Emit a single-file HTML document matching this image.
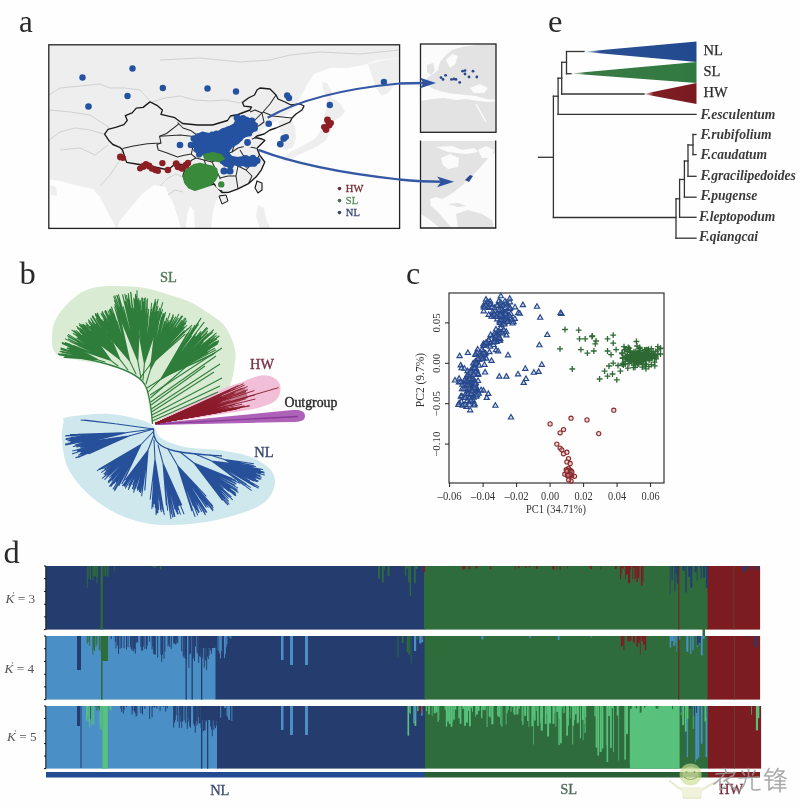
<!DOCTYPE html>
<html><head><meta charset="utf-8"><style>
html,body{margin:0;padding:0;background:#fff;}
svg{display:block;filter:blur(0.35px);}
text{font-family:"Liberation Serif",serif;}
</style></head><body>
<svg width="800" height="808" viewBox="0 0 800 808">
<rect width="800" height="808" fill="#fefefe"/>
<text x="19" y="32" font-size="31" fill="#2a2a2a">a</text>
<text x="19.5" y="284" font-size="32.5" fill="#2a2a2a">b</text>
<text x="406" y="284" font-size="32" fill="#2a2a2a">c</text>
<text x="3.5" y="563" font-size="32.5" fill="#2a2a2a">d</text>
<text x="548" y="32" font-size="32.5" fill="#2a2a2a">e</text>
<g id="structure">
<rect x="46" y="566" width="378.60" height="63.60" fill="#253c6e"/>
<rect x="424" y="566" width="284.10" height="63.60" fill="#2e6c3c"/>
<rect x="707.5" y="566" width="52.60" height="63.60" fill="#7c1c20"/>
<rect x="86.80" y="566" width="0.95" height="21.74" fill="#2e6c3c"/>
<rect x="88.40" y="566" width="0.95" height="12.82" fill="#2e6c3c"/>
<rect x="90.00" y="566" width="0.95" height="13.79" fill="#2e6c3c"/>
<rect x="92.40" y="566" width="0.95" height="14.04" fill="#2e6c3c"/>
<rect x="93.20" y="566" width="0.95" height="10.07" fill="#2e6c3c"/>
<rect x="94.00" y="566" width="0.95" height="10.56" fill="#2e6c3c"/>
<rect x="94.80" y="566" width="0.95" height="9.94" fill="#2e6c3c"/>
<rect x="95.60" y="566" width="0.95" height="10.61" fill="#2e6c3c"/>
<rect x="96.40" y="566" width="0.95" height="17.14" fill="#2e6c3c"/>
<rect x="97.20" y="566" width="0.95" height="11.24" fill="#2e6c3c"/>
<rect x="103.60" y="566" width="0.95" height="10.22" fill="#2e6c3c"/>
<rect x="105.20" y="566" width="0.95" height="10.47" fill="#2e6c3c"/>
<rect x="106.80" y="566" width="0.95" height="9.21" fill="#2e6c3c"/>
<rect x="107.60" y="566" width="0.95" height="10.91" fill="#2e6c3c"/>
<rect x="100.60" y="566" width="2.20" height="63.60" fill="#2e6c3c"/>
<rect x="114.13" y="566" width="0.69" height="5.18" fill="#2e6c3c"/>
<rect x="152.17" y="566" width="1.60" height="1.05" fill="#2e6c3c"/>
<rect x="153.77" y="566" width="1.94" height="1.94" fill="#2e6c3c"/>
<rect x="159.85" y="566" width="1.62" height="3.54" fill="#2e6c3c"/>
<rect x="378.00" y="566" width="0.98" height="12.49" fill="#2e6c3c"/>
<rect x="378.98" y="566" width="0.85" height="12.65" fill="#2e6c3c"/>
<rect x="381.89" y="566" width="1.82" height="16.56" fill="#2e6c3c"/>
<rect x="383.72" y="566" width="1.04" height="4.08" fill="#2e6c3c"/>
<rect x="387.63" y="566" width="1.88" height="9.99" fill="#2e6c3c"/>
<rect x="404.92" y="566" width="1.29" height="9.85" fill="#2e6c3c"/>
<rect x="406.21" y="566" width="1.90" height="2.34" fill="#2e6c3c"/>
<rect x="408.11" y="566" width="1.60" height="16.50" fill="#2e6c3c"/>
<rect x="409.71" y="566" width="1.35" height="29.92" fill="#2e6c3c"/>
<rect x="413.95" y="566" width="1.80" height="17.20" fill="#2e6c3c"/>
<rect x="415.74" y="566" width="2.05" height="2.79" fill="#2e6c3c"/>
<rect x="423.01" y="566" width="2.04" height="6.16" fill="#7c1c20"/>
<rect x="462.30" y="566" width="1.54" height="3.64" fill="#7c1c20"/>
<rect x="463.84" y="566" width="1.44" height="2.99" fill="#7c1c20"/>
<rect x="468.69" y="566" width="1.72" height="3.33" fill="#7c1c20"/>
<rect x="475.40" y="566" width="2.20" height="2.27" fill="#7c1c20"/>
<rect x="489.94" y="566" width="1.25" height="3.24" fill="#7c1c20"/>
<rect x="515.14" y="566" width="0.69" height="3.32" fill="#7c1c20"/>
<rect x="517.79" y="566" width="1.97" height="1.58" fill="#7c1c20"/>
<rect x="525.04" y="566" width="1.35" height="2.09" fill="#7c1c20"/>
<rect x="528.80" y="566" width="1.60" height="1.32" fill="#7c1c20"/>
<rect x="535.80" y="566" width="1.93" height="2.85" fill="#7c1c20"/>
<rect x="552.15" y="566" width="2.10" height="3.57" fill="#7c1c20"/>
<rect x="556.59" y="566" width="0.65" height="3.45" fill="#7c1c20"/>
<rect x="559.52" y="566" width="1.19" height="3.98" fill="#7c1c20"/>
<rect x="567.11" y="566" width="0.72" height="2.56" fill="#7c1c20"/>
<rect x="589.09" y="566" width="1.22" height="1.12" fill="#7c1c20"/>
<rect x="590.30" y="566" width="1.81" height="3.13" fill="#7c1c20"/>
<rect x="600.59" y="566" width="0.79" height="3.95" fill="#7c1c20"/>
<rect x="614.93" y="566" width="1.84" height="2.79" fill="#7c1c20"/>
<rect x="620.00" y="566" width="1.12" height="13.37" fill="#7c1c20"/>
<rect x="621.12" y="566" width="0.72" height="7.95" fill="#7c1c20"/>
<rect x="621.83" y="566" width="0.69" height="1.71" fill="#7c1c20"/>
<rect x="622.53" y="566" width="1.29" height="2.72" fill="#7c1c20"/>
<rect x="625.10" y="566" width="0.80" height="12.92" fill="#7c1c20"/>
<rect x="625.90" y="566" width="2.12" height="8.54" fill="#7c1c20"/>
<rect x="628.01" y="566" width="2.16" height="17.31" fill="#7c1c20"/>
<rect x="630.18" y="566" width="1.06" height="3.24" fill="#7c1c20"/>
<rect x="632.33" y="566" width="0.89" height="13.14" fill="#7c1c20"/>
<rect x="633.22" y="566" width="1.20" height="2.19" fill="#7c1c20"/>
<rect x="634.42" y="566" width="0.70" height="13.93" fill="#7c1c20"/>
<rect x="635.11" y="566" width="1.28" height="12.13" fill="#7c1c20"/>
<rect x="636.40" y="566" width="1.33" height="16.09" fill="#7c1c20"/>
<rect x="637.72" y="566" width="1.72" height="11.91" fill="#7c1c20"/>
<rect x="640.88" y="566" width="1.77" height="19.62" fill="#7c1c20"/>
<rect x="642.65" y="566" width="0.79" height="15.39" fill="#7c1c20"/>
<rect x="643.44" y="566" width="0.84" height="1.74" fill="#7c1c20"/>
<rect x="669.76" y="566" width="0.74" height="27.98" fill="#253c6e"/>
<rect x="671.44" y="566" width="1.33" height="14.36" fill="#253c6e"/>
<rect x="673.68" y="566" width="0.74" height="1.54" fill="#253c6e"/>
<rect x="674.42" y="566" width="1.03" height="25.36" fill="#253c6e"/>
<rect x="675.45" y="566" width="1.21" height="7.98" fill="#253c6e"/>
<rect x="676.66" y="566" width="2.19" height="17.74" fill="#253c6e"/>
<rect x="682.58" y="566" width="2.04" height="4.84" fill="#253c6e"/>
<rect x="685.33" y="566" width="1.38" height="26.54" fill="#253c6e"/>
<rect x="688.24" y="566" width="2.01" height="10.63" fill="#253c6e"/>
<rect x="690.25" y="566" width="2.00" height="21.64" fill="#253c6e"/>
<rect x="694.73" y="566" width="1.95" height="6.34" fill="#253c6e"/>
<rect x="696.68" y="566" width="0.84" height="14.76" fill="#253c6e"/>
<rect x="699.65" y="566" width="0.95" height="1.32" fill="#253c6e"/>
<rect x="700.60" y="566" width="1.15" height="12.43" fill="#253c6e"/>
<rect x="702.95" y="566" width="2.03" height="11.70" fill="#253c6e"/>
<rect x="705.84" y="566" width="2.16" height="21.69" fill="#253c6e"/>
<rect x="678.30" y="566" width="1.00" height="63.60" fill="#7c1c20"/>
<rect x="742.77" y="566" width="2.04" height="5.99" fill="#253c6e"/>
<rect x="744.81" y="566" width="1.59" height="4.41" fill="#253c6e"/>
<rect x="748.12" y="566" width="1.76" height="3.14" fill="#253c6e"/>
<rect x="754.58" y="566" width="1.79" height="3.62" fill="#253c6e"/>
<rect x="758.05" y="566" width="1.27" height="3.40" fill="#253c6e"/>
<rect x="733.50" y="566" width="0.80" height="63.60" fill="#5a4a3a"/>
<rect x="702.5" y="629" width="2.5" height="7.5" fill="#2e6c3c"/>
<rect x="46" y="636" width="170.10" height="63.60" fill="#4a8fc6"/>
<rect x="215.5" y="636" width="209.60" height="63.60" fill="#253c6e"/>
<rect x="424.5" y="636" width="283.60" height="63.60" fill="#2e6c3c"/>
<rect x="707.5" y="636" width="52.60" height="63.60" fill="#7c1c20"/>
<rect x="77.00" y="636" width="4.00" height="34.00" fill="#253c6e"/>
<rect x="86.80" y="636" width="0.95" height="7.69" fill="#2e6c3c"/>
<rect x="87.60" y="636" width="0.95" height="6.21" fill="#2e6c3c"/>
<rect x="89.20" y="636" width="0.95" height="9.79" fill="#2e6c3c"/>
<rect x="92.40" y="636" width="0.95" height="18.35" fill="#2e6c3c"/>
<rect x="93.20" y="636" width="0.95" height="13.39" fill="#2e6c3c"/>
<rect x="94.00" y="636" width="0.95" height="14.97" fill="#2e6c3c"/>
<rect x="95.60" y="636" width="0.95" height="10.64" fill="#2e6c3c"/>
<rect x="96.40" y="636" width="0.95" height="8.26" fill="#2e6c3c"/>
<rect x="98.80" y="636" width="0.95" height="13.86" fill="#2e6c3c"/>
<rect x="100.40" y="636" width="0.95" height="15.40" fill="#2e6c3c"/>
<rect x="102.00" y="636" width="6.00" height="25.00" fill="#2e6c3c"/>
<rect x="101.00" y="636" width="1.60" height="63.60" fill="#2e6c3c"/>
<rect x="110.80" y="636" width="0.95" height="3.09" fill="#253c6e"/>
<rect x="114.00" y="636" width="0.95" height="0.45" fill="#253c6e"/>
<rect x="114.80" y="636" width="0.95" height="5.73" fill="#253c6e"/>
<rect x="115.60" y="636" width="0.95" height="12.31" fill="#253c6e"/>
<rect x="117.20" y="636" width="0.95" height="9.40" fill="#253c6e"/>
<rect x="118.00" y="636" width="0.95" height="17.91" fill="#253c6e"/>
<rect x="119.60" y="636" width="0.95" height="12.82" fill="#253c6e"/>
<rect x="121.20" y="636" width="0.95" height="12.03" fill="#253c6e"/>
<rect x="123.60" y="636" width="0.95" height="12.11" fill="#253c6e"/>
<rect x="126.00" y="636" width="0.95" height="13.46" fill="#253c6e"/>
<rect x="127.60" y="636" width="0.95" height="11.14" fill="#253c6e"/>
<rect x="130.00" y="636" width="0.95" height="11.12" fill="#253c6e"/>
<rect x="130.80" y="636" width="0.95" height="12.93" fill="#253c6e"/>
<rect x="131.60" y="636" width="0.95" height="14.76" fill="#253c6e"/>
<rect x="132.40" y="636" width="0.95" height="12.79" fill="#253c6e"/>
<rect x="133.20" y="636" width="0.95" height="15.39" fill="#253c6e"/>
<rect x="134.00" y="636" width="0.95" height="12.83" fill="#253c6e"/>
<rect x="134.80" y="636" width="0.95" height="17.70" fill="#253c6e"/>
<rect x="135.60" y="636" width="0.95" height="7.15" fill="#253c6e"/>
<rect x="136.40" y="636" width="0.95" height="6.03" fill="#253c6e"/>
<rect x="137.20" y="636" width="0.95" height="6.40" fill="#253c6e"/>
<rect x="138.80" y="636" width="0.95" height="0.00" fill="#253c6e"/>
<rect x="140.40" y="636" width="0.95" height="10.97" fill="#253c6e"/>
<rect x="141.20" y="636" width="0.95" height="14.49" fill="#253c6e"/>
<rect x="142.00" y="636" width="0.95" height="14.60" fill="#253c6e"/>
<rect x="142.80" y="636" width="0.95" height="10.49" fill="#253c6e"/>
<rect x="144.40" y="636" width="0.95" height="12.90" fill="#253c6e"/>
<rect x="146.00" y="636" width="0.95" height="13.17" fill="#253c6e"/>
<rect x="146.80" y="636" width="0.95" height="9.69" fill="#253c6e"/>
<rect x="149.20" y="636" width="0.95" height="5.74" fill="#253c6e"/>
<rect x="151.60" y="636" width="0.95" height="13.50" fill="#253c6e"/>
<rect x="152.40" y="636" width="0.95" height="10.64" fill="#253c6e"/>
<rect x="153.20" y="636" width="0.95" height="17.99" fill="#253c6e"/>
<rect x="154.00" y="636" width="0.95" height="18.36" fill="#253c6e"/>
<rect x="154.80" y="636" width="0.95" height="18.50" fill="#253c6e"/>
<rect x="157.20" y="636" width="0.95" height="21.50" fill="#253c6e"/>
<rect x="160.40" y="636" width="0.95" height="18.52" fill="#253c6e"/>
<rect x="161.20" y="636" width="0.95" height="25.87" fill="#253c6e"/>
<rect x="162.00" y="636" width="0.95" height="19.00" fill="#253c6e"/>
<rect x="163.60" y="636" width="0.95" height="22.60" fill="#253c6e"/>
<rect x="164.40" y="636" width="0.95" height="15.21" fill="#253c6e"/>
<rect x="167.60" y="636" width="0.95" height="10.11" fill="#253c6e"/>
<rect x="168.40" y="636" width="0.95" height="8.09" fill="#253c6e"/>
<rect x="169.20" y="636" width="0.95" height="10.90" fill="#253c6e"/>
<rect x="170.80" y="636" width="0.95" height="12.90" fill="#253c6e"/>
<rect x="173.20" y="636" width="0.95" height="7.40" fill="#253c6e"/>
<rect x="174.00" y="636" width="0.95" height="7.34" fill="#253c6e"/>
<rect x="174.80" y="636" width="0.95" height="8.37" fill="#253c6e"/>
<rect x="175.60" y="636" width="0.95" height="8.12" fill="#253c6e"/>
<rect x="176.40" y="636" width="0.95" height="6.16" fill="#253c6e"/>
<rect x="177.20" y="636" width="0.95" height="7.14" fill="#253c6e"/>
<rect x="181.20" y="636" width="0.95" height="15.39" fill="#253c6e"/>
<rect x="182.80" y="636" width="0.95" height="20.20" fill="#253c6e"/>
<rect x="183.60" y="636" width="0.95" height="22.13" fill="#253c6e"/>
<rect x="184.40" y="636" width="0.95" height="19.34" fill="#253c6e"/>
<rect x="185.20" y="636" width="0.95" height="22.69" fill="#253c6e"/>
<rect x="186.00" y="636" width="0.95" height="23.40" fill="#253c6e"/>
<rect x="188.40" y="636" width="0.95" height="31.83" fill="#253c6e"/>
<rect x="189.20" y="636" width="0.95" height="18.42" fill="#253c6e"/>
<rect x="190.00" y="636" width="0.95" height="17.43" fill="#253c6e"/>
<rect x="192.40" y="636" width="0.95" height="23.22" fill="#253c6e"/>
<rect x="193.20" y="636" width="0.95" height="21.73" fill="#253c6e"/>
<rect x="194.00" y="636" width="0.95" height="25.21" fill="#253c6e"/>
<rect x="195.00" y="636" width="0.95" height="10.53" fill="#253c6e"/>
<rect x="196.60" y="636" width="0.95" height="16.69" fill="#253c6e"/>
<rect x="197.40" y="636" width="0.95" height="17.68" fill="#253c6e"/>
<rect x="198.20" y="636" width="0.95" height="26.86" fill="#253c6e"/>
<rect x="199.00" y="636" width="0.95" height="20.16" fill="#253c6e"/>
<rect x="199.80" y="636" width="0.95" height="21.22" fill="#253c6e"/>
<rect x="200.60" y="636" width="0.95" height="18.22" fill="#253c6e"/>
<rect x="201.40" y="636" width="0.95" height="19.72" fill="#253c6e"/>
<rect x="202.20" y="636" width="0.95" height="22.37" fill="#253c6e"/>
<rect x="203.80" y="636" width="0.95" height="31.54" fill="#253c6e"/>
<rect x="204.60" y="636" width="0.95" height="24.41" fill="#253c6e"/>
<rect x="205.40" y="636" width="0.95" height="24.45" fill="#253c6e"/>
<rect x="206.20" y="636" width="0.95" height="33.82" fill="#253c6e"/>
<rect x="207.00" y="636" width="0.95" height="20.64" fill="#253c6e"/>
<rect x="207.80" y="636" width="0.95" height="23.01" fill="#253c6e"/>
<rect x="208.60" y="636" width="0.95" height="19.62" fill="#253c6e"/>
<rect x="210.20" y="636" width="0.95" height="14.46" fill="#253c6e"/>
<rect x="211.00" y="636" width="0.95" height="17.69" fill="#253c6e"/>
<rect x="212.60" y="636" width="0.95" height="9.87" fill="#253c6e"/>
<rect x="213.40" y="636" width="0.95" height="7.67" fill="#253c6e"/>
<rect x="214.20" y="636" width="0.95" height="8.98" fill="#253c6e"/>
<rect x="215.00" y="636" width="0.95" height="11.27" fill="#253c6e"/>
<rect x="185.50" y="636" width="1.30" height="63.60" fill="#253c6e"/>
<rect x="191.50" y="636" width="1.30" height="63.60" fill="#253c6e"/>
<rect x="201.00" y="636" width="1.30" height="63.60" fill="#253c6e"/>
<rect x="200.00" y="636" width="15.50" height="12.00" fill="#253c6e"/>
<rect x="217.60" y="636" width="0.95" height="14.48" fill="#4a8fc6"/>
<rect x="219.20" y="636" width="0.95" height="17.23" fill="#4a8fc6"/>
<rect x="220.00" y="636" width="0.95" height="22.44" fill="#4a8fc6"/>
<rect x="220.80" y="636" width="0.95" height="14.85" fill="#4a8fc6"/>
<rect x="224.00" y="636" width="0.95" height="21.93" fill="#4a8fc6"/>
<rect x="224.80" y="636" width="0.95" height="17.88" fill="#4a8fc6"/>
<rect x="225.60" y="636" width="0.95" height="11.24" fill="#4a8fc6"/>
<rect x="226.40" y="636" width="0.95" height="8.17" fill="#4a8fc6"/>
<rect x="228.80" y="636" width="0.95" height="1.30" fill="#4a8fc6"/>
<rect x="229.60" y="636" width="0.95" height="0.11" fill="#4a8fc6"/>
<rect x="230.40" y="636" width="0.95" height="2.77" fill="#4a8fc6"/>
<rect x="281.00" y="636" width="2.50" height="24.00" fill="#4a8fc6"/>
<rect x="290.00" y="636" width="3.00" height="29.00" fill="#4a8fc6"/>
<rect x="305.00" y="636" width="3.00" height="29.00" fill="#4a8fc6"/>
<rect x="397.41" y="636" width="1.03" height="20.82" fill="#2e6c3c"/>
<rect x="401.80" y="636" width="1.84" height="7.03" fill="#2e6c3c"/>
<rect x="406.70" y="636" width="1.61" height="15.89" fill="#2e6c3c"/>
<rect x="408.31" y="636" width="1.66" height="18.60" fill="#2e6c3c"/>
<rect x="410.77" y="636" width="0.73" height="27.41" fill="#2e6c3c"/>
<rect x="416.82" y="636" width="1.61" height="3.56" fill="#2e6c3c"/>
<rect x="414.00" y="636" width="2.14" height="14.98" fill="#4a8fc6"/>
<rect x="419.31" y="636" width="2.20" height="7.42" fill="#4a8fc6"/>
<rect x="421.51" y="636" width="1.73" height="6.00" fill="#4a8fc6"/>
<rect x="422.71" y="636" width="0.62" height="4.02" fill="#7c1c20"/>
<rect x="481.40" y="636" width="2.06" height="3.26" fill="#4a8fc6"/>
<rect x="529.49" y="636" width="1.36" height="2.05" fill="#4a8fc6"/>
<rect x="557.65" y="636" width="1.93" height="3.92" fill="#4a8fc6"/>
<rect x="590.70" y="636" width="0.91" height="1.49" fill="#4a8fc6"/>
<rect x="620.89" y="636" width="1.14" height="10.30" fill="#7c1c20"/>
<rect x="622.03" y="636" width="1.39" height="9.71" fill="#7c1c20"/>
<rect x="623.42" y="636" width="1.02" height="14.15" fill="#7c1c20"/>
<rect x="627.42" y="636" width="2.11" height="5.51" fill="#7c1c20"/>
<rect x="629.53" y="636" width="1.78" height="4.84" fill="#7c1c20"/>
<rect x="632.99" y="636" width="1.94" height="6.68" fill="#7c1c20"/>
<rect x="636.49" y="636" width="1.46" height="11.01" fill="#7c1c20"/>
<rect x="637.95" y="636" width="1.92" height="6.76" fill="#7c1c20"/>
<rect x="639.87" y="636" width="0.78" height="18.54" fill="#7c1c20"/>
<rect x="641.49" y="636" width="1.61" height="4.93" fill="#7c1c20"/>
<rect x="643.10" y="636" width="1.70" height="8.73" fill="#7c1c20"/>
<rect x="644.79" y="636" width="1.37" height="14.39" fill="#7c1c20"/>
<rect x="669.68" y="636" width="1.43" height="11.63" fill="#4a8fc6"/>
<rect x="671.12" y="636" width="2.19" height="5.00" fill="#4a8fc6"/>
<rect x="673.31" y="636" width="1.02" height="9.84" fill="#4a8fc6"/>
<rect x="674.33" y="636" width="1.03" height="9.79" fill="#4a8fc6"/>
<rect x="675.36" y="636" width="1.10" height="6.44" fill="#4a8fc6"/>
<rect x="676.46" y="636" width="0.71" height="15.65" fill="#4a8fc6"/>
<rect x="678.39" y="636" width="1.88" height="3.68" fill="#4a8fc6"/>
<rect x="686.29" y="636" width="2.13" height="15.72" fill="#4a8fc6"/>
<rect x="690.18" y="636" width="1.22" height="17.91" fill="#4a8fc6"/>
<rect x="692.17" y="636" width="0.61" height="13.95" fill="#4a8fc6"/>
<rect x="692.79" y="636" width="0.79" height="14.50" fill="#4a8fc6"/>
<rect x="696.75" y="636" width="0.99" height="11.17" fill="#4a8fc6"/>
<rect x="698.53" y="636" width="1.02" height="8.66" fill="#4a8fc6"/>
<rect x="700.79" y="636" width="1.34" height="19.29" fill="#4a8fc6"/>
<rect x="702.13" y="636" width="0.67" height="19.56" fill="#4a8fc6"/>
<rect x="702.80" y="636" width="1.80" height="2.79" fill="#4a8fc6"/>
<rect x="696.94" y="636" width="1.52" height="8.82" fill="#253c6e"/>
<rect x="698.46" y="636" width="2.19" height="7.06" fill="#253c6e"/>
<rect x="678.30" y="636" width="1.00" height="63.60" fill="#7c1c20"/>
<rect x="745.32" y="636" width="1.41" height="1.03" fill="#253c6e"/>
<rect x="748.63" y="636" width="0.97" height="1.47" fill="#253c6e"/>
<rect x="754.45" y="636" width="1.40" height="11.47" fill="#253c6e"/>
<rect x="755.85" y="636" width="1.19" height="9.99" fill="#253c6e"/>
<rect x="734.00" y="636" width="0.80" height="63.60" fill="#5a4a3a"/>
<rect x="46" y="706" width="171.60" height="62.60" fill="#4a8fc6"/>
<rect x="217" y="706" width="208.60" height="62.60" fill="#253c6e"/>
<rect x="425" y="706" width="283.60" height="62.60" fill="#2e6c3c"/>
<rect x="630" y="706" width="49.60" height="62.60" fill="#58c27c"/>
<rect x="708" y="706" width="53.10" height="62.60" fill="#7c1c20"/>
<rect x="77.00" y="706" width="3.00" height="20.00" fill="#253c6e"/>
<rect x="80.50" y="706" width="1.00" height="62.00" fill="#253c6e"/>
<rect x="86.00" y="706" width="0.95" height="14.53" fill="#58c27c"/>
<rect x="86.80" y="706" width="0.95" height="10.81" fill="#58c27c"/>
<rect x="87.60" y="706" width="0.95" height="15.81" fill="#58c27c"/>
<rect x="89.20" y="706" width="0.95" height="21.42" fill="#58c27c"/>
<rect x="91.60" y="706" width="0.95" height="18.37" fill="#58c27c"/>
<rect x="93.20" y="706" width="0.95" height="18.57" fill="#58c27c"/>
<rect x="99.60" y="706" width="0.95" height="23.98" fill="#58c27c"/>
<rect x="100.40" y="706" width="0.95" height="19.87" fill="#58c27c"/>
<rect x="101.20" y="706" width="0.95" height="23.53" fill="#58c27c"/>
<rect x="90.00" y="706" width="0.95" height="13.41" fill="#2e6c3c"/>
<rect x="94.00" y="706" width="0.95" height="0.00" fill="#2e6c3c"/>
<rect x="94.80" y="706" width="0.95" height="0.97" fill="#2e6c3c"/>
<rect x="96.40" y="706" width="0.95" height="4.69" fill="#2e6c3c"/>
<rect x="97.20" y="706" width="0.95" height="0.00" fill="#2e6c3c"/>
<rect x="98.00" y="706" width="0.95" height="2.01" fill="#2e6c3c"/>
<rect x="98.80" y="706" width="0.95" height="4.32" fill="#2e6c3c"/>
<rect x="102.50" y="706" width="5.30" height="62.60" fill="#58c27c"/>
<rect x="109.51" y="706" width="1.91" height="4.26" fill="#58c27c"/>
<rect x="120.40" y="706" width="0.95" height="2.69" fill="#253c6e"/>
<rect x="121.20" y="706" width="0.95" height="5.83" fill="#253c6e"/>
<rect x="122.80" y="706" width="0.95" height="7.42" fill="#253c6e"/>
<rect x="123.60" y="706" width="0.95" height="4.10" fill="#253c6e"/>
<rect x="126.00" y="706" width="0.95" height="1.03" fill="#253c6e"/>
<rect x="127.60" y="706" width="0.95" height="0.00" fill="#253c6e"/>
<rect x="128.40" y="706" width="0.95" height="0.00" fill="#253c6e"/>
<rect x="130.00" y="706" width="0.95" height="0.00" fill="#253c6e"/>
<rect x="131.60" y="706" width="0.95" height="8.59" fill="#253c6e"/>
<rect x="132.40" y="706" width="0.95" height="4.50" fill="#253c6e"/>
<rect x="134.00" y="706" width="0.95" height="5.62" fill="#253c6e"/>
<rect x="134.80" y="706" width="0.95" height="7.30" fill="#253c6e"/>
<rect x="135.60" y="706" width="0.95" height="10.62" fill="#253c6e"/>
<rect x="136.40" y="706" width="0.95" height="9.75" fill="#253c6e"/>
<rect x="140.40" y="706" width="0.95" height="7.13" fill="#253c6e"/>
<rect x="142.00" y="706" width="0.95" height="8.38" fill="#253c6e"/>
<rect x="144.40" y="706" width="0.95" height="2.78" fill="#253c6e"/>
<rect x="149.20" y="706" width="0.95" height="13.06" fill="#253c6e"/>
<rect x="151.60" y="706" width="0.95" height="11.30" fill="#253c6e"/>
<rect x="152.40" y="706" width="0.95" height="1.39" fill="#253c6e"/>
<rect x="153.20" y="706" width="0.95" height="0.00" fill="#253c6e"/>
<rect x="154.00" y="706" width="0.95" height="1.62" fill="#253c6e"/>
<rect x="155.60" y="706" width="0.95" height="0.88" fill="#253c6e"/>
<rect x="156.40" y="706" width="0.95" height="2.49" fill="#253c6e"/>
<rect x="159.60" y="706" width="0.95" height="4.68" fill="#253c6e"/>
<rect x="162.80" y="706" width="0.95" height="0.91" fill="#253c6e"/>
<rect x="163.60" y="706" width="0.95" height="0.00" fill="#253c6e"/>
<rect x="165.20" y="706" width="0.95" height="5.55" fill="#253c6e"/>
<rect x="166.80" y="706" width="0.95" height="2.44" fill="#253c6e"/>
<rect x="167.60" y="706" width="0.95" height="0.00" fill="#253c6e"/>
<rect x="168.40" y="706" width="0.95" height="0.00" fill="#253c6e"/>
<rect x="173.20" y="706" width="0.95" height="21.68" fill="#253c6e"/>
<rect x="174.00" y="706" width="0.95" height="16.64" fill="#253c6e"/>
<rect x="174.80" y="706" width="0.95" height="14.24" fill="#253c6e"/>
<rect x="175.60" y="706" width="0.95" height="9.21" fill="#253c6e"/>
<rect x="177.20" y="706" width="0.95" height="15.59" fill="#253c6e"/>
<rect x="178.80" y="706" width="0.95" height="21.90" fill="#253c6e"/>
<rect x="179.60" y="706" width="0.95" height="10.25" fill="#253c6e"/>
<rect x="180.40" y="706" width="0.95" height="15.71" fill="#253c6e"/>
<rect x="181.20" y="706" width="0.95" height="21.73" fill="#253c6e"/>
<rect x="182.00" y="706" width="0.95" height="15.42" fill="#253c6e"/>
<rect x="183.60" y="706" width="0.95" height="14.56" fill="#253c6e"/>
<rect x="185.20" y="706" width="0.95" height="17.14" fill="#253c6e"/>
<rect x="186.80" y="706" width="0.95" height="22.85" fill="#253c6e"/>
<rect x="187.60" y="706" width="0.95" height="10.78" fill="#253c6e"/>
<rect x="188.40" y="706" width="0.95" height="15.79" fill="#253c6e"/>
<rect x="189.20" y="706" width="0.95" height="20.50" fill="#253c6e"/>
<rect x="190.00" y="706" width="0.95" height="21.69" fill="#253c6e"/>
<rect x="193.20" y="706" width="0.95" height="17.96" fill="#253c6e"/>
<rect x="194.00" y="706" width="0.95" height="19.77" fill="#253c6e"/>
<rect x="194.80" y="706" width="0.95" height="26.77" fill="#253c6e"/>
<rect x="195.00" y="706" width="0.95" height="16.69" fill="#253c6e"/>
<rect x="195.80" y="706" width="0.95" height="14.81" fill="#253c6e"/>
<rect x="196.60" y="706" width="0.95" height="19.43" fill="#253c6e"/>
<rect x="197.40" y="706" width="0.95" height="17.26" fill="#253c6e"/>
<rect x="198.20" y="706" width="0.95" height="11.14" fill="#253c6e"/>
<rect x="199.00" y="706" width="0.95" height="17.46" fill="#253c6e"/>
<rect x="199.80" y="706" width="0.95" height="16.99" fill="#253c6e"/>
<rect x="200.60" y="706" width="0.95" height="21.79" fill="#253c6e"/>
<rect x="201.40" y="706" width="0.95" height="27.09" fill="#253c6e"/>
<rect x="203.00" y="706" width="0.95" height="25.04" fill="#253c6e"/>
<rect x="203.80" y="706" width="0.95" height="24.00" fill="#253c6e"/>
<rect x="204.60" y="706" width="0.95" height="24.33" fill="#253c6e"/>
<rect x="205.40" y="706" width="0.95" height="15.86" fill="#253c6e"/>
<rect x="206.20" y="706" width="0.95" height="14.48" fill="#253c6e"/>
<rect x="207.00" y="706" width="0.95" height="15.16" fill="#253c6e"/>
<rect x="210.20" y="706" width="0.95" height="20.63" fill="#253c6e"/>
<rect x="211.00" y="706" width="0.95" height="23.62" fill="#253c6e"/>
<rect x="211.80" y="706" width="0.95" height="30.15" fill="#253c6e"/>
<rect x="212.60" y="706" width="0.95" height="15.18" fill="#253c6e"/>
<rect x="213.40" y="706" width="0.95" height="23.90" fill="#253c6e"/>
<rect x="214.20" y="706" width="0.95" height="19.93" fill="#253c6e"/>
<rect x="215.00" y="706" width="0.95" height="22.15" fill="#253c6e"/>
<rect x="215.80" y="706" width="0.95" height="19.58" fill="#253c6e"/>
<rect x="216.60" y="706" width="0.95" height="15.54" fill="#253c6e"/>
<rect x="201.00" y="706" width="1.30" height="62.60" fill="#253c6e"/>
<rect x="207.00" y="706" width="1.30" height="62.60" fill="#253c6e"/>
<rect x="202.00" y="706" width="15.00" height="14.00" fill="#253c6e"/>
<rect x="220.20" y="706" width="0.95" height="11.63" fill="#4a8fc6"/>
<rect x="221.80" y="706" width="0.95" height="0.00" fill="#4a8fc6"/>
<rect x="222.60" y="706" width="0.95" height="0.00" fill="#4a8fc6"/>
<rect x="224.20" y="706" width="0.95" height="2.04" fill="#4a8fc6"/>
<rect x="225.00" y="706" width="0.95" height="1.77" fill="#4a8fc6"/>
<rect x="226.60" y="706" width="0.95" height="9.68" fill="#4a8fc6"/>
<rect x="227.40" y="706" width="0.95" height="11.16" fill="#4a8fc6"/>
<rect x="228.20" y="706" width="0.95" height="13.65" fill="#4a8fc6"/>
<rect x="229.00" y="706" width="0.95" height="14.04" fill="#4a8fc6"/>
<rect x="231.40" y="706" width="0.95" height="14.98" fill="#4a8fc6"/>
<rect x="281.00" y="706" width="2.50" height="24.00" fill="#4a8fc6"/>
<rect x="290.00" y="706" width="3.00" height="29.00" fill="#4a8fc6"/>
<rect x="305.00" y="706" width="3.00" height="29.00" fill="#4a8fc6"/>
<rect x="407.49" y="706" width="1.64" height="29.62" fill="#58c27c"/>
<rect x="409.13" y="706" width="0.74" height="6.89" fill="#58c27c"/>
<rect x="409.87" y="706" width="0.87" height="7.95" fill="#58c27c"/>
<rect x="413.41" y="706" width="1.16" height="17.35" fill="#58c27c"/>
<rect x="414.56" y="706" width="1.76" height="19.83" fill="#58c27c"/>
<rect x="417.26" y="706" width="1.17" height="5.07" fill="#58c27c"/>
<rect x="421.04" y="706" width="1.04" height="1.08" fill="#58c27c"/>
<rect x="414.00" y="706" width="1.69" height="15.21" fill="#4a8fc6"/>
<rect x="421.03" y="706" width="1.56" height="9.71" fill="#4a8fc6"/>
<rect x="419.62" y="706" width="1.76" height="7.28" fill="#7c1c20"/>
<rect x="422.58" y="706" width="0.87" height="3.40" fill="#7c1c20"/>
<rect x="426.00" y="706" width="0.94" height="5.10" fill="#58c27c"/>
<rect x="428.17" y="706" width="1.63" height="8.48" fill="#58c27c"/>
<rect x="431.76" y="706" width="0.72" height="9.90" fill="#58c27c"/>
<rect x="433.75" y="706" width="1.99" height="7.30" fill="#58c27c"/>
<rect x="435.74" y="706" width="1.75" height="6.41" fill="#58c27c"/>
<rect x="437.48" y="706" width="1.11" height="15.89" fill="#58c27c"/>
<rect x="438.60" y="706" width="0.67" height="14.01" fill="#58c27c"/>
<rect x="444.59" y="706" width="1.22" height="3.85" fill="#58c27c"/>
<rect x="445.81" y="706" width="1.29" height="20.61" fill="#58c27c"/>
<rect x="447.10" y="706" width="1.81" height="15.53" fill="#58c27c"/>
<rect x="448.90" y="706" width="1.72" height="17.99" fill="#58c27c"/>
<rect x="450.62" y="706" width="1.77" height="20.82" fill="#58c27c"/>
<rect x="452.39" y="706" width="0.74" height="16.19" fill="#58c27c"/>
<rect x="453.14" y="706" width="1.67" height="13.72" fill="#58c27c"/>
<rect x="454.80" y="706" width="1.54" height="3.66" fill="#58c27c"/>
<rect x="458.26" y="706" width="1.49" height="12.38" fill="#58c27c"/>
<rect x="459.74" y="706" width="1.63" height="17.86" fill="#58c27c"/>
<rect x="462.34" y="706" width="1.75" height="2.88" fill="#58c27c"/>
<rect x="464.09" y="706" width="1.84" height="19.90" fill="#58c27c"/>
<rect x="465.93" y="706" width="2.09" height="16.54" fill="#58c27c"/>
<rect x="468.02" y="706" width="0.95" height="4.98" fill="#58c27c"/>
<rect x="468.97" y="706" width="1.88" height="20.30" fill="#58c27c"/>
<rect x="470.85" y="706" width="1.18" height="1.83" fill="#58c27c"/>
<rect x="472.03" y="706" width="0.94" height="5.67" fill="#58c27c"/>
<rect x="475.13" y="706" width="0.79" height="10.64" fill="#58c27c"/>
<rect x="475.92" y="706" width="2.00" height="8.48" fill="#58c27c"/>
<rect x="477.92" y="706" width="1.67" height="4.88" fill="#58c27c"/>
<rect x="481.04" y="706" width="1.34" height="12.27" fill="#58c27c"/>
<rect x="482.38" y="706" width="1.88" height="4.14" fill="#58c27c"/>
<rect x="484.26" y="706" width="1.40" height="4.06" fill="#58c27c"/>
<rect x="486.60" y="706" width="0.92" height="20.86" fill="#58c27c"/>
<rect x="488.72" y="706" width="1.94" height="10.69" fill="#58c27c"/>
<rect x="490.66" y="706" width="0.63" height="12.01" fill="#58c27c"/>
<rect x="491.28" y="706" width="2.18" height="18.31" fill="#58c27c"/>
<rect x="497.03" y="706" width="1.17" height="9.67" fill="#58c27c"/>
<rect x="498.19" y="706" width="1.79" height="11.06" fill="#58c27c"/>
<rect x="499.99" y="706" width="0.70" height="18.66" fill="#58c27c"/>
<rect x="501.35" y="706" width="1.03" height="20.71" fill="#58c27c"/>
<rect x="505.72" y="706" width="0.81" height="18.36" fill="#58c27c"/>
<rect x="506.53" y="706" width="1.09" height="7.31" fill="#58c27c"/>
<rect x="507.62" y="706" width="1.05" height="4.10" fill="#58c27c"/>
<rect x="510.62" y="706" width="0.92" height="5.83" fill="#58c27c"/>
<rect x="511.54" y="706" width="1.62" height="1.03" fill="#58c27c"/>
<rect x="513.16" y="706" width="0.63" height="7.14" fill="#58c27c"/>
<rect x="513.79" y="706" width="1.75" height="8.80" fill="#58c27c"/>
<rect x="516.40" y="706" width="2.09" height="8.50" fill="#58c27c"/>
<rect x="518.49" y="706" width="1.31" height="2.60" fill="#58c27c"/>
<rect x="521.60" y="706" width="0.63" height="15.32" fill="#58c27c"/>
<rect x="522.23" y="706" width="1.29" height="18.81" fill="#58c27c"/>
<rect x="524.17" y="706" width="2.04" height="9.89" fill="#58c27c"/>
<rect x="527.04" y="706" width="1.49" height="15.03" fill="#58c27c"/>
<rect x="528.53" y="706" width="0.75" height="20.97" fill="#58c27c"/>
<rect x="531.35" y="706" width="1.96" height="20.28" fill="#58c27c"/>
<rect x="533.31" y="706" width="0.87" height="10.92" fill="#58c27c"/>
<rect x="536.36" y="706" width="0.74" height="5.07" fill="#58c27c"/>
<rect x="537.10" y="706" width="1.63" height="19.88" fill="#58c27c"/>
<rect x="540.10" y="706" width="0.79" height="16.89" fill="#58c27c"/>
<rect x="540.88" y="706" width="2.19" height="12.13" fill="#58c27c"/>
<rect x="544.81" y="706" width="1.82" height="17.92" fill="#58c27c"/>
<rect x="546.63" y="706" width="1.66" height="7.65" fill="#58c27c"/>
<rect x="548.29" y="706" width="0.70" height="4.64" fill="#58c27c"/>
<rect x="549.00" y="706" width="2.03" height="17.40" fill="#58c27c"/>
<rect x="553.66" y="706" width="1.14" height="7.29" fill="#58c27c"/>
<rect x="555.50" y="706" width="0.78" height="20.97" fill="#58c27c"/>
<rect x="556.28" y="706" width="2.07" height="5.88" fill="#58c27c"/>
<rect x="558.35" y="706" width="2.04" height="12.37" fill="#58c27c"/>
<rect x="561.05" y="706" width="1.77" height="1.12" fill="#58c27c"/>
<rect x="562.81" y="706" width="0.76" height="7.16" fill="#58c27c"/>
<rect x="566.39" y="706" width="1.56" height="11.40" fill="#58c27c"/>
<rect x="567.95" y="706" width="0.64" height="11.68" fill="#58c27c"/>
<rect x="570.44" y="706" width="0.61" height="12.29" fill="#58c27c"/>
<rect x="571.05" y="706" width="1.03" height="1.04" fill="#58c27c"/>
<rect x="572.08" y="706" width="2.00" height="19.77" fill="#58c27c"/>
<rect x="577.31" y="706" width="1.51" height="16.08" fill="#58c27c"/>
<rect x="581.94" y="706" width="1.98" height="13.93" fill="#58c27c"/>
<rect x="583.92" y="706" width="0.67" height="17.61" fill="#58c27c"/>
<rect x="584.59" y="706" width="1.17" height="5.82" fill="#58c27c"/>
<rect x="533.33" y="706" width="0.65" height="38.51" fill="#58c27c"/>
<rect x="533.98" y="706" width="1.66" height="14.59" fill="#58c27c"/>
<rect x="540.70" y="706" width="2.14" height="24.59" fill="#58c27c"/>
<rect x="547.14" y="706" width="1.95" height="30.50" fill="#58c27c"/>
<rect x="549.09" y="706" width="0.96" height="7.34" fill="#58c27c"/>
<rect x="552.49" y="706" width="2.03" height="17.90" fill="#58c27c"/>
<rect x="558.31" y="706" width="1.34" height="39.16" fill="#58c27c"/>
<rect x="559.65" y="706" width="2.11" height="37.25" fill="#58c27c"/>
<rect x="564.34" y="706" width="0.71" height="6.80" fill="#58c27c"/>
<rect x="566.26" y="706" width="1.76" height="29.64" fill="#58c27c"/>
<rect x="568.02" y="706" width="0.90" height="19.69" fill="#58c27c"/>
<rect x="572.28" y="706" width="0.91" height="38.38" fill="#58c27c"/>
<rect x="573.19" y="706" width="1.67" height="14.16" fill="#58c27c"/>
<rect x="574.87" y="706" width="1.84" height="8.28" fill="#58c27c"/>
<rect x="576.70" y="706" width="1.89" height="17.35" fill="#58c27c"/>
<rect x="579.88" y="706" width="1.10" height="32.24" fill="#58c27c"/>
<rect x="582.79" y="706" width="0.67" height="34.25" fill="#58c27c"/>
<rect x="584.56" y="706" width="1.09" height="27.13" fill="#58c27c"/>
<rect x="585.00" y="706" width="1.21" height="11.29" fill="#58c27c"/>
<rect x="594.37" y="706" width="1.30" height="10.29" fill="#58c27c"/>
<rect x="595.67" y="706" width="1.76" height="41.59" fill="#58c27c"/>
<rect x="597.43" y="706" width="1.59" height="49.63" fill="#58c27c"/>
<rect x="599.68" y="706" width="1.95" height="46.03" fill="#58c27c"/>
<rect x="601.62" y="706" width="1.77" height="42.54" fill="#58c27c"/>
<rect x="605.89" y="706" width="0.69" height="39.43" fill="#58c27c"/>
<rect x="606.58" y="706" width="1.57" height="56.04" fill="#58c27c"/>
<rect x="608.15" y="706" width="1.95" height="10.05" fill="#58c27c"/>
<rect x="610.11" y="706" width="1.67" height="42.13" fill="#58c27c"/>
<rect x="611.78" y="706" width="1.39" height="2.34" fill="#58c27c"/>
<rect x="613.16" y="706" width="0.82" height="46.15" fill="#58c27c"/>
<rect x="616.73" y="706" width="1.65" height="9.61" fill="#58c27c"/>
<rect x="618.37" y="706" width="0.71" height="54.47" fill="#58c27c"/>
<rect x="624.31" y="706" width="1.57" height="53.60" fill="#58c27c"/>
<rect x="625.88" y="706" width="2.14" height="28.12" fill="#58c27c"/>
<rect x="629.79" y="706" width="1.26" height="60.99" fill="#58c27c"/>
<rect x="630.00" y="706" width="1.62" height="2.93" fill="#2e6c3c"/>
<rect x="635.65" y="706" width="1.41" height="2.39" fill="#2e6c3c"/>
<rect x="639.65" y="706" width="1.90" height="6.64" fill="#2e6c3c"/>
<rect x="644.11" y="706" width="1.14" height="1.68" fill="#2e6c3c"/>
<rect x="655.67" y="706" width="1.73" height="2.60" fill="#2e6c3c"/>
<rect x="657.39" y="706" width="1.06" height="2.63" fill="#2e6c3c"/>
<rect x="672.05" y="706" width="0.97" height="3.21" fill="#2e6c3c"/>
<rect x="686.79" y="706" width="1.29" height="51.20" fill="#4a8fc6"/>
<rect x="695.22" y="706" width="0.68" height="56.57" fill="#4a8fc6"/>
<rect x="695.90" y="706" width="1.94" height="53.44" fill="#4a8fc6"/>
<rect x="697.84" y="706" width="1.44" height="51.49" fill="#4a8fc6"/>
<rect x="700.81" y="706" width="1.69" height="37.74" fill="#4a8fc6"/>
<rect x="705.49" y="706" width="1.72" height="51.05" fill="#4a8fc6"/>
<rect x="680.25" y="706" width="1.98" height="6.40" fill="#253c6e"/>
<rect x="682.23" y="706" width="0.65" height="1.21" fill="#253c6e"/>
<rect x="689.54" y="706" width="1.59" height="2.68" fill="#253c6e"/>
<rect x="692.65" y="706" width="2.15" height="10.26" fill="#253c6e"/>
<rect x="696.17" y="706" width="0.90" height="6.95" fill="#253c6e"/>
<rect x="704.83" y="706" width="1.46" height="11.93" fill="#253c6e"/>
<rect x="680.77" y="706" width="0.72" height="9.23" fill="#58c27c"/>
<rect x="682.27" y="706" width="1.79" height="19.12" fill="#58c27c"/>
<rect x="684.88" y="706" width="1.78" height="25.59" fill="#58c27c"/>
<rect x="686.65" y="706" width="1.75" height="12.84" fill="#58c27c"/>
<rect x="692.84" y="706" width="0.75" height="22.78" fill="#58c27c"/>
<rect x="704.51" y="706" width="1.60" height="15.50" fill="#58c27c"/>
<rect x="734.00" y="706" width="0.80" height="62.60" fill="#5a4a3a"/>
<rect x="751.06" y="706" width="0.65" height="8.68" fill="#58c27c"/>
<rect x="755.90" y="706" width="2.10" height="24.38" fill="#58c27c"/>
<rect x="757.99" y="706" width="1.37" height="12.17" fill="#58c27c"/>
<rect x="46" y="772" width="379" height="5.5" fill="#234b91"/>
<rect x="425" y="772" width="283" height="5.5" fill="#2a5e34"/>
<rect x="708" y="772" width="52" height="5.5" fill="#7e1d22"/>
<line x1="45.8" y1="566" x2="45.8" y2="629.6" stroke="#111" stroke-width="1"/>
<line x1="44" y1="566.0" x2="46" y2="566.0" stroke="#111" stroke-width="1"/>
<line x1="44" y1="578.7" x2="46" y2="578.7" stroke="#111" stroke-width="1"/>
<line x1="44" y1="591.4" x2="46" y2="591.4" stroke="#111" stroke-width="1"/>
<line x1="44" y1="604.2" x2="46" y2="604.2" stroke="#111" stroke-width="1"/>
<line x1="44" y1="616.9" x2="46" y2="616.9" stroke="#111" stroke-width="1"/>
<line x1="44" y1="629.6" x2="46" y2="629.6" stroke="#111" stroke-width="1"/>
<line x1="45.8" y1="636" x2="45.8" y2="699.6" stroke="#111" stroke-width="1"/>
<line x1="44" y1="636.0" x2="46" y2="636.0" stroke="#111" stroke-width="1"/>
<line x1="44" y1="648.7" x2="46" y2="648.7" stroke="#111" stroke-width="1"/>
<line x1="44" y1="661.4" x2="46" y2="661.4" stroke="#111" stroke-width="1"/>
<line x1="44" y1="674.2" x2="46" y2="674.2" stroke="#111" stroke-width="1"/>
<line x1="44" y1="686.9" x2="46" y2="686.9" stroke="#111" stroke-width="1"/>
<line x1="44" y1="699.6" x2="46" y2="699.6" stroke="#111" stroke-width="1"/>
<line x1="45.8" y1="706" x2="45.8" y2="768.6" stroke="#111" stroke-width="1"/>
<line x1="44" y1="706.0" x2="46" y2="706.0" stroke="#111" stroke-width="1"/>
<line x1="44" y1="718.5" x2="46" y2="718.5" stroke="#111" stroke-width="1"/>
<line x1="44" y1="731.0" x2="46" y2="731.0" stroke="#111" stroke-width="1"/>
<line x1="44" y1="743.6" x2="46" y2="743.6" stroke="#111" stroke-width="1"/>
<line x1="44" y1="756.1" x2="46" y2="756.1" stroke="#111" stroke-width="1"/>
<line x1="44" y1="768.6" x2="46" y2="768.6" stroke="#111" stroke-width="1"/>
</g>
<text x="5.5" y="602.8" font-family="Liberation Serif" font-size="13.3" fill="#555"><tspan font-style="italic">K</tspan><tspan dx="-1.5" dy="-4.5" font-size="8">&#39;</tspan><tspan dy="4.5"> = 3</tspan></text>
<text x="4.6" y="672.6" font-family="Liberation Serif" font-size="13.3" fill="#555"><tspan font-style="italic">K</tspan><tspan dx="-1.5" dy="-4.5" font-size="8">&#39;</tspan><tspan dy="4.5"> = 4</tspan></text>
<text x="7" y="740.9" font-family="Liberation Serif" font-size="13.3" fill="#555"><tspan font-style="italic">K</tspan><tspan dx="-1.5" dy="-4.5" font-size="8">&#39;</tspan><tspan dy="4.5"> = 5</tspan></text>
<text x="219.8" y="794.7" font-family="Liberation Serif" font-size="14.5" fill="#3a4a72" stroke="#3a4a72" stroke-width="0.3" text-anchor="middle">NL</text>
<text x="568.6" y="793.9" font-family="Liberation Serif" font-size="14.5" fill="#4a6a52" stroke="#4a6a52" stroke-width="0.3" text-anchor="middle">SL</text>
<text x="731" y="793.7" font-family="Liberation Serif" font-size="14.5" fill="#7a2a38" stroke="#7a2a38" stroke-width="0.3" text-anchor="middle">HW</text>
<defs><linearGradient id="gNL" x1="0" x2="1" y1="0" y2="0"><stop offset="0" stop-color="#fff"/><stop offset="0.15" stop-color="#2a4f93"/><stop offset="1" stop-color="#22498f"/></linearGradient><linearGradient id="gSL" x1="0" x2="1" y1="0" y2="0"><stop offset="0" stop-color="#fff"/><stop offset="0.12" stop-color="#3b7a45"/><stop offset="1" stop-color="#2f7a40"/></linearGradient><linearGradient id="gHW" x1="0" x2="1" y1="0" y2="0"><stop offset="0" stop-color="#fff"/><stop offset="0.2" stop-color="#7e1f24"/><stop offset="1" stop-color="#7a1a1f"/></linearGradient></defs>
<polygon points="583,51.8 696.5,41.5 696.5,62" fill="url(#gNL)"/>
<polygon points="570,73.5 696.5,62 696.5,83" fill="url(#gSL)"/>
<polygon points="643,94 696.5,83 696.5,104" fill="url(#gHW)"/>
<line x1="566.5" y1="51.5" x2="566.5" y2="73.7" stroke="#333" stroke-width="1.3" stroke-linecap="square"/>
<line x1="566.5" y1="51.5" x2="584" y2="51.5" stroke="#333" stroke-width="1.3" stroke-linecap="square"/>
<line x1="566.5" y1="73.7" x2="571" y2="73.7" stroke="#333" stroke-width="1.3" stroke-linecap="square"/>
<line x1="561.7" y1="62.3" x2="561.7" y2="94" stroke="#333" stroke-width="1.3" stroke-linecap="square"/>
<line x1="561.7" y1="62.3" x2="566.5" y2="62.3" stroke="#333" stroke-width="1.3" stroke-linecap="square"/>
<line x1="561.7" y1="94" x2="644" y2="94" stroke="#333" stroke-width="1.3" stroke-linecap="square"/>
<line x1="558.1" y1="78.2" x2="558.1" y2="114.3" stroke="#333" stroke-width="1.3" stroke-linecap="square"/>
<line x1="558.1" y1="78.2" x2="561.7" y2="78.2" stroke="#333" stroke-width="1.3" stroke-linecap="square"/>
<line x1="558.1" y1="114.3" x2="696" y2="114.3" stroke="#333" stroke-width="1.3" stroke-linecap="square"/>
<line x1="553.4" y1="96.2" x2="553.4" y2="217.5" stroke="#333" stroke-width="1.3" stroke-linecap="square"/>
<line x1="553.4" y1="96.2" x2="558.1" y2="96.2" stroke="#333" stroke-width="1.3" stroke-linecap="square"/>
<line x1="538.5" y1="157.3" x2="553.4" y2="157.3" stroke="#333" stroke-width="1.3" stroke-linecap="square"/>
<line x1="553.4" y1="217.5" x2="676" y2="217.5" stroke="#333" stroke-width="1.3" stroke-linecap="square"/>
<line x1="676" y1="198.8" x2="676" y2="238.2" stroke="#333" stroke-width="1.3" stroke-linecap="square"/>
<line x1="676" y1="238.2" x2="696" y2="238.2" stroke="#333" stroke-width="1.3" stroke-linecap="square"/>
<line x1="679.6" y1="179.5" x2="679.6" y2="217.3" stroke="#333" stroke-width="1.3" stroke-linecap="square"/>
<line x1="676" y1="198.8" x2="679.6" y2="198.8" stroke="#333" stroke-width="1.3" stroke-linecap="square"/>
<line x1="679.6" y1="217.3" x2="696" y2="217.3" stroke="#333" stroke-width="1.3" stroke-linecap="square"/>
<line x1="684.4" y1="161" x2="684.4" y2="197.2" stroke="#333" stroke-width="1.3" stroke-linecap="square"/>
<line x1="679.6" y1="179.5" x2="684.4" y2="179.5" stroke="#333" stroke-width="1.3" stroke-linecap="square"/>
<line x1="684.4" y1="197.2" x2="696" y2="197.2" stroke="#333" stroke-width="1.3" stroke-linecap="square"/>
<line x1="688" y1="145" x2="688" y2="176.3" stroke="#333" stroke-width="1.3" stroke-linecap="square"/>
<line x1="684.4" y1="161" x2="688" y2="161" stroke="#333" stroke-width="1.3" stroke-linecap="square"/>
<line x1="688" y1="176.3" x2="696" y2="176.3" stroke="#333" stroke-width="1.3" stroke-linecap="square"/>
<line x1="693" y1="134.5" x2="693" y2="154.6" stroke="#333" stroke-width="1.3" stroke-linecap="square"/>
<line x1="688" y1="145" x2="693" y2="145" stroke="#333" stroke-width="1.3" stroke-linecap="square"/>
<line x1="693" y1="134.5" x2="696" y2="134.5" stroke="#333" stroke-width="1.3" stroke-linecap="square"/>
<line x1="693" y1="154.6" x2="696" y2="154.6" stroke="#333" stroke-width="1.3" stroke-linecap="square"/>
<text x="703.5" y="54.8" font-size="14.5" fill="#2a2a2a" stroke="#2a2a2a" stroke-width="0.25">NL</text>
<text x="703.5" y="76.4" font-size="14.5" fill="#2a2a2a" stroke="#2a2a2a" stroke-width="0.25">SL</text>
<text x="703.5" y="96.8" font-size="14.5" fill="#2a2a2a" stroke="#2a2a2a" stroke-width="0.25">HW</text>
<text x="700.5" y="118.6" font-size="13.6" font-style="italic" font-weight="bold" fill="#3a3a3a">F.esculentum</text>
<text x="700.5" y="139.2" font-size="13.6" font-style="italic" font-weight="bold" fill="#3a3a3a">F.rubifolium</text>
<text x="700.5" y="159.2" font-size="13.6" font-style="italic" font-weight="bold" fill="#3a3a3a">F.caudatum</text>
<text x="700.5" y="179.8" font-size="13.6" font-style="italic" font-weight="bold" fill="#3a3a3a">F.gracilipedoides</text>
<text x="700.5" y="200.2" font-size="13.6" font-style="italic" font-weight="bold" fill="#3a3a3a">F.pugense</text>
<text x="699" y="221" font-size="13.6" font-style="italic" font-weight="bold" fill="#3a3a3a">F.leptopodum</text>
<text x="699" y="241.3" font-size="13.6" font-style="italic" font-weight="bold" fill="#3a3a3a">F.qiangcai</text>
<rect x="449" y="293" width="215" height="190" fill="none" stroke="#222" stroke-width="1.1"/>
<line x1="449.6" y1="483" x2="449.6" y2="487" stroke="#222" stroke-width="1"/>
<text x="449.6" y="500" font-size="11.5" fill="#333" text-anchor="middle" textLength="24" lengthAdjust="spacingAndGlyphs">–0.06</text>
<line x1="483.1" y1="483" x2="483.1" y2="487" stroke="#222" stroke-width="1"/>
<text x="483.1" y="500" font-size="11.5" fill="#333" text-anchor="middle" textLength="24" lengthAdjust="spacingAndGlyphs">–0.04</text>
<line x1="516.6" y1="483" x2="516.6" y2="487" stroke="#222" stroke-width="1"/>
<text x="516.6" y="500" font-size="11.5" fill="#333" text-anchor="middle" textLength="24" lengthAdjust="spacingAndGlyphs">–0.02</text>
<line x1="550.1" y1="483" x2="550.1" y2="487" stroke="#222" stroke-width="1"/>
<text x="550.1" y="500" font-size="11.5" fill="#333" text-anchor="middle" textLength="18" lengthAdjust="spacingAndGlyphs">0.00</text>
<line x1="583.6" y1="483" x2="583.6" y2="487" stroke="#222" stroke-width="1"/>
<text x="583.6" y="500" font-size="11.5" fill="#333" text-anchor="middle" textLength="18" lengthAdjust="spacingAndGlyphs">0.02</text>
<line x1="617.1" y1="483" x2="617.1" y2="487" stroke="#222" stroke-width="1"/>
<text x="617.1" y="500" font-size="11.5" fill="#333" text-anchor="middle" textLength="18" lengthAdjust="spacingAndGlyphs">0.04</text>
<line x1="650.6" y1="483" x2="650.6" y2="487" stroke="#222" stroke-width="1"/>
<text x="650.6" y="500" font-size="11.5" fill="#333" text-anchor="middle" textLength="18" lengthAdjust="spacingAndGlyphs">0.06</text>
<line x1="445" y1="322.9" x2="449" y2="322.9" stroke="#222" stroke-width="1"/>
<text transform="translate(440,322.9) rotate(-90)" x="0" y="0" font-size="11" fill="#333" text-anchor="middle">0.05</text>
<line x1="445" y1="363.3" x2="449" y2="363.3" stroke="#222" stroke-width="1"/>
<text transform="translate(440,363.3) rotate(-90)" x="0" y="0" font-size="11" fill="#333" text-anchor="middle">0.00</text>
<line x1="445" y1="403.7" x2="449" y2="403.7" stroke="#222" stroke-width="1"/>
<text transform="translate(440,403.7) rotate(-90)" x="0" y="0" font-size="11" fill="#333" text-anchor="middle">−0.05</text>
<line x1="445" y1="444.1" x2="449" y2="444.1" stroke="#222" stroke-width="1"/>
<text transform="translate(440,444.1) rotate(-90)" x="0" y="0" font-size="11" fill="#333" text-anchor="middle">−0.10</text>
<text x="556" y="513" font-size="11.8" fill="#333" text-anchor="middle" textLength="60" lengthAdjust="spacingAndGlyphs">PC1 (34.71%)</text>
<text transform="translate(423.5,380) rotate(-90)" x="0" y="0" font-size="11.5" fill="#333" text-anchor="middle">PC2 (9.7%)</text>
<path d="M468.6,389.4L471.2,393.9L466.0,393.9Z" fill="#9fb0d4" fill-opacity="0.35" stroke="#26478c" stroke-width="1.15"/>
<path d="M468.8,379.5L471.4,384.0L466.2,384.0Z" fill="#9fb0d4" fill-opacity="0.35" stroke="#26478c" stroke-width="1.15"/>
<path d="M464.9,380.7L467.5,385.2L462.3,385.2Z" fill="#9fb0d4" fill-opacity="0.35" stroke="#26478c" stroke-width="1.15"/>
<path d="M476.1,388.4L478.7,392.9L473.5,392.9Z" fill="#9fb0d4" fill-opacity="0.35" stroke="#26478c" stroke-width="1.15"/>
<path d="M475.7,386.3L478.3,390.8L473.1,390.8Z" fill="#9fb0d4" fill-opacity="0.35" stroke="#26478c" stroke-width="1.15"/>
<path d="M472.2,385.5L474.8,390.0L469.6,390.0Z" fill="#9fb0d4" fill-opacity="0.35" stroke="#26478c" stroke-width="1.15"/>
<path d="M460.8,393.6L463.4,398.1L458.2,398.1Z" fill="#9fb0d4" fill-opacity="0.35" stroke="#26478c" stroke-width="1.15"/>
<path d="M472.8,389.3L475.4,393.8L470.2,393.8Z" fill="#9fb0d4" fill-opacity="0.35" stroke="#26478c" stroke-width="1.15"/>
<path d="M460.7,362.4L463.3,366.9L458.1,366.9Z" fill="#9fb0d4" fill-opacity="0.35" stroke="#26478c" stroke-width="1.15"/>
<path d="M465.1,377.7L467.7,382.2L462.5,382.2Z" fill="#9fb0d4" fill-opacity="0.35" stroke="#26478c" stroke-width="1.15"/>
<path d="M471.7,382.7L474.3,387.2L469.1,387.2Z" fill="#9fb0d4" fill-opacity="0.35" stroke="#26478c" stroke-width="1.15"/>
<path d="M472.9,375.6L475.5,380.1L470.3,380.1Z" fill="#9fb0d4" fill-opacity="0.35" stroke="#26478c" stroke-width="1.15"/>
<path d="M471.7,388.0L474.3,392.5L469.1,392.5Z" fill="#9fb0d4" fill-opacity="0.35" stroke="#26478c" stroke-width="1.15"/>
<path d="M466.4,403.9L469.0,408.4L463.8,408.4Z" fill="#9fb0d4" fill-opacity="0.35" stroke="#26478c" stroke-width="1.15"/>
<path d="M473.1,397.7L475.7,402.2L470.5,402.2Z" fill="#9fb0d4" fill-opacity="0.35" stroke="#26478c" stroke-width="1.15"/>
<path d="M466.6,374.4L469.2,378.9L464.0,378.9Z" fill="#9fb0d4" fill-opacity="0.35" stroke="#26478c" stroke-width="1.15"/>
<path d="M468.1,382.0L470.7,386.5L465.5,386.5Z" fill="#9fb0d4" fill-opacity="0.35" stroke="#26478c" stroke-width="1.15"/>
<path d="M473.5,386.3L476.1,390.8L470.9,390.8Z" fill="#9fb0d4" fill-opacity="0.35" stroke="#26478c" stroke-width="1.15"/>
<path d="M467.5,371.8L470.1,376.3L464.9,376.3Z" fill="#9fb0d4" fill-opacity="0.35" stroke="#26478c" stroke-width="1.15"/>
<path d="M467.1,398.0L469.7,402.5L464.5,402.5Z" fill="#9fb0d4" fill-opacity="0.35" stroke="#26478c" stroke-width="1.15"/>
<path d="M465.6,386.2L468.2,390.7L463.0,390.7Z" fill="#9fb0d4" fill-opacity="0.35" stroke="#26478c" stroke-width="1.15"/>
<path d="M472.3,365.4L474.9,369.9L469.7,369.9Z" fill="#9fb0d4" fill-opacity="0.35" stroke="#26478c" stroke-width="1.15"/>
<path d="M470.3,399.0L472.9,403.5L467.7,403.5Z" fill="#9fb0d4" fill-opacity="0.35" stroke="#26478c" stroke-width="1.15"/>
<path d="M458.9,379.4L461.5,383.9L456.3,383.9Z" fill="#9fb0d4" fill-opacity="0.35" stroke="#26478c" stroke-width="1.15"/>
<path d="M469.4,373.5L472.0,378.0L466.8,378.0Z" fill="#9fb0d4" fill-opacity="0.35" stroke="#26478c" stroke-width="1.15"/>
<path d="M472.7,382.6L475.3,387.1L470.1,387.1Z" fill="#9fb0d4" fill-opacity="0.35" stroke="#26478c" stroke-width="1.15"/>
<path d="M461.9,393.2L464.5,397.7L459.3,397.7Z" fill="#9fb0d4" fill-opacity="0.35" stroke="#26478c" stroke-width="1.15"/>
<path d="M473.7,394.7L476.3,399.2L471.1,399.2Z" fill="#9fb0d4" fill-opacity="0.35" stroke="#26478c" stroke-width="1.15"/>
<path d="M477.9,387.6L480.5,392.1L475.3,392.1Z" fill="#9fb0d4" fill-opacity="0.35" stroke="#26478c" stroke-width="1.15"/>
<path d="M470.7,367.7L473.3,372.2L468.1,372.2Z" fill="#9fb0d4" fill-opacity="0.35" stroke="#26478c" stroke-width="1.15"/>
<path d="M473.4,376.0L476.0,380.5L470.8,380.5Z" fill="#9fb0d4" fill-opacity="0.35" stroke="#26478c" stroke-width="1.15"/>
<path d="M467.5,368.1L470.1,372.6L464.9,372.6Z" fill="#9fb0d4" fill-opacity="0.35" stroke="#26478c" stroke-width="1.15"/>
<path d="M464.7,376.9L467.3,381.4L462.1,381.4Z" fill="#9fb0d4" fill-opacity="0.35" stroke="#26478c" stroke-width="1.15"/>
<path d="M477.1,358.9L479.7,363.4L474.5,363.4Z" fill="#9fb0d4" fill-opacity="0.35" stroke="#26478c" stroke-width="1.15"/>
<path d="M462.0,386.2L464.6,390.7L459.4,390.7Z" fill="#9fb0d4" fill-opacity="0.35" stroke="#26478c" stroke-width="1.15"/>
<path d="M477.9,390.2L480.5,394.7L475.3,394.7Z" fill="#9fb0d4" fill-opacity="0.35" stroke="#26478c" stroke-width="1.15"/>
<path d="M459.6,353.1L462.2,357.6L457.0,357.6Z" fill="#9fb0d4" fill-opacity="0.35" stroke="#26478c" stroke-width="1.15"/>
<path d="M472.0,374.5L474.6,379.0L469.4,379.0Z" fill="#9fb0d4" fill-opacity="0.35" stroke="#26478c" stroke-width="1.15"/>
<path d="M463.8,395.0L466.4,399.5L461.2,399.5Z" fill="#9fb0d4" fill-opacity="0.35" stroke="#26478c" stroke-width="1.15"/>
<path d="M476.1,385.2L478.7,389.7L473.5,389.7Z" fill="#9fb0d4" fill-opacity="0.35" stroke="#26478c" stroke-width="1.15"/>
<path d="M471.4,388.5L474.0,393.0L468.8,393.0Z" fill="#9fb0d4" fill-opacity="0.35" stroke="#26478c" stroke-width="1.15"/>
<path d="M478.8,390.7L481.4,395.2L476.2,395.2Z" fill="#9fb0d4" fill-opacity="0.35" stroke="#26478c" stroke-width="1.15"/>
<path d="M472.9,389.9L475.5,394.4L470.3,394.4Z" fill="#9fb0d4" fill-opacity="0.35" stroke="#26478c" stroke-width="1.15"/>
<path d="M461.4,398.7L464.0,403.2L458.8,403.2Z" fill="#9fb0d4" fill-opacity="0.35" stroke="#26478c" stroke-width="1.15"/>
<path d="M475.3,389.7L477.9,394.2L472.7,394.2Z" fill="#9fb0d4" fill-opacity="0.35" stroke="#26478c" stroke-width="1.15"/>
<path d="M459.1,375.7L461.7,380.2L456.5,380.2Z" fill="#9fb0d4" fill-opacity="0.35" stroke="#26478c" stroke-width="1.15"/>
<path d="M474.6,361.6L477.2,366.1L472.0,366.1Z" fill="#9fb0d4" fill-opacity="0.35" stroke="#26478c" stroke-width="1.15"/>
<path d="M469.0,395.5L471.6,400.0L466.4,400.0Z" fill="#9fb0d4" fill-opacity="0.35" stroke="#26478c" stroke-width="1.15"/>
<path d="M462.8,402.6L465.4,407.1L460.2,407.1Z" fill="#9fb0d4" fill-opacity="0.35" stroke="#26478c" stroke-width="1.15"/>
<path d="M473.0,381.5L475.6,386.0L470.4,386.0Z" fill="#9fb0d4" fill-opacity="0.35" stroke="#26478c" stroke-width="1.15"/>
<path d="M471.8,391.1L474.4,395.6L469.2,395.6Z" fill="#9fb0d4" fill-opacity="0.35" stroke="#26478c" stroke-width="1.15"/>
<path d="M470.7,397.0L473.3,401.5L468.1,401.5Z" fill="#9fb0d4" fill-opacity="0.35" stroke="#26478c" stroke-width="1.15"/>
<path d="M466.4,378.3L469.0,382.8L463.8,382.8Z" fill="#9fb0d4" fill-opacity="0.35" stroke="#26478c" stroke-width="1.15"/>
<path d="M475.7,383.6L478.3,388.1L473.1,388.1Z" fill="#9fb0d4" fill-opacity="0.35" stroke="#26478c" stroke-width="1.15"/>
<path d="M465.2,394.7L467.8,399.2L462.6,399.2Z" fill="#9fb0d4" fill-opacity="0.35" stroke="#26478c" stroke-width="1.15"/>
<path d="M478.1,378.0L480.7,382.5L475.5,382.5Z" fill="#9fb0d4" fill-opacity="0.35" stroke="#26478c" stroke-width="1.15"/>
<path d="M462.4,381.7L465.0,386.2L459.8,386.2Z" fill="#9fb0d4" fill-opacity="0.35" stroke="#26478c" stroke-width="1.15"/>
<path d="M469.2,379.7L471.8,384.2L466.6,384.2Z" fill="#9fb0d4" fill-opacity="0.35" stroke="#26478c" stroke-width="1.15"/>
<path d="M477.7,371.0L480.3,375.5L475.1,375.5Z" fill="#9fb0d4" fill-opacity="0.35" stroke="#26478c" stroke-width="1.15"/>
<path d="M476.9,368.1L479.5,372.6L474.3,372.6Z" fill="#9fb0d4" fill-opacity="0.35" stroke="#26478c" stroke-width="1.15"/>
<path d="M465.7,390.9L468.3,395.4L463.1,395.4Z" fill="#9fb0d4" fill-opacity="0.35" stroke="#26478c" stroke-width="1.15"/>
<path d="M476.2,393.6L478.8,398.1L473.6,398.1Z" fill="#9fb0d4" fill-opacity="0.35" stroke="#26478c" stroke-width="1.15"/>
<path d="M471.9,385.0L474.5,389.5L469.3,389.5Z" fill="#9fb0d4" fill-opacity="0.35" stroke="#26478c" stroke-width="1.15"/>
<path d="M470.8,390.2L473.4,394.7L468.2,394.7Z" fill="#9fb0d4" fill-opacity="0.35" stroke="#26478c" stroke-width="1.15"/>
<path d="M469.0,386.6L471.6,391.1L466.4,391.1Z" fill="#9fb0d4" fill-opacity="0.35" stroke="#26478c" stroke-width="1.15"/>
<path d="M473.1,383.3L475.7,387.8L470.5,387.8Z" fill="#9fb0d4" fill-opacity="0.35" stroke="#26478c" stroke-width="1.15"/>
<path d="M474.2,390.1L476.8,394.6L471.6,394.6Z" fill="#9fb0d4" fill-opacity="0.35" stroke="#26478c" stroke-width="1.15"/>
<path d="M481.1,387.2L483.7,391.7L478.5,391.7Z" fill="#9fb0d4" fill-opacity="0.35" stroke="#26478c" stroke-width="1.15"/>
<path d="M467.6,378.8L470.2,383.3L465.0,383.3Z" fill="#9fb0d4" fill-opacity="0.35" stroke="#26478c" stroke-width="1.15"/>
<path d="M469.9,394.4L472.5,398.9L467.3,398.9Z" fill="#9fb0d4" fill-opacity="0.35" stroke="#26478c" stroke-width="1.15"/>
<path d="M468.1,387.9L470.7,392.4L465.5,392.4Z" fill="#9fb0d4" fill-opacity="0.35" stroke="#26478c" stroke-width="1.15"/>
<path d="M480.1,352.5L482.7,357.0L477.5,357.0Z" fill="#9fb0d4" fill-opacity="0.35" stroke="#26478c" stroke-width="1.15"/>
<path d="M463.8,386.2L466.4,390.7L461.2,390.7Z" fill="#9fb0d4" fill-opacity="0.35" stroke="#26478c" stroke-width="1.15"/>
<path d="M472.2,386.2L474.8,390.7L469.6,390.7Z" fill="#9fb0d4" fill-opacity="0.35" stroke="#26478c" stroke-width="1.15"/>
<path d="M467.6,391.2L470.2,395.7L465.0,395.7Z" fill="#9fb0d4" fill-opacity="0.35" stroke="#26478c" stroke-width="1.15"/>
<path d="M471.6,377.0L474.2,381.5L469.0,381.5Z" fill="#9fb0d4" fill-opacity="0.35" stroke="#26478c" stroke-width="1.15"/>
<path d="M483.4,387.6L486.0,392.1L480.8,392.1Z" fill="#9fb0d4" fill-opacity="0.35" stroke="#26478c" stroke-width="1.15"/>
<path d="M467.0,382.1L469.6,386.6L464.4,386.6Z" fill="#9fb0d4" fill-opacity="0.35" stroke="#26478c" stroke-width="1.15"/>
<path d="M468.8,382.5L471.4,387.0L466.2,387.0Z" fill="#9fb0d4" fill-opacity="0.35" stroke="#26478c" stroke-width="1.15"/>
<path d="M455.0,377.5L457.6,382.0L452.4,382.0Z" fill="#9fb0d4" fill-opacity="0.35" stroke="#26478c" stroke-width="1.15"/>
<path d="M475.5,369.3L478.1,373.8L472.9,373.8Z" fill="#9fb0d4" fill-opacity="0.35" stroke="#26478c" stroke-width="1.15"/>
<path d="M469.6,394.7L472.2,399.2L467.0,399.2Z" fill="#9fb0d4" fill-opacity="0.35" stroke="#26478c" stroke-width="1.15"/>
<path d="M474.7,401.2L477.3,405.7L472.1,405.7Z" fill="#9fb0d4" fill-opacity="0.35" stroke="#26478c" stroke-width="1.15"/>
<path d="M460.6,379.1L463.2,383.6L458.0,383.6Z" fill="#9fb0d4" fill-opacity="0.35" stroke="#26478c" stroke-width="1.15"/>
<path d="M468.1,390.8L470.7,395.3L465.5,395.3Z" fill="#9fb0d4" fill-opacity="0.35" stroke="#26478c" stroke-width="1.15"/>
<path d="M476.0,351.1L478.6,355.6L473.4,355.6Z" fill="#9fb0d4" fill-opacity="0.35" stroke="#26478c" stroke-width="1.15"/>
<path d="M476.0,365.9L478.6,370.4L473.4,370.4Z" fill="#9fb0d4" fill-opacity="0.35" stroke="#26478c" stroke-width="1.15"/>
<path d="M473.8,365.4L476.4,369.9L471.2,369.9Z" fill="#9fb0d4" fill-opacity="0.35" stroke="#26478c" stroke-width="1.15"/>
<path d="M471.0,397.6L473.6,402.1L468.4,402.1Z" fill="#9fb0d4" fill-opacity="0.35" stroke="#26478c" stroke-width="1.15"/>
<path d="M469.2,385.6L471.8,390.1L466.6,390.1Z" fill="#9fb0d4" fill-opacity="0.35" stroke="#26478c" stroke-width="1.15"/>
<path d="M474.4,385.0L477.0,389.5L471.8,389.5Z" fill="#9fb0d4" fill-opacity="0.35" stroke="#26478c" stroke-width="1.15"/>
<path d="M469.5,401.7L472.1,406.2L466.9,406.2Z" fill="#9fb0d4" fill-opacity="0.35" stroke="#26478c" stroke-width="1.15"/>
<path d="M475.8,379.8L478.4,384.3L473.2,384.3Z" fill="#9fb0d4" fill-opacity="0.35" stroke="#26478c" stroke-width="1.15"/>
<path d="M485.1,369.5L487.7,374.0L482.5,374.0Z" fill="#9fb0d4" fill-opacity="0.35" stroke="#26478c" stroke-width="1.15"/>
<path d="M475.0,380.1L477.6,384.6L472.4,384.6Z" fill="#9fb0d4" fill-opacity="0.35" stroke="#26478c" stroke-width="1.15"/>
<path d="M470.7,391.8L473.3,396.3L468.1,396.3Z" fill="#9fb0d4" fill-opacity="0.35" stroke="#26478c" stroke-width="1.15"/>
<path d="M471.2,391.0L473.8,395.5L468.6,395.5Z" fill="#9fb0d4" fill-opacity="0.35" stroke="#26478c" stroke-width="1.15"/>
<path d="M461.6,365.2L464.2,369.7L459.0,369.7Z" fill="#9fb0d4" fill-opacity="0.35" stroke="#26478c" stroke-width="1.15"/>
<path d="M473.4,371.7L476.0,376.2L470.8,376.2Z" fill="#9fb0d4" fill-opacity="0.35" stroke="#26478c" stroke-width="1.15"/>
<path d="M464.4,365.7L467.0,370.2L461.8,370.2Z" fill="#9fb0d4" fill-opacity="0.35" stroke="#26478c" stroke-width="1.15"/>
<path d="M477.0,392.3L479.6,396.8L474.4,396.8Z" fill="#9fb0d4" fill-opacity="0.35" stroke="#26478c" stroke-width="1.15"/>
<path d="M478.1,372.0L480.7,376.5L475.5,376.5Z" fill="#9fb0d4" fill-opacity="0.35" stroke="#26478c" stroke-width="1.15"/>
<path d="M470.0,369.6L472.6,374.1L467.4,374.1Z" fill="#9fb0d4" fill-opacity="0.35" stroke="#26478c" stroke-width="1.15"/>
<path d="M474.2,402.4L476.8,406.9L471.6,406.9Z" fill="#9fb0d4" fill-opacity="0.35" stroke="#26478c" stroke-width="1.15"/>
<path d="M465.1,402.0L467.7,406.5L462.5,406.5Z" fill="#9fb0d4" fill-opacity="0.35" stroke="#26478c" stroke-width="1.15"/>
<path d="M475.4,381.2L478.0,385.7L472.8,385.7Z" fill="#9fb0d4" fill-opacity="0.35" stroke="#26478c" stroke-width="1.15"/>
<path d="M459.2,400.2L461.8,404.7L456.6,404.7Z" fill="#9fb0d4" fill-opacity="0.35" stroke="#26478c" stroke-width="1.15"/>
<path d="M469.5,376.1L472.1,380.6L466.9,380.6Z" fill="#9fb0d4" fill-opacity="0.35" stroke="#26478c" stroke-width="1.15"/>
<path d="M472.2,388.2L474.8,392.7L469.6,392.7Z" fill="#9fb0d4" fill-opacity="0.35" stroke="#26478c" stroke-width="1.15"/>
<path d="M478.2,371.1L480.8,375.6L475.6,375.6Z" fill="#9fb0d4" fill-opacity="0.35" stroke="#26478c" stroke-width="1.15"/>
<path d="M501.3,322.0L503.9,326.5L498.7,326.5Z" fill="#9fb0d4" fill-opacity="0.35" stroke="#26478c" stroke-width="1.15"/>
<path d="M482.9,352.4L485.5,356.9L480.3,356.9Z" fill="#9fb0d4" fill-opacity="0.35" stroke="#26478c" stroke-width="1.15"/>
<path d="M506.4,332.4L509.0,336.9L503.8,336.9Z" fill="#9fb0d4" fill-opacity="0.35" stroke="#26478c" stroke-width="1.15"/>
<path d="M477.7,346.5L480.3,351.0L475.1,351.0Z" fill="#9fb0d4" fill-opacity="0.35" stroke="#26478c" stroke-width="1.15"/>
<path d="M495.0,335.8L497.6,340.3L492.4,340.3Z" fill="#9fb0d4" fill-opacity="0.35" stroke="#26478c" stroke-width="1.15"/>
<path d="M495.3,337.4L497.9,341.9L492.7,341.9Z" fill="#9fb0d4" fill-opacity="0.35" stroke="#26478c" stroke-width="1.15"/>
<path d="M492.4,333.4L495.0,337.9L489.8,337.9Z" fill="#9fb0d4" fill-opacity="0.35" stroke="#26478c" stroke-width="1.15"/>
<path d="M496.0,347.1L498.6,351.6L493.4,351.6Z" fill="#9fb0d4" fill-opacity="0.35" stroke="#26478c" stroke-width="1.15"/>
<path d="M487.7,340.0L490.3,344.5L485.1,344.5Z" fill="#9fb0d4" fill-opacity="0.35" stroke="#26478c" stroke-width="1.15"/>
<path d="M473.2,360.5L475.8,365.0L470.6,365.0Z" fill="#9fb0d4" fill-opacity="0.35" stroke="#26478c" stroke-width="1.15"/>
<path d="M484.8,342.4L487.4,346.9L482.2,346.9Z" fill="#9fb0d4" fill-opacity="0.35" stroke="#26478c" stroke-width="1.15"/>
<path d="M497.5,328.8L500.1,333.3L494.9,333.3Z" fill="#9fb0d4" fill-opacity="0.35" stroke="#26478c" stroke-width="1.15"/>
<path d="M500.6,325.1L503.2,329.6L498.0,329.6Z" fill="#9fb0d4" fill-opacity="0.35" stroke="#26478c" stroke-width="1.15"/>
<path d="M488.9,337.4L491.5,341.9L486.3,341.9Z" fill="#9fb0d4" fill-opacity="0.35" stroke="#26478c" stroke-width="1.15"/>
<path d="M488.4,337.1L491.0,341.6L485.8,341.6Z" fill="#9fb0d4" fill-opacity="0.35" stroke="#26478c" stroke-width="1.15"/>
<path d="M486.3,355.6L488.9,360.1L483.7,360.1Z" fill="#9fb0d4" fill-opacity="0.35" stroke="#26478c" stroke-width="1.15"/>
<path d="M493.5,342.0L496.1,346.5L490.9,346.5Z" fill="#9fb0d4" fill-opacity="0.35" stroke="#26478c" stroke-width="1.15"/>
<path d="M483.4,341.0L486.0,345.5L480.8,345.5Z" fill="#9fb0d4" fill-opacity="0.35" stroke="#26478c" stroke-width="1.15"/>
<path d="M475.4,358.4L478.0,362.9L472.8,362.9Z" fill="#9fb0d4" fill-opacity="0.35" stroke="#26478c" stroke-width="1.15"/>
<path d="M483.5,343.0L486.1,347.5L480.9,347.5Z" fill="#9fb0d4" fill-opacity="0.35" stroke="#26478c" stroke-width="1.15"/>
<path d="M486.1,340.8L488.7,345.3L483.5,345.3Z" fill="#9fb0d4" fill-opacity="0.35" stroke="#26478c" stroke-width="1.15"/>
<path d="M477.0,349.7L479.6,354.2L474.4,354.2Z" fill="#9fb0d4" fill-opacity="0.35" stroke="#26478c" stroke-width="1.15"/>
<path d="M479.0,362.6L481.6,367.1L476.4,367.1Z" fill="#9fb0d4" fill-opacity="0.35" stroke="#26478c" stroke-width="1.15"/>
<path d="M480.3,355.7L482.9,360.2L477.7,360.2Z" fill="#9fb0d4" fill-opacity="0.35" stroke="#26478c" stroke-width="1.15"/>
<path d="M496.1,331.7L498.7,336.2L493.5,336.2Z" fill="#9fb0d4" fill-opacity="0.35" stroke="#26478c" stroke-width="1.15"/>
<path d="M499.4,337.6L502.0,342.1L496.8,342.1Z" fill="#9fb0d4" fill-opacity="0.35" stroke="#26478c" stroke-width="1.15"/>
<path d="M484.4,351.0L487.0,355.5L481.8,355.5Z" fill="#9fb0d4" fill-opacity="0.35" stroke="#26478c" stroke-width="1.15"/>
<path d="M483.2,348.3L485.8,352.8L480.6,352.8Z" fill="#9fb0d4" fill-opacity="0.35" stroke="#26478c" stroke-width="1.15"/>
<path d="M483.0,355.0L485.6,359.5L480.4,359.5Z" fill="#9fb0d4" fill-opacity="0.35" stroke="#26478c" stroke-width="1.15"/>
<path d="M475.8,360.5L478.4,365.0L473.2,365.0Z" fill="#9fb0d4" fill-opacity="0.35" stroke="#26478c" stroke-width="1.15"/>
<path d="M479.3,356.9L481.9,361.4L476.7,361.4Z" fill="#9fb0d4" fill-opacity="0.35" stroke="#26478c" stroke-width="1.15"/>
<path d="M487.3,340.8L489.9,345.3L484.7,345.3Z" fill="#9fb0d4" fill-opacity="0.35" stroke="#26478c" stroke-width="1.15"/>
<path d="M493.4,339.4L496.0,343.9L490.8,343.9Z" fill="#9fb0d4" fill-opacity="0.35" stroke="#26478c" stroke-width="1.15"/>
<path d="M496.0,326.5L498.6,331.0L493.4,331.0Z" fill="#9fb0d4" fill-opacity="0.35" stroke="#26478c" stroke-width="1.15"/>
<path d="M497.2,332.8L499.8,337.3L494.6,337.3Z" fill="#9fb0d4" fill-opacity="0.35" stroke="#26478c" stroke-width="1.15"/>
<path d="M498.1,348.3L500.7,352.8L495.5,352.8Z" fill="#9fb0d4" fill-opacity="0.35" stroke="#26478c" stroke-width="1.15"/>
<path d="M484.3,352.2L486.9,356.7L481.7,356.7Z" fill="#9fb0d4" fill-opacity="0.35" stroke="#26478c" stroke-width="1.15"/>
<path d="M500.1,337.5L502.7,342.0L497.5,342.0Z" fill="#9fb0d4" fill-opacity="0.35" stroke="#26478c" stroke-width="1.15"/>
<path d="M496.6,339.0L499.2,343.5L494.0,343.5Z" fill="#9fb0d4" fill-opacity="0.35" stroke="#26478c" stroke-width="1.15"/>
<path d="M481.1,353.7L483.7,358.2L478.5,358.2Z" fill="#9fb0d4" fill-opacity="0.35" stroke="#26478c" stroke-width="1.15"/>
<path d="M500.7,329.6L503.3,334.1L498.1,334.1Z" fill="#9fb0d4" fill-opacity="0.35" stroke="#26478c" stroke-width="1.15"/>
<path d="M485.6,350.4L488.2,354.9L483.0,354.9Z" fill="#9fb0d4" fill-opacity="0.35" stroke="#26478c" stroke-width="1.15"/>
<path d="M483.6,350.0L486.2,354.5L481.0,354.5Z" fill="#9fb0d4" fill-opacity="0.35" stroke="#26478c" stroke-width="1.15"/>
<path d="M475.2,351.9L477.8,356.4L472.6,356.4Z" fill="#9fb0d4" fill-opacity="0.35" stroke="#26478c" stroke-width="1.15"/>
<path d="M499.0,328.8L501.6,333.3L496.4,333.3Z" fill="#9fb0d4" fill-opacity="0.35" stroke="#26478c" stroke-width="1.15"/>
<path d="M478.0,356.0L480.6,360.5L475.4,360.5Z" fill="#9fb0d4" fill-opacity="0.35" stroke="#26478c" stroke-width="1.15"/>
<path d="M490.3,343.6L492.9,348.1L487.7,348.1Z" fill="#9fb0d4" fill-opacity="0.35" stroke="#26478c" stroke-width="1.15"/>
<path d="M494.6,330.9L497.2,335.4L492.0,335.4Z" fill="#9fb0d4" fill-opacity="0.35" stroke="#26478c" stroke-width="1.15"/>
<path d="M498.2,331.9L500.8,336.4L495.6,336.4Z" fill="#9fb0d4" fill-opacity="0.35" stroke="#26478c" stroke-width="1.15"/>
<path d="M494.4,336.9L497.0,341.4L491.8,341.4Z" fill="#9fb0d4" fill-opacity="0.35" stroke="#26478c" stroke-width="1.15"/>
<path d="M482.3,356.2L484.9,360.7L479.7,360.7Z" fill="#9fb0d4" fill-opacity="0.35" stroke="#26478c" stroke-width="1.15"/>
<path d="M495.7,333.6L498.3,338.1L493.1,338.1Z" fill="#9fb0d4" fill-opacity="0.35" stroke="#26478c" stroke-width="1.15"/>
<path d="M500.2,335.9L502.8,340.4L497.6,340.4Z" fill="#9fb0d4" fill-opacity="0.35" stroke="#26478c" stroke-width="1.15"/>
<path d="M489.4,349.1L492.0,353.6L486.8,353.6Z" fill="#9fb0d4" fill-opacity="0.35" stroke="#26478c" stroke-width="1.15"/>
<path d="M484.5,361.8L487.1,366.3L481.9,366.3Z" fill="#9fb0d4" fill-opacity="0.35" stroke="#26478c" stroke-width="1.15"/>
<path d="M483.9,341.4L486.5,345.9L481.3,345.9Z" fill="#9fb0d4" fill-opacity="0.35" stroke="#26478c" stroke-width="1.15"/>
<path d="M486.0,339.6L488.6,344.1L483.4,344.1Z" fill="#9fb0d4" fill-opacity="0.35" stroke="#26478c" stroke-width="1.15"/>
<path d="M474.7,365.1L477.3,369.6L472.1,369.6Z" fill="#9fb0d4" fill-opacity="0.35" stroke="#26478c" stroke-width="1.15"/>
<path d="M482.1,346.8L484.7,351.3L479.5,351.3Z" fill="#9fb0d4" fill-opacity="0.35" stroke="#26478c" stroke-width="1.15"/>
<path d="M494.1,339.1L496.7,343.6L491.5,343.6Z" fill="#9fb0d4" fill-opacity="0.35" stroke="#26478c" stroke-width="1.15"/>
<path d="M512.4,317.2L515.0,321.7L509.8,321.7Z" fill="#9fb0d4" fill-opacity="0.35" stroke="#26478c" stroke-width="1.15"/>
<path d="M501.9,316.5L504.5,321.0L499.3,321.0Z" fill="#9fb0d4" fill-opacity="0.35" stroke="#26478c" stroke-width="1.15"/>
<path d="M513.6,319.1L516.2,323.6L511.0,323.6Z" fill="#9fb0d4" fill-opacity="0.35" stroke="#26478c" stroke-width="1.15"/>
<path d="M509.2,304.7L511.8,309.2L506.6,309.2Z" fill="#9fb0d4" fill-opacity="0.35" stroke="#26478c" stroke-width="1.15"/>
<path d="M501.0,317.4L503.6,321.9L498.4,321.9Z" fill="#9fb0d4" fill-opacity="0.35" stroke="#26478c" stroke-width="1.15"/>
<path d="M499.9,319.8L502.5,324.3L497.3,324.3Z" fill="#9fb0d4" fill-opacity="0.35" stroke="#26478c" stroke-width="1.15"/>
<path d="M506.2,318.7L508.8,323.2L503.6,323.2Z" fill="#9fb0d4" fill-opacity="0.35" stroke="#26478c" stroke-width="1.15"/>
<path d="M500.5,330.1L503.1,334.6L497.9,334.6Z" fill="#9fb0d4" fill-opacity="0.35" stroke="#26478c" stroke-width="1.15"/>
<path d="M510.7,310.8L513.3,315.3L508.1,315.3Z" fill="#9fb0d4" fill-opacity="0.35" stroke="#26478c" stroke-width="1.15"/>
<path d="M502.6,330.5L505.2,335.0L500.0,335.0Z" fill="#9fb0d4" fill-opacity="0.35" stroke="#26478c" stroke-width="1.15"/>
<path d="M499.6,318.4L502.2,322.9L497.0,322.9Z" fill="#9fb0d4" fill-opacity="0.35" stroke="#26478c" stroke-width="1.15"/>
<path d="M508.9,312.3L511.5,316.8L506.3,316.8Z" fill="#9fb0d4" fill-opacity="0.35" stroke="#26478c" stroke-width="1.15"/>
<path d="M493.8,313.6L496.4,318.1L491.2,318.1Z" fill="#9fb0d4" fill-opacity="0.35" stroke="#26478c" stroke-width="1.15"/>
<path d="M504.5,320.2L507.1,324.7L501.9,324.7Z" fill="#9fb0d4" fill-opacity="0.35" stroke="#26478c" stroke-width="1.15"/>
<path d="M507.5,312.5L510.1,317.0L504.9,317.0Z" fill="#9fb0d4" fill-opacity="0.35" stroke="#26478c" stroke-width="1.15"/>
<path d="M508.0,316.1L510.6,320.6L505.4,320.6Z" fill="#9fb0d4" fill-opacity="0.35" stroke="#26478c" stroke-width="1.15"/>
<path d="M503.4,312.7L506.0,317.2L500.8,317.2Z" fill="#9fb0d4" fill-opacity="0.35" stroke="#26478c" stroke-width="1.15"/>
<path d="M500.3,317.1L502.9,321.6L497.7,321.6Z" fill="#9fb0d4" fill-opacity="0.35" stroke="#26478c" stroke-width="1.15"/>
<path d="M494.6,307.9L497.2,312.4L492.0,312.4Z" fill="#9fb0d4" fill-opacity="0.35" stroke="#26478c" stroke-width="1.15"/>
<path d="M502.0,302.1L504.6,306.6L499.4,306.6Z" fill="#9fb0d4" fill-opacity="0.35" stroke="#26478c" stroke-width="1.15"/>
<path d="M498.9,298.2L501.5,302.7L496.3,302.7Z" fill="#9fb0d4" fill-opacity="0.35" stroke="#26478c" stroke-width="1.15"/>
<path d="M497.2,316.3L499.8,320.8L494.6,320.8Z" fill="#9fb0d4" fill-opacity="0.35" stroke="#26478c" stroke-width="1.15"/>
<path d="M506.0,311.9L508.6,316.4L503.4,316.4Z" fill="#9fb0d4" fill-opacity="0.35" stroke="#26478c" stroke-width="1.15"/>
<path d="M500.4,302.4L503.0,306.9L497.8,306.9Z" fill="#9fb0d4" fill-opacity="0.35" stroke="#26478c" stroke-width="1.15"/>
<path d="M514.8,315.9L517.4,320.4L512.2,320.4Z" fill="#9fb0d4" fill-opacity="0.35" stroke="#26478c" stroke-width="1.15"/>
<path d="M509.7,306.1L512.3,310.6L507.1,310.6Z" fill="#9fb0d4" fill-opacity="0.35" stroke="#26478c" stroke-width="1.15"/>
<path d="M500.7,299.6L503.3,304.1L498.1,304.1Z" fill="#9fb0d4" fill-opacity="0.35" stroke="#26478c" stroke-width="1.15"/>
<path d="M507.5,318.8L510.1,323.3L504.9,323.3Z" fill="#9fb0d4" fill-opacity="0.35" stroke="#26478c" stroke-width="1.15"/>
<path d="M488.7,311.9L491.3,316.4L486.1,316.4Z" fill="#9fb0d4" fill-opacity="0.35" stroke="#26478c" stroke-width="1.15"/>
<path d="M506.4,300.0L509.0,304.5L503.8,304.5Z" fill="#9fb0d4" fill-opacity="0.35" stroke="#26478c" stroke-width="1.15"/>
<path d="M489.2,304.8L491.8,309.3L486.6,309.3Z" fill="#9fb0d4" fill-opacity="0.35" stroke="#26478c" stroke-width="1.15"/>
<path d="M497.6,302.5L500.2,307.0L495.0,307.0Z" fill="#9fb0d4" fill-opacity="0.35" stroke="#26478c" stroke-width="1.15"/>
<path d="M502.2,314.0L504.8,318.5L499.6,318.5Z" fill="#9fb0d4" fill-opacity="0.35" stroke="#26478c" stroke-width="1.15"/>
<path d="M506.4,317.2L509.0,321.7L503.8,321.7Z" fill="#9fb0d4" fill-opacity="0.35" stroke="#26478c" stroke-width="1.15"/>
<path d="M512.5,320.5L515.1,325.0L509.9,325.0Z" fill="#9fb0d4" fill-opacity="0.35" stroke="#26478c" stroke-width="1.15"/>
<path d="M492.8,308.8L495.4,313.3L490.2,313.3Z" fill="#9fb0d4" fill-opacity="0.35" stroke="#26478c" stroke-width="1.15"/>
<path d="M494.6,304.8L497.2,309.3L492.0,309.3Z" fill="#9fb0d4" fill-opacity="0.35" stroke="#26478c" stroke-width="1.15"/>
<path d="M501.4,312.3L504.0,316.8L498.8,316.8Z" fill="#9fb0d4" fill-opacity="0.35" stroke="#26478c" stroke-width="1.15"/>
<path d="M505.4,301.2L508.0,305.7L502.8,305.7Z" fill="#9fb0d4" fill-opacity="0.35" stroke="#26478c" stroke-width="1.15"/>
<path d="M493.3,312.1L495.9,316.6L490.7,316.6Z" fill="#9fb0d4" fill-opacity="0.35" stroke="#26478c" stroke-width="1.15"/>
<path d="M500.6,310.1L503.2,314.6L498.0,314.6Z" fill="#9fb0d4" fill-opacity="0.35" stroke="#26478c" stroke-width="1.15"/>
<path d="M501.6,307.0L504.2,311.5L499.0,311.5Z" fill="#9fb0d4" fill-opacity="0.35" stroke="#26478c" stroke-width="1.15"/>
<path d="M506.9,314.8L509.5,319.3L504.3,319.3Z" fill="#9fb0d4" fill-opacity="0.35" stroke="#26478c" stroke-width="1.15"/>
<path d="M501.4,307.6L504.0,312.1L498.8,312.1Z" fill="#9fb0d4" fill-opacity="0.35" stroke="#26478c" stroke-width="1.15"/>
<path d="M500.8,293.2L503.4,297.7L498.2,297.7Z" fill="#9fb0d4" fill-opacity="0.35" stroke="#26478c" stroke-width="1.15"/>
<path d="M495.1,312.6L497.7,317.1L492.5,317.1Z" fill="#9fb0d4" fill-opacity="0.35" stroke="#26478c" stroke-width="1.15"/>
<path d="M491.5,313.7L494.1,318.2L488.9,318.2Z" fill="#9fb0d4" fill-opacity="0.35" stroke="#26478c" stroke-width="1.15"/>
<path d="M503.0,302.7L505.6,307.2L500.4,307.2Z" fill="#9fb0d4" fill-opacity="0.35" stroke="#26478c" stroke-width="1.15"/>
<path d="M500.2,310.1L502.8,314.6L497.6,314.6Z" fill="#9fb0d4" fill-opacity="0.35" stroke="#26478c" stroke-width="1.15"/>
<path d="M505.2,316.6L507.8,321.1L502.6,321.1Z" fill="#9fb0d4" fill-opacity="0.35" stroke="#26478c" stroke-width="1.15"/>
<path d="M501.7,306.3L504.3,310.8L499.1,310.8Z" fill="#9fb0d4" fill-opacity="0.35" stroke="#26478c" stroke-width="1.15"/>
<path d="M501.0,311.8L503.6,316.3L498.4,316.3Z" fill="#9fb0d4" fill-opacity="0.35" stroke="#26478c" stroke-width="1.15"/>
<path d="M507.1,314.4L509.7,318.9L504.5,318.9Z" fill="#9fb0d4" fill-opacity="0.35" stroke="#26478c" stroke-width="1.15"/>
<path d="M496.9,302.8L499.5,307.3L494.3,307.3Z" fill="#9fb0d4" fill-opacity="0.35" stroke="#26478c" stroke-width="1.15"/>
<path d="M499.4,307.1L502.0,311.6L496.8,311.6Z" fill="#9fb0d4" fill-opacity="0.35" stroke="#26478c" stroke-width="1.15"/>
<path d="M494.2,311.5L496.8,316.0L491.6,316.0Z" fill="#9fb0d4" fill-opacity="0.35" stroke="#26478c" stroke-width="1.15"/>
<path d="M498.6,313.0L501.2,317.5L496.0,317.5Z" fill="#9fb0d4" fill-opacity="0.35" stroke="#26478c" stroke-width="1.15"/>
<path d="M505.7,309.4L508.3,313.9L503.1,313.9Z" fill="#9fb0d4" fill-opacity="0.35" stroke="#26478c" stroke-width="1.15"/>
<path d="M518.3,310.0L520.9,314.5L515.7,314.5Z" fill="#9fb0d4" fill-opacity="0.35" stroke="#26478c" stroke-width="1.15"/>
<path d="M509.7,313.2L512.3,317.7L507.1,317.7Z" fill="#9fb0d4" fill-opacity="0.35" stroke="#26478c" stroke-width="1.15"/>
<path d="M509.8,295.7L512.4,300.2L507.2,300.2Z" fill="#9fb0d4" fill-opacity="0.35" stroke="#26478c" stroke-width="1.15"/>
<path d="M496.7,314.0L499.3,318.5L494.1,318.5Z" fill="#9fb0d4" fill-opacity="0.35" stroke="#26478c" stroke-width="1.15"/>
<path d="M506.2,328.7L508.8,333.2L503.6,333.2Z" fill="#9fb0d4" fill-opacity="0.35" stroke="#26478c" stroke-width="1.15"/>
<path d="M504.3,321.3L506.9,325.8L501.7,325.8Z" fill="#9fb0d4" fill-opacity="0.35" stroke="#26478c" stroke-width="1.15"/>
<path d="M507.4,318.9L510.0,323.4L504.8,323.4Z" fill="#9fb0d4" fill-opacity="0.35" stroke="#26478c" stroke-width="1.15"/>
<path d="M505.6,311.2L508.2,315.7L503.0,315.7Z" fill="#9fb0d4" fill-opacity="0.35" stroke="#26478c" stroke-width="1.15"/>
<path d="M505.6,304.8L508.2,309.3L503.0,309.3Z" fill="#9fb0d4" fill-opacity="0.35" stroke="#26478c" stroke-width="1.15"/>
<path d="M510.3,305.2L512.9,309.7L507.7,309.7Z" fill="#9fb0d4" fill-opacity="0.35" stroke="#26478c" stroke-width="1.15"/>
<path d="M503.7,327.1L506.3,331.6L501.1,331.6Z" fill="#9fb0d4" fill-opacity="0.35" stroke="#26478c" stroke-width="1.15"/>
<path d="M500.4,312.4L503.0,316.9L497.8,316.9Z" fill="#9fb0d4" fill-opacity="0.35" stroke="#26478c" stroke-width="1.15"/>
<path d="M489.5,301.4L492.1,305.9L486.9,305.9Z" fill="#9fb0d4" fill-opacity="0.35" stroke="#26478c" stroke-width="1.15"/>
<path d="M483.6,302.3L486.2,306.8L481.0,306.8Z" fill="#9fb0d4" fill-opacity="0.35" stroke="#26478c" stroke-width="1.15"/>
<path d="M487.7,304.1L490.3,308.6L485.1,308.6Z" fill="#9fb0d4" fill-opacity="0.35" stroke="#26478c" stroke-width="1.15"/>
<path d="M483.7,308.3L486.3,312.8L481.1,312.8Z" fill="#9fb0d4" fill-opacity="0.35" stroke="#26478c" stroke-width="1.15"/>
<path d="M491.0,301.4L493.6,305.9L488.4,305.9Z" fill="#9fb0d4" fill-opacity="0.35" stroke="#26478c" stroke-width="1.15"/>
<path d="M486.8,299.6L489.4,304.1L484.2,304.1Z" fill="#9fb0d4" fill-opacity="0.35" stroke="#26478c" stroke-width="1.15"/>
<path d="M490.2,298.5L492.8,303.0L487.6,303.0Z" fill="#9fb0d4" fill-opacity="0.35" stroke="#26478c" stroke-width="1.15"/>
<path d="M488.0,299.4L490.6,303.9L485.4,303.9Z" fill="#9fb0d4" fill-opacity="0.35" stroke="#26478c" stroke-width="1.15"/>
<path d="M483.9,304.2L486.5,308.7L481.3,308.7Z" fill="#9fb0d4" fill-opacity="0.35" stroke="#26478c" stroke-width="1.15"/>
<path d="M490.0,301.3L492.6,305.8L487.4,305.8Z" fill="#9fb0d4" fill-opacity="0.35" stroke="#26478c" stroke-width="1.15"/>
<path d="M484.0,304.5L486.6,309.0L481.4,309.0Z" fill="#9fb0d4" fill-opacity="0.35" stroke="#26478c" stroke-width="1.15"/>
<path d="M485.9,302.5L488.5,307.0L483.3,307.0Z" fill="#9fb0d4" fill-opacity="0.35" stroke="#26478c" stroke-width="1.15"/>
<path d="M458.4,401.9L461.0,406.4L455.8,406.4Z" fill="#9fb0d4" fill-opacity="0.35" stroke="#26478c" stroke-width="1.15"/>
<path d="M467.9,350.0L470.5,354.5L465.3,354.5Z" fill="#9fb0d4" fill-opacity="0.35" stroke="#26478c" stroke-width="1.15"/>
<path d="M508.0,352.3L510.6,356.8L505.4,356.8Z" fill="#9fb0d4" fill-opacity="0.35" stroke="#26478c" stroke-width="1.15"/>
<path d="M499.3,373.6L501.9,378.1L496.7,378.1Z" fill="#9fb0d4" fill-opacity="0.35" stroke="#26478c" stroke-width="1.15"/>
<path d="M506.4,373.6L509.0,378.1L503.8,378.1Z" fill="#9fb0d4" fill-opacity="0.35" stroke="#26478c" stroke-width="1.15"/>
<path d="M518.0,371.3L520.6,375.8L515.4,375.8Z" fill="#9fb0d4" fill-opacity="0.35" stroke="#26478c" stroke-width="1.15"/>
<path d="M525.3,365.8L527.9,370.3L522.7,370.3Z" fill="#9fb0d4" fill-opacity="0.35" stroke="#26478c" stroke-width="1.15"/>
<path d="M526.0,376.0L528.6,380.5L523.4,380.5Z" fill="#9fb0d4" fill-opacity="0.35" stroke="#26478c" stroke-width="1.15"/>
<path d="M523.7,379.9L526.3,384.4L521.1,384.4Z" fill="#9fb0d4" fill-opacity="0.35" stroke="#26478c" stroke-width="1.15"/>
<path d="M533.9,369.7L536.5,374.2L531.3,374.2Z" fill="#9fb0d4" fill-opacity="0.35" stroke="#26478c" stroke-width="1.15"/>
<path d="M538.6,368.9L541.2,373.4L536.0,373.4Z" fill="#9fb0d4" fill-opacity="0.35" stroke="#26478c" stroke-width="1.15"/>
<path d="M541.8,361.8L544.4,366.3L539.2,366.3Z" fill="#9fb0d4" fill-opacity="0.35" stroke="#26478c" stroke-width="1.15"/>
<path d="M495.4,402.7L498.0,407.2L492.8,407.2Z" fill="#9fb0d4" fill-opacity="0.35" stroke="#26478c" stroke-width="1.15"/>
<path d="M488.3,390.9L490.9,395.4L485.7,395.4Z" fill="#9fb0d4" fill-opacity="0.35" stroke="#26478c" stroke-width="1.15"/>
<path d="M486.7,394.9L489.3,399.4L484.1,399.4Z" fill="#9fb0d4" fill-opacity="0.35" stroke="#26478c" stroke-width="1.15"/>
<path d="M470.2,407.3L472.8,411.8L467.6,411.8Z" fill="#9fb0d4" fill-opacity="0.35" stroke="#26478c" stroke-width="1.15"/>
<path d="M511.0,414.5L513.6,419.0L508.4,419.0Z" fill="#9fb0d4" fill-opacity="0.35" stroke="#26478c" stroke-width="1.15"/>
<path d="M519.8,310.7L522.4,315.2L517.2,315.2Z" fill="#9fb0d4" fill-opacity="0.35" stroke="#26478c" stroke-width="1.15"/>
<path d="M515.0,304.3L517.6,308.8L512.4,308.8Z" fill="#9fb0d4" fill-opacity="0.35" stroke="#26478c" stroke-width="1.15"/>
<path d="M522.9,302.1L525.5,306.6L520.3,306.6Z" fill="#9fb0d4" fill-opacity="0.35" stroke="#26478c" stroke-width="1.15"/>
<path d="M537.0,303.7L539.6,308.2L534.4,308.2Z" fill="#9fb0d4" fill-opacity="0.35" stroke="#26478c" stroke-width="1.15"/>
<path d="M540.2,314.7L542.8,319.2L537.6,319.2Z" fill="#9fb0d4" fill-opacity="0.35" stroke="#26478c" stroke-width="1.15"/>
<path d="M547.3,332.0L549.9,336.5L544.7,336.5Z" fill="#9fb0d4" fill-opacity="0.35" stroke="#26478c" stroke-width="1.15"/>
<path d="M539.4,342.2L542.0,346.7L536.8,346.7Z" fill="#9fb0d4" fill-opacity="0.35" stroke="#26478c" stroke-width="1.15"/>
<path d="M490.7,332.0L493.3,336.5L488.1,336.5Z" fill="#9fb0d4" fill-opacity="0.35" stroke="#26478c" stroke-width="1.15"/>
<path d="M499.3,335.1L501.9,339.6L496.7,339.6Z" fill="#9fb0d4" fill-opacity="0.35" stroke="#26478c" stroke-width="1.15"/>
<path d="M491.5,357.9L494.1,362.4L488.9,362.4Z" fill="#9fb0d4" fill-opacity="0.35" stroke="#26478c" stroke-width="1.15"/>
<path d="M486.0,296.6L488.6,301.1L483.4,301.1Z" fill="#9fb0d4" fill-opacity="0.35" stroke="#26478c" stroke-width="1.15"/>
<path d="M510.0,299.3L512.6,303.8L507.4,303.8Z" fill="#9fb0d4" fill-opacity="0.35" stroke="#26478c" stroke-width="1.15"/>
<path d="M505.0,298.3L507.6,302.8L502.4,302.8Z" fill="#9fb0d4" fill-opacity="0.35" stroke="#26478c" stroke-width="1.15"/>
<path d="M561.5,311.0L564.1,315.5L558.9,315.5Z" fill="#9fb0d4" fill-opacity="0.35" stroke="#26478c" stroke-width="1.15"/>
<path d="M560.5,310.1L563.1,314.6L557.9,314.6Z" fill="#9fb0d4" fill-opacity="0.35" stroke="#26478c" stroke-width="1.15"/>
<path d="M651.6,362.1H657.4M654.5,359.2V365.0" stroke="#2f6a35" stroke-width="1.3"/>
<path d="M632.2,367.3H638.0M635.1,364.4V370.2" stroke="#2f6a35" stroke-width="1.3"/>
<path d="M637.1,360.5H642.9M640.0,357.6V363.4" stroke="#2f6a35" stroke-width="1.3"/>
<path d="M631.0,356.8H636.8M633.9,353.9V359.7" stroke="#2f6a35" stroke-width="1.3"/>
<path d="M620.5,365.0H626.3M623.4,362.1V367.9" stroke="#2f6a35" stroke-width="1.3"/>
<path d="M650.1,351.5H655.9M653.0,348.6V354.4" stroke="#2f6a35" stroke-width="1.3"/>
<path d="M622.8,349.7H628.6M625.7,346.8V352.6" stroke="#2f6a35" stroke-width="1.3"/>
<path d="M648.3,354.9H654.1M651.2,352.0V357.8" stroke="#2f6a35" stroke-width="1.3"/>
<path d="M636.5,355.6H642.3M639.4,352.7V358.5" stroke="#2f6a35" stroke-width="1.3"/>
<path d="M635.9,352.1H641.7M638.8,349.2V355.0" stroke="#2f6a35" stroke-width="1.3"/>
<path d="M637.3,350.5H643.1M640.2,347.6V353.4" stroke="#2f6a35" stroke-width="1.3"/>
<path d="M636.4,358.4H642.2M639.3,355.5V361.3" stroke="#2f6a35" stroke-width="1.3"/>
<path d="M641.5,356.0H647.3M644.4,353.1V358.9" stroke="#2f6a35" stroke-width="1.3"/>
<path d="M628.5,357.7H634.3M631.4,354.8V360.6" stroke="#2f6a35" stroke-width="1.3"/>
<path d="M632.5,364.0H638.3M635.4,361.1V366.9" stroke="#2f6a35" stroke-width="1.3"/>
<path d="M644.4,356.5H650.2M647.3,353.6V359.4" stroke="#2f6a35" stroke-width="1.3"/>
<path d="M632.6,353.8H638.4M635.5,350.9V356.7" stroke="#2f6a35" stroke-width="1.3"/>
<path d="M628.2,355.4H634.0M631.1,352.5V358.3" stroke="#2f6a35" stroke-width="1.3"/>
<path d="M639.9,359.3H645.7M642.8,356.4V362.2" stroke="#2f6a35" stroke-width="1.3"/>
<path d="M642.5,366.4H648.3M645.4,363.5V369.3" stroke="#2f6a35" stroke-width="1.3"/>
<path d="M630.4,357.1H636.2M633.3,354.2V360.0" stroke="#2f6a35" stroke-width="1.3"/>
<path d="M657.6,348.6H663.4M660.5,345.7V351.5" stroke="#2f6a35" stroke-width="1.3"/>
<path d="M632.1,357.8H637.9M635.0,354.9V360.7" stroke="#2f6a35" stroke-width="1.3"/>
<path d="M638.6,358.8H644.4M641.5,355.9V361.7" stroke="#2f6a35" stroke-width="1.3"/>
<path d="M634.8,358.6H640.6M637.7,355.7V361.5" stroke="#2f6a35" stroke-width="1.3"/>
<path d="M637.6,360.5H643.4M640.5,357.6V363.4" stroke="#2f6a35" stroke-width="1.3"/>
<path d="M619.1,353.0H624.9M622.0,350.1V355.9" stroke="#2f6a35" stroke-width="1.3"/>
<path d="M637.1,352.4H642.9M640.0,349.5V355.3" stroke="#2f6a35" stroke-width="1.3"/>
<path d="M627.2,359.8H633.0M630.1,356.9V362.7" stroke="#2f6a35" stroke-width="1.3"/>
<path d="M630.9,359.9H636.7M633.8,357.0V362.8" stroke="#2f6a35" stroke-width="1.3"/>
<path d="M644.2,358.4H650.0M647.1,355.5V361.3" stroke="#2f6a35" stroke-width="1.3"/>
<path d="M641.9,356.5H647.7M644.8,353.6V359.4" stroke="#2f6a35" stroke-width="1.3"/>
<path d="M623.7,356.9H629.5M626.6,354.0V359.8" stroke="#2f6a35" stroke-width="1.3"/>
<path d="M641.4,354.6H647.2M644.3,351.7V357.5" stroke="#2f6a35" stroke-width="1.3"/>
<path d="M636.2,360.4H642.0M639.1,357.5V363.3" stroke="#2f6a35" stroke-width="1.3"/>
<path d="M628.8,359.9H634.6M631.7,357.0V362.8" stroke="#2f6a35" stroke-width="1.3"/>
<path d="M654.8,354.5H660.6M657.7,351.6V357.4" stroke="#2f6a35" stroke-width="1.3"/>
<path d="M638.5,356.3H644.3M641.4,353.4V359.2" stroke="#2f6a35" stroke-width="1.3"/>
<path d="M651.7,358.4H657.5M654.6,355.5V361.3" stroke="#2f6a35" stroke-width="1.3"/>
<path d="M645.6,353.9H651.4M648.5,351.0V356.8" stroke="#2f6a35" stroke-width="1.3"/>
<path d="M636.9,357.0H642.7M639.8,354.1V359.9" stroke="#2f6a35" stroke-width="1.3"/>
<path d="M620.2,363.5H626.0M623.1,360.6V366.4" stroke="#2f6a35" stroke-width="1.3"/>
<path d="M645.6,349.1H651.4M648.5,346.2V352.0" stroke="#2f6a35" stroke-width="1.3"/>
<path d="M644.2,356.4H650.0M647.1,353.5V359.3" stroke="#2f6a35" stroke-width="1.3"/>
<path d="M641.4,358.6H647.2M644.3,355.7V361.5" stroke="#2f6a35" stroke-width="1.3"/>
<path d="M622.9,356.0H628.7M625.8,353.1V358.9" stroke="#2f6a35" stroke-width="1.3"/>
<path d="M651.3,354.4H657.1M654.2,351.5V357.3" stroke="#2f6a35" stroke-width="1.3"/>
<path d="M627.4,350.9H633.2M630.3,348.0V353.8" stroke="#2f6a35" stroke-width="1.3"/>
<path d="M625.5,358.5H631.3M628.4,355.6V361.4" stroke="#2f6a35" stroke-width="1.3"/>
<path d="M653.2,358.9H659.0M656.1,356.0V361.8" stroke="#2f6a35" stroke-width="1.3"/>
<path d="M639.4,367.1H645.2M642.3,364.2V370.0" stroke="#2f6a35" stroke-width="1.3"/>
<path d="M632.2,354.0H638.0M635.1,351.1V356.9" stroke="#2f6a35" stroke-width="1.3"/>
<path d="M642.1,359.5H647.9M645.0,356.6V362.4" stroke="#2f6a35" stroke-width="1.3"/>
<path d="M627.5,351.7H633.3M630.4,348.8V354.6" stroke="#2f6a35" stroke-width="1.3"/>
<path d="M639.9,358.1H645.7M642.8,355.2V361.0" stroke="#2f6a35" stroke-width="1.3"/>
<path d="M624.7,356.1H630.5M627.6,353.2V359.0" stroke="#2f6a35" stroke-width="1.3"/>
<path d="M631.9,359.1H637.7M634.8,356.2V362.0" stroke="#2f6a35" stroke-width="1.3"/>
<path d="M636.0,356.6H641.8M638.9,353.7V359.5" stroke="#2f6a35" stroke-width="1.3"/>
<path d="M633.7,361.7H639.5M636.6,358.8V364.6" stroke="#2f6a35" stroke-width="1.3"/>
<path d="M650.3,355.3H656.1M653.2,352.4V358.2" stroke="#2f6a35" stroke-width="1.3"/>
<path d="M645.1,353.6H650.9M648.0,350.7V356.5" stroke="#2f6a35" stroke-width="1.3"/>
<path d="M637.8,360.4H643.6M640.7,357.5V363.3" stroke="#2f6a35" stroke-width="1.3"/>
<path d="M651.5,355.3H657.3M654.4,352.4V358.2" stroke="#2f6a35" stroke-width="1.3"/>
<path d="M636.4,357.9H642.2M639.3,355.0V360.8" stroke="#2f6a35" stroke-width="1.3"/>
<path d="M622.9,357.1H628.7M625.8,354.2V360.0" stroke="#2f6a35" stroke-width="1.3"/>
<path d="M630.7,358.7H636.5M633.6,355.8V361.6" stroke="#2f6a35" stroke-width="1.3"/>
<path d="M626.4,348.1H632.2M629.3,345.2V351.0" stroke="#2f6a35" stroke-width="1.3"/>
<path d="M637.5,358.2H643.3M640.4,355.3V361.1" stroke="#2f6a35" stroke-width="1.3"/>
<path d="M631.9,361.0H637.7M634.8,358.1V363.9" stroke="#2f6a35" stroke-width="1.3"/>
<path d="M634.5,354.3H640.3M637.4,351.4V357.2" stroke="#2f6a35" stroke-width="1.3"/>
<path d="M641.6,349.9H647.4M644.5,347.0V352.8" stroke="#2f6a35" stroke-width="1.3"/>
<path d="M630.7,356.9H636.5M633.6,354.0V359.8" stroke="#2f6a35" stroke-width="1.3"/>
<path d="M645.2,356.3H651.0M648.1,353.4V359.2" stroke="#2f6a35" stroke-width="1.3"/>
<path d="M640.0,354.1H645.8M642.9,351.2V357.0" stroke="#2f6a35" stroke-width="1.3"/>
<path d="M640.0,364.5H645.8M642.9,361.6V367.4" stroke="#2f6a35" stroke-width="1.3"/>
<path d="M630.6,367.6H636.4M633.5,364.7V370.5" stroke="#2f6a35" stroke-width="1.3"/>
<path d="M631.0,357.1H636.8M633.9,354.2V360.0" stroke="#2f6a35" stroke-width="1.3"/>
<path d="M638.7,361.6H644.5M641.6,358.7V364.5" stroke="#2f6a35" stroke-width="1.3"/>
<path d="M625.3,347.5H631.1M628.2,344.6V350.4" stroke="#2f6a35" stroke-width="1.3"/>
<path d="M642.9,360.6H648.7M645.8,357.7V363.5" stroke="#2f6a35" stroke-width="1.3"/>
<path d="M643.0,368.8H648.8M645.9,365.9V371.7" stroke="#2f6a35" stroke-width="1.3"/>
<path d="M639.0,358.1H644.8M641.9,355.2V361.0" stroke="#2f6a35" stroke-width="1.3"/>
<path d="M645.9,358.7H651.7M648.8,355.8V361.6" stroke="#2f6a35" stroke-width="1.3"/>
<path d="M652.9,351.4H658.7M655.8,348.5V354.3" stroke="#2f6a35" stroke-width="1.3"/>
<path d="M633.5,341.5H639.3M636.4,338.6V344.4" stroke="#2f6a35" stroke-width="1.3"/>
<path d="M644.8,355.3H650.6M647.7,352.4V358.2" stroke="#2f6a35" stroke-width="1.3"/>
<path d="M645.9,366.7H651.7M648.8,363.8V369.6" stroke="#2f6a35" stroke-width="1.3"/>
<path d="M637.0,355.9H642.8M639.9,353.0V358.8" stroke="#2f6a35" stroke-width="1.3"/>
<path d="M632.4,353.2H638.2M635.3,350.3V356.1" stroke="#2f6a35" stroke-width="1.3"/>
<path d="M631.1,359.9H636.9M634.0,357.0V362.8" stroke="#2f6a35" stroke-width="1.3"/>
<path d="M637.4,357.3H643.2M640.3,354.4V360.2" stroke="#2f6a35" stroke-width="1.3"/>
<path d="M635.5,361.1H641.3M638.4,358.2V364.0" stroke="#2f6a35" stroke-width="1.3"/>
<path d="M641.8,356.4H647.6M644.7,353.5V359.3" stroke="#2f6a35" stroke-width="1.3"/>
<path d="M643.4,356.3H649.2M646.3,353.4V359.2" stroke="#2f6a35" stroke-width="1.3"/>
<path d="M626.1,363.5H631.9M629.0,360.6V366.4" stroke="#2f6a35" stroke-width="1.3"/>
<path d="M641.5,352.7H647.3M644.4,349.8V355.6" stroke="#2f6a35" stroke-width="1.3"/>
<path d="M647.3,358.6H653.1M650.2,355.7V361.5" stroke="#2f6a35" stroke-width="1.3"/>
<path d="M622.2,364.2H628.0M625.1,361.3V367.1" stroke="#2f6a35" stroke-width="1.3"/>
<path d="M640.3,361.0H646.1M643.2,358.1V363.9" stroke="#2f6a35" stroke-width="1.3"/>
<path d="M639.0,356.3H644.8M641.9,353.4V359.2" stroke="#2f6a35" stroke-width="1.3"/>
<path d="M622.4,361.4H628.2M625.3,358.5V364.3" stroke="#2f6a35" stroke-width="1.3"/>
<path d="M637.4,355.7H643.2M640.3,352.8V358.6" stroke="#2f6a35" stroke-width="1.3"/>
<path d="M640.4,357.4H646.2M643.3,354.5V360.3" stroke="#2f6a35" stroke-width="1.3"/>
<path d="M643.5,355.3H649.3M646.4,352.4V358.2" stroke="#2f6a35" stroke-width="1.3"/>
<path d="M636.8,347.4H642.6M639.7,344.5V350.3" stroke="#2f6a35" stroke-width="1.3"/>
<path d="M633.1,360.0H638.9M636.0,357.1V362.9" stroke="#2f6a35" stroke-width="1.3"/>
<path d="M649.8,355.4H655.6M652.7,352.5V358.3" stroke="#2f6a35" stroke-width="1.3"/>
<path d="M635.9,364.1H641.7M638.8,361.2V367.0" stroke="#2f6a35" stroke-width="1.3"/>
<path d="M634.0,360.3H639.8M636.9,357.4V363.2" stroke="#2f6a35" stroke-width="1.3"/>
<path d="M653.0,357.2H658.8M655.9,354.3V360.1" stroke="#2f6a35" stroke-width="1.3"/>
<path d="M648.8,353.8H654.6M651.7,350.9V356.7" stroke="#2f6a35" stroke-width="1.3"/>
<path d="M639.1,356.7H644.9M642.0,353.8V359.6" stroke="#2f6a35" stroke-width="1.3"/>
<path d="M638.2,362.1H644.0M641.1,359.2V365.0" stroke="#2f6a35" stroke-width="1.3"/>
<path d="M657.6,354.0H663.4M660.5,351.1V356.9" stroke="#2f6a35" stroke-width="1.3"/>
<path d="M631.6,359.2H637.4M634.5,356.3V362.1" stroke="#2f6a35" stroke-width="1.3"/>
<path d="M627.1,359.2H632.9M630.0,356.3V362.1" stroke="#2f6a35" stroke-width="1.3"/>
<path d="M642.5,355.8H648.3M645.4,352.9V358.7" stroke="#2f6a35" stroke-width="1.3"/>
<path d="M642.1,350.0H647.9M645.0,347.1V352.9" stroke="#2f6a35" stroke-width="1.3"/>
<path d="M644.3,350.0H650.1M647.2,347.1V352.9" stroke="#2f6a35" stroke-width="1.3"/>
<path d="M630.5,354.5H636.3M633.4,351.6V357.4" stroke="#2f6a35" stroke-width="1.3"/>
<path d="M633.3,360.9H639.1M636.2,358.0V363.8" stroke="#2f6a35" stroke-width="1.3"/>
<path d="M637.9,355.2H643.7M640.8,352.3V358.1" stroke="#2f6a35" stroke-width="1.3"/>
<path d="M642.3,364.1H648.1M645.2,361.2V367.0" stroke="#2f6a35" stroke-width="1.3"/>
<path d="M637.2,358.6H643.0M640.1,355.7V361.5" stroke="#2f6a35" stroke-width="1.3"/>
<path d="M648.9,358.2H654.7M651.8,355.3V361.1" stroke="#2f6a35" stroke-width="1.3"/>
<path d="M624.9,368.2H630.7M627.8,365.3V371.1" stroke="#2f6a35" stroke-width="1.3"/>
<path d="M657.6,348.1H663.4M660.5,345.2V351.0" stroke="#2f6a35" stroke-width="1.3"/>
<path d="M636.7,358.9H642.5M639.6,356.0V361.8" stroke="#2f6a35" stroke-width="1.3"/>
<path d="M646.3,360.0H652.1M649.2,357.1V362.9" stroke="#2f6a35" stroke-width="1.3"/>
<path d="M634.5,352.3H640.3M637.4,349.4V355.2" stroke="#2f6a35" stroke-width="1.3"/>
<path d="M638.1,361.7H643.9M641.0,358.8V364.6" stroke="#2f6a35" stroke-width="1.3"/>
<path d="M626.7,352.4H632.5M629.6,349.5V355.3" stroke="#2f6a35" stroke-width="1.3"/>
<path d="M636.9,348.3H642.7M639.8,345.4V351.2" stroke="#2f6a35" stroke-width="1.3"/>
<path d="M634.6,355.0H640.4M637.5,352.1V357.9" stroke="#2f6a35" stroke-width="1.3"/>
<path d="M641.4,353.8H647.2M644.3,350.9V356.7" stroke="#2f6a35" stroke-width="1.3"/>
<path d="M628.7,355.2H634.5M631.6,352.3V358.1" stroke="#2f6a35" stroke-width="1.3"/>
<path d="M636.6,354.0H642.4M639.5,351.1V356.9" stroke="#2f6a35" stroke-width="1.3"/>
<path d="M637.2,360.4H643.0M640.1,357.5V363.3" stroke="#2f6a35" stroke-width="1.3"/>
<path d="M648.4,364.7H654.2M651.3,361.8V367.6" stroke="#2f6a35" stroke-width="1.3"/>
<path d="M629.7,355.1H635.5M632.6,352.2V358.0" stroke="#2f6a35" stroke-width="1.3"/>
<path d="M615.1,365.5H620.9M618.0,362.6V368.4" stroke="#2f6a35" stroke-width="1.3"/>
<path d="M630.2,356.8H636.0M633.1,353.9V359.7" stroke="#2f6a35" stroke-width="1.3"/>
<path d="M642.1,350.9H647.9M645.0,348.0V353.8" stroke="#2f6a35" stroke-width="1.3"/>
<path d="M641.5,356.9H647.3M644.4,354.0V359.8" stroke="#2f6a35" stroke-width="1.3"/>
<path d="M619.8,358.3H625.6M622.7,355.4V361.2" stroke="#2f6a35" stroke-width="1.3"/>
<path d="M648.4,348.6H654.2M651.3,345.7V351.5" stroke="#2f6a35" stroke-width="1.3"/>
<path d="M644.8,357.9H650.6M647.7,355.0V360.8" stroke="#2f6a35" stroke-width="1.3"/>
<path d="M641.6,359.0H647.4M644.5,356.1V361.9" stroke="#2f6a35" stroke-width="1.3"/>
<path d="M649.5,356.0H655.3M652.4,353.1V358.9" stroke="#2f6a35" stroke-width="1.3"/>
<path d="M645.4,355.2H651.2M648.3,352.3V358.1" stroke="#2f6a35" stroke-width="1.3"/>
<path d="M652.0,356.1H657.8M654.9,353.2V359.0" stroke="#2f6a35" stroke-width="1.3"/>
<path d="M629.0,362.0H634.8M631.9,359.1V364.9" stroke="#2f6a35" stroke-width="1.3"/>
<path d="M655.0,349.9H660.8M657.9,347.0V352.8" stroke="#2f6a35" stroke-width="1.3"/>
<path d="M641.8,359.2H647.6M644.7,356.3V362.1" stroke="#2f6a35" stroke-width="1.3"/>
<path d="M627.4,354.6H633.2M630.3,351.7V357.5" stroke="#2f6a35" stroke-width="1.3"/>
<path d="M624.5,351.7H630.3M627.4,348.8V354.6" stroke="#2f6a35" stroke-width="1.3"/>
<path d="M628.8,358.8H634.6M631.7,355.9V361.7" stroke="#2f6a35" stroke-width="1.3"/>
<path d="M643.9,351.7H649.7M646.8,348.8V354.6" stroke="#2f6a35" stroke-width="1.3"/>
<path d="M619.5,353.9H625.3M622.4,351.0V356.8" stroke="#2f6a35" stroke-width="1.3"/>
<path d="M644.9,351.3H650.7M647.8,348.4V354.2" stroke="#2f6a35" stroke-width="1.3"/>
<path d="M631.0,351.7H636.8M633.9,348.8V354.6" stroke="#2f6a35" stroke-width="1.3"/>
<path d="M649.3,357.9H655.1M652.2,355.0V360.8" stroke="#2f6a35" stroke-width="1.3"/>
<path d="M621.5,349.8H627.3M624.4,346.9V352.7" stroke="#2f6a35" stroke-width="1.3"/>
<path d="M634.1,357.9H639.9M637.0,355.0V360.8" stroke="#2f6a35" stroke-width="1.3"/>
<path d="M643.4,349.6H649.2M646.3,346.7V352.5" stroke="#2f6a35" stroke-width="1.3"/>
<path d="M625.3,360.5H631.1M628.2,357.6V363.4" stroke="#2f6a35" stroke-width="1.3"/>
<path d="M634.7,353.1H640.5M637.6,350.2V356.0" stroke="#2f6a35" stroke-width="1.3"/>
<path d="M630.8,365.2H636.6M633.7,362.3V368.1" stroke="#2f6a35" stroke-width="1.3"/>
<path d="M631.0,358.2H636.8M633.9,355.3V361.1" stroke="#2f6a35" stroke-width="1.3"/>
<path d="M632.7,355.5H638.5M635.6,352.6V358.4" stroke="#2f6a35" stroke-width="1.3"/>
<path d="M651.9,365.9H657.7M654.8,363.0V368.8" stroke="#2f6a35" stroke-width="1.3"/>
<path d="M632.9,351.5H638.7M635.8,348.6V354.4" stroke="#2f6a35" stroke-width="1.3"/>
<path d="M646.8,351.7H652.6M649.7,348.8V354.6" stroke="#2f6a35" stroke-width="1.3"/>
<path d="M619.3,364.2H625.1M622.2,361.3V367.1" stroke="#2f6a35" stroke-width="1.3"/>
<path d="M635.2,362.8H641.0M638.1,359.9V365.7" stroke="#2f6a35" stroke-width="1.3"/>
<path d="M634.5,363.9H640.3M637.4,361.0V366.8" stroke="#2f6a35" stroke-width="1.3"/>
<path d="M636.6,350.9H642.4M639.5,348.0V353.8" stroke="#2f6a35" stroke-width="1.3"/>
<path d="M619.7,357.9H625.5M622.6,355.0V360.8" stroke="#2f6a35" stroke-width="1.3"/>
<path d="M643.4,364.4H649.2M646.3,361.5V367.3" stroke="#2f6a35" stroke-width="1.3"/>
<path d="M622.5,359.2H628.3M625.4,356.3V362.1" stroke="#2f6a35" stroke-width="1.3"/>
<path d="M562.1,329.5H567.9M565.0,326.6V332.4" stroke="#2f6a35" stroke-width="1.3"/>
<path d="M575.8,330.2H581.6M578.7,327.3V333.1" stroke="#2f6a35" stroke-width="1.3"/>
<path d="M589.5,336.0H595.3M592.4,333.1V338.9" stroke="#2f6a35" stroke-width="1.3"/>
<path d="M610.3,335.2H616.1M613.2,332.3V338.1" stroke="#2f6a35" stroke-width="1.3"/>
<path d="M576.6,338.8H582.4M579.5,335.9V341.7" stroke="#2f6a35" stroke-width="1.3"/>
<path d="M582.3,338.8H588.1M585.2,335.9V341.7" stroke="#2f6a35" stroke-width="1.3"/>
<path d="M593.1,341.0H598.9M596.0,338.1V343.9" stroke="#2f6a35" stroke-width="1.3"/>
<path d="M592.4,343.8H598.2M595.3,340.9V346.7" stroke="#2f6a35" stroke-width="1.3"/>
<path d="M604.6,338.8H610.4M607.5,335.9V341.7" stroke="#2f6a35" stroke-width="1.3"/>
<path d="M610.3,343.1H616.1M613.2,340.2V346.0" stroke="#2f6a35" stroke-width="1.3"/>
<path d="M557.1,348.9H562.9M560.0,346.0V351.8" stroke="#2f6a35" stroke-width="1.3"/>
<path d="M578.0,349.6H583.8M580.9,346.7V352.5" stroke="#2f6a35" stroke-width="1.3"/>
<path d="M584.5,353.2H590.3M587.4,350.3V356.1" stroke="#2f6a35" stroke-width="1.3"/>
<path d="M590.9,351.0H596.7M593.8,348.1V353.9" stroke="#2f6a35" stroke-width="1.3"/>
<path d="M604.6,351.0H610.4M607.5,348.1V353.9" stroke="#2f6a35" stroke-width="1.3"/>
<path d="M608.1,354.6H613.9M611.0,351.7V357.5" stroke="#2f6a35" stroke-width="1.3"/>
<path d="M569.4,369.0H575.2M572.3,366.1V371.9" stroke="#2f6a35" stroke-width="1.3"/>
<path d="M606.1,366.0H611.9M609.0,363.1V368.9" stroke="#2f6a35" stroke-width="1.3"/>
<path d="M601.7,371.2H607.5M604.6,368.3V374.1" stroke="#2f6a35" stroke-width="1.3"/>
<path d="M609.6,374.0H615.4M612.5,371.1V376.9" stroke="#2f6a35" stroke-width="1.3"/>
<path d="M617.5,371.2H623.3M620.4,368.3V374.1" stroke="#2f6a35" stroke-width="1.3"/>
<path d="M604.6,376.2H610.4M607.5,373.3V379.1" stroke="#2f6a35" stroke-width="1.3"/>
<path d="M596.7,379.0H602.5M599.6,376.1V381.9" stroke="#2f6a35" stroke-width="1.3"/>
<path d="M613.9,379.8H619.7M616.8,376.9V382.7" stroke="#2f6a35" stroke-width="1.3"/>
<path d="M634.1,346.0H639.9M637.0,343.1V348.9" stroke="#2f6a35" stroke-width="1.3"/>
<path d="M654.9,346.7H660.7M657.8,343.8V349.6" stroke="#2f6a35" stroke-width="1.3"/>
<path d="M621.1,346.7H626.9M624.0,343.8V349.6" stroke="#2f6a35" stroke-width="1.3"/>
<path d="M613.2,349.6H619.0M616.1,346.7V352.5" stroke="#2f6a35" stroke-width="1.3"/>
<path d="M610.3,363.2H616.1M613.2,360.3V366.1" stroke="#2f6a35" stroke-width="1.3"/>
<path d="M589.1,336.5H594.9M592.0,333.6V339.4" stroke="#2f6a35" stroke-width="1.3"/>
<circle cx="550.1" cy="423.9" r="2.1" fill="#d8a8a8" fill-opacity="0.4" stroke="#8a2a2c" stroke-width="1.1"/>
<circle cx="571.0" cy="418.2" r="2.1" fill="#d8a8a8" fill-opacity="0.4" stroke="#8a2a2c" stroke-width="1.1"/>
<circle cx="587.0" cy="419.9" r="2.1" fill="#d8a8a8" fill-opacity="0.4" stroke="#8a2a2c" stroke-width="1.1"/>
<circle cx="613.8" cy="410.2" r="2.1" fill="#d8a8a8" fill-opacity="0.4" stroke="#8a2a2c" stroke-width="1.1"/>
<circle cx="598.7" cy="433.6" r="2.1" fill="#d8a8a8" fill-opacity="0.4" stroke="#8a2a2c" stroke-width="1.1"/>
<circle cx="563.5" cy="429.6" r="2.1" fill="#d8a8a8" fill-opacity="0.4" stroke="#8a2a2c" stroke-width="1.1"/>
<circle cx="560.1" cy="432.8" r="2.1" fill="#d8a8a8" fill-opacity="0.4" stroke="#8a2a2c" stroke-width="1.1"/>
<circle cx="556.8" cy="444.1" r="2.1" fill="#d8a8a8" fill-opacity="0.4" stroke="#8a2a2c" stroke-width="1.1"/>
<circle cx="560.1" cy="448.1" r="2.1" fill="#d8a8a8" fill-opacity="0.4" stroke="#8a2a2c" stroke-width="1.1"/>
<circle cx="561.8" cy="449.8" r="2.1" fill="#d8a8a8" fill-opacity="0.4" stroke="#8a2a2c" stroke-width="1.1"/>
<circle cx="563.5" cy="453.8" r="2.1" fill="#d8a8a8" fill-opacity="0.4" stroke="#8a2a2c" stroke-width="1.1"/>
<circle cx="566.9" cy="452.2" r="2.1" fill="#d8a8a8" fill-opacity="0.4" stroke="#8a2a2c" stroke-width="1.1"/>
<circle cx="568.5" cy="458.6" r="2.1" fill="#d8a8a8" fill-opacity="0.4" stroke="#8a2a2c" stroke-width="1.1"/>
<circle cx="566.9" cy="461.9" r="2.1" fill="#d8a8a8" fill-opacity="0.4" stroke="#8a2a2c" stroke-width="1.1"/>
<circle cx="570.2" cy="463.5" r="2.1" fill="#d8a8a8" fill-opacity="0.4" stroke="#8a2a2c" stroke-width="1.1"/>
<circle cx="568.5" cy="468.3" r="2.1" fill="#d8a8a8" fill-opacity="0.4" stroke="#8a2a2c" stroke-width="1.1"/>
<circle cx="567.7" cy="470.4" r="2.1" fill="#d8a8a8" fill-opacity="0.4" stroke="#8a2a2c" stroke-width="1.1"/>
<circle cx="570.4" cy="471.1" r="2.1" fill="#d8a8a8" fill-opacity="0.4" stroke="#8a2a2c" stroke-width="1.1"/>
<circle cx="564.8" cy="474.2" r="2.1" fill="#d8a8a8" fill-opacity="0.4" stroke="#8a2a2c" stroke-width="1.1"/>
<circle cx="571.2" cy="470.8" r="2.1" fill="#d8a8a8" fill-opacity="0.4" stroke="#8a2a2c" stroke-width="1.1"/>
<circle cx="571.1" cy="481.1" r="2.1" fill="#d8a8a8" fill-opacity="0.4" stroke="#8a2a2c" stroke-width="1.1"/>
<circle cx="569.7" cy="471.6" r="2.1" fill="#d8a8a8" fill-opacity="0.4" stroke="#8a2a2c" stroke-width="1.1"/>
<circle cx="574.5" cy="476.3" r="2.1" fill="#d8a8a8" fill-opacity="0.4" stroke="#8a2a2c" stroke-width="1.1"/>
<circle cx="568.7" cy="473.1" r="2.1" fill="#d8a8a8" fill-opacity="0.4" stroke="#8a2a2c" stroke-width="1.1"/>
<circle cx="571.1" cy="474.6" r="2.1" fill="#d8a8a8" fill-opacity="0.4" stroke="#8a2a2c" stroke-width="1.1"/>
<circle cx="571.7" cy="475.7" r="2.1" fill="#d8a8a8" fill-opacity="0.4" stroke="#8a2a2c" stroke-width="1.1"/>
<circle cx="569.9" cy="474.9" r="2.1" fill="#d8a8a8" fill-opacity="0.4" stroke="#8a2a2c" stroke-width="1.1"/>
<circle cx="569.7" cy="475.4" r="2.1" fill="#d8a8a8" fill-opacity="0.4" stroke="#8a2a2c" stroke-width="1.1"/>
<circle cx="566.2" cy="469.7" r="2.1" fill="#d8a8a8" fill-opacity="0.4" stroke="#8a2a2c" stroke-width="1.1"/>
<circle cx="570.0" cy="475.0" r="2.1" fill="#d8a8a8" fill-opacity="0.4" stroke="#8a2a2c" stroke-width="1.1"/>
<circle cx="569.8" cy="470.0" r="2.1" fill="#d8a8a8" fill-opacity="0.4" stroke="#8a2a2c" stroke-width="1.1"/>
<circle cx="567.4" cy="473.5" r="2.1" fill="#d8a8a8" fill-opacity="0.4" stroke="#8a2a2c" stroke-width="1.1"/>
<circle cx="570.4" cy="471.5" r="2.1" fill="#d8a8a8" fill-opacity="0.4" stroke="#8a2a2c" stroke-width="1.1"/>
<circle cx="568.7" cy="480.0" r="2.1" fill="#d8a8a8" fill-opacity="0.4" stroke="#8a2a2c" stroke-width="1.1"/>
<circle cx="571.9" cy="472.1" r="2.1" fill="#d8a8a8" fill-opacity="0.4" stroke="#8a2a2c" stroke-width="1.1"/>
<circle cx="569.4" cy="474.1" r="2.1" fill="#d8a8a8" fill-opacity="0.4" stroke="#8a2a2c" stroke-width="1.1"/>
<circle cx="569.9" cy="474.6" r="2.1" fill="#d8a8a8" fill-opacity="0.4" stroke="#8a2a2c" stroke-width="1.1"/>
<circle cx="567.3" cy="475.6" r="2.1" fill="#d8a8a8" fill-opacity="0.4" stroke="#8a2a2c" stroke-width="1.1"/>
<circle cx="568.2" cy="475.2" r="2.1" fill="#d8a8a8" fill-opacity="0.4" stroke="#8a2a2c" stroke-width="1.1"/>
<circle cx="567.0" cy="471.1" r="2.1" fill="#d8a8a8" fill-opacity="0.4" stroke="#8a2a2c" stroke-width="1.1"/>
<circle cx="566.7" cy="471.1" r="2.1" fill="#d8a8a8" fill-opacity="0.4" stroke="#8a2a2c" stroke-width="1.1"/>
<defs><clipPath id="mapclip"><rect x="49" y="45" width="350.5" height="183"/></clipPath><clipPath id="in1"><rect x="420.5" y="44" width="75.5" height="88"/></clipPath><clipPath id="in2"><rect x="420.5" y="140.5" width="75" height="87.5"/></clipPath></defs>
<g clip-path="url(#mapclip)">
<rect x="49" y="45" width="351" height="183" fill="#eeeeee"/>
<polygon fill="#fdfdfd" points="48.0,179.0 60.0,181.0 75.0,185.0 93.0,189.0 100.0,197.0 104.0,205.0 111.0,218.5 115.5,226.0 116.0,229.0 48.0,229.0"/>
<polygon fill="#eeeeee" points="50.0,185.0 56.0,187.0 57.0,196.0 51.0,195.0"/>
<polygon fill="#fdfdfd" points="117.0,229.0 119.0,222.0 127.0,212.0 142.0,194.0 154.0,185.0 165.0,187.0 174.0,205.0 178.0,218.0 181.0,229.0"/>
<polygon fill="#fdfdfd" points="186.0,229.0 187.0,215.0 190.0,206.0 194.0,211.0 195.0,229.0"/>
<polygon fill="#fdfdfd" points="211.0,229.0 213.0,212.0 216.0,200.0 222.0,195.0 230.0,193.0 240.0,189.0 250.0,184.0 257.0,177.0 262.0,170.0 265.0,162.0 260.0,155.0 257.0,148.0 265.0,141.0 262.0,137.0 258.0,136.0 262.0,130.0 268.0,126.0 276.0,121.0 286.0,115.0 294.0,108.0 300.0,98.0 307.0,85.0 314.0,74.0 330.0,68.0 348.0,68.0 364.0,65.0 376.0,60.5 388.0,59.0 400.0,58.0 400.0,229.0"/>
<polygon fill="#eeeeee" points="278.0,121.0 286.0,118.0 292.0,120.0 295.0,128.0 296.0,138.0 293.0,147.0 286.0,150.0 281.0,146.0 283.0,138.0 280.0,130.0"/>
<polygon fill="#eeeeee" points="327.0,98.0 334.0,99.0 341.0,104.0 345.0,112.0 340.0,117.0 334.0,121.0 331.0,130.0 326.0,140.0 318.0,146.0 305.0,152.0 294.0,157.0 286.0,162.0 282.0,160.0 290.0,152.0 304.0,145.0 316.0,138.0 322.0,128.0 324.0,118.0 326.0,108.0"/>
<polygon fill="#eeeeee" points="322.0,82.0 327.0,83.0 332.0,92.0 331.0,101.0 326.0,96.0 323.0,89.0"/>
<polygon fill="#eeeeee" points="368.0,64.0 380.0,61.0 400.0,58.0 400.0,78.0 394.0,86.0 388.0,93.0 382.0,96.0 376.0,88.0 372.0,76.0"/>
<polygon fill="#eeeeee" points="257.0,181.0 262.0,183.0 262.0,190.0 258.0,193.0 255.0,188.0"/>
<polygon fill="#eeeeee" points="219.0,196.0 226.0,195.0 228.0,201.0 222.0,204.0"/>
<polygon fill="#eeeeee" points="258.0,205.0 264.0,208.0 266.0,218.0 270.0,228.0 260.0,229.0 256.0,216.0"/>
<polyline fill="none" stroke="#c4c4c4" stroke-width="0.7" points="49.0,95.0 60.0,88.0 80.0,86.0 100.0,84.0 110.0,88.0 125.0,88.0 140.0,90.0 150.0,101.0"/>
<polyline fill="none" stroke="#c4c4c4" stroke-width="0.7" points="152.0,102.0 165.0,98.0 180.0,96.0 195.0,100.0 210.0,101.0 225.0,100.0 240.0,103.0 250.0,96.0"/>
<polyline fill="none" stroke="#c4c4c4" stroke-width="0.7" points="49.0,140.0 60.0,132.0 75.0,128.0 90.0,130.0 104.0,134.0"/>
<polyline fill="none" stroke="#c4c4c4" stroke-width="0.7" points="60.0,150.0 80.0,148.0 95.0,155.0 108.0,145.0"/>
<polyline fill="none" stroke="#c4c4c4" stroke-width="0.7" points="100.0,186.0 110.0,175.0 120.0,160.0 122.0,150.0"/>
<polyline fill="none" stroke="#c4c4c4" stroke-width="0.7" points="160.0,186.0 168.0,178.0 176.0,174.0 185.0,178.0"/>
<polyline fill="none" stroke="#c4c4c4" stroke-width="0.7" points="168.0,195.0 175.0,190.0 183.0,192.0"/>
<polyline fill="none" stroke="#c4c4c4" stroke-width="0.7" points="49.0,110.0 70.0,112.0 90.0,115.0 110.0,128.0"/>
<polyline fill="none" stroke="#c4c4c4" stroke-width="0.7" points="270.0,60.0 290.0,55.0 320.0,52.0 360.0,54.0 399.0,50.0"/>
<polyline fill="none" stroke="#c4c4c4" stroke-width="0.7" points="160.0,60.0 200.0,58.0 240.0,62.0 270.0,60.0"/>
<polygon fill="none" stroke="#1a1a1a" stroke-width="1.35" stroke-linejoin="round" points="104.6,134.2 108.0,129.4 115.6,127.3 123.9,124.6 127.3,120.4 125.3,115.6 132.1,112.9 136.3,108.1 143.1,107.4 150.0,101.9 156.9,105.3 162.4,110.1 161.0,114.3 174.8,117.7 182.5,123.5 197.5,125.0 212.5,125.0 227.5,120.5 230.5,116.0 238.0,114.5 250.0,110.0 251.5,107.0 244.0,106.2 242.5,102.5 248.5,98.0 254.5,95.0 257.0,90.0 260.0,88.0 270.0,89.0 276.0,95.0 278.0,99.0 285.0,102.0 291.0,105.0 300.0,104.0 304.0,106.0 302.0,110.0 296.0,114.0 292.0,118.0 290.0,122.0 283.0,125.0 276.0,128.0 270.0,130.0 264.0,134.0 257.0,136.0 255.0,137.5 262.0,139.0 264.8,140.4 257.0,148.2 259.6,155.1 264.8,162.0 261.4,169.8 256.2,176.8 248.4,183.7 238.0,188.9 228.5,192.3 222.0,192.5 214.0,184.0 206.0,186.0 196.0,188.0 186.0,184.0 183.0,176.0 185.8,166.0 176.0,163.0 168.0,170.0 155.0,167.0 136.3,164.0 126.6,162.4 122.5,150.0 119.8,147.3 112.9,144.5 108.8,140.4"/>
<polyline fill="none" stroke="#2a2a2a" stroke-width="1.05" stroke-linejoin="round" points="178.9,123.9 166.5,133.5 159.6,136.3 161.0,143.1 147.3,143.8 133.5,145.9 122.5,148.6"/>
<polyline fill="none" stroke="#2a2a2a" stroke-width="1.05" stroke-linejoin="round" points="159.6,136.3 180.3,134.9 191.3,136.3 194.0,141.8 191.3,154.1 183.0,155.5 177.5,156.9 166.5,152.8 158.3,150.0 156.9,144.5 161.0,143.1"/>
<polyline fill="none" stroke="#2a2a2a" stroke-width="1.05" stroke-linejoin="round" points="177.5,122.5 183.0,128.0 191.3,130.8 197.5,135.5 212.5,134.0 224.5,129.5 235.0,123.5 247.0,122.0 255.0,120.0 263.0,112.0 270.0,104.0 276.0,95.0"/>
<polyline fill="none" stroke="#2a2a2a" stroke-width="1.05" stroke-linejoin="round" points="263.0,112.0 273.0,116.0 282.0,117.0 292.0,118.0"/>
<polyline fill="none" stroke="#2a2a2a" stroke-width="1.05" stroke-linejoin="round" points="250.0,112.0 255.0,110.0 262.0,113.0 264.0,122.0 260.0,125.0 255.0,128.0"/>
<polyline fill="none" stroke="#2a2a2a" stroke-width="1.05" stroke-linejoin="round" points="191.3,154.1 196.0,158.0 204.0,160.0 212.0,162.0 220.0,158.0 226.0,154.0 232.0,152.0 238.0,148.0 246.0,146.0 256.0,148.2"/>
<polyline fill="none" stroke="#2a2a2a" stroke-width="1.05" stroke-linejoin="round" points="197.5,135.5 200.0,145.0 204.0,152.0 212.0,150.0 220.0,145.0 226.0,138.0 230.0,130.0"/>
<polyline fill="none" stroke="#2a2a2a" stroke-width="1.05" stroke-linejoin="round" points="212.0,162.0 216.0,170.0 220.0,178.0 222.0,192.5"/>
<polyline fill="none" stroke="#2a2a2a" stroke-width="1.05" stroke-linejoin="round" points="226.0,154.0 230.0,162.0 238.0,166.0 246.0,170.0 252.0,176.0 248.4,183.7"/>
<polyline fill="none" stroke="#2a2a2a" stroke-width="1.05" stroke-linejoin="round" points="238.0,166.0 236.0,176.0 238.0,188.9"/>
<polyline fill="none" stroke="#2a2a2a" stroke-width="1.05" stroke-linejoin="round" points="220.0,178.0 228.0,176.0 236.0,176.0"/>
<polyline fill="none" stroke="#2a2a2a" stroke-width="1.05" stroke-linejoin="round" points="232.0,152.0 236.0,140.0 245.0,134.0 255.0,130.0"/>
<polyline fill="none" stroke="#2a2a2a" stroke-width="1.05" stroke-linejoin="round" points="246.0,146.0 250.0,140.0 257.0,137.0"/>
<polyline fill="none" stroke="#2a2a2a" stroke-width="1.05" stroke-linejoin="round" points="246.0,170.0 254.0,162.0 259.6,155.1"/>
<polyline fill="none" stroke="#2a2a2a" stroke-width="1.05" stroke-linejoin="round" points="185.8,166.0 192.0,160.0 196.0,158.0"/>
<polyline fill="none" stroke="#2a2a2a" stroke-width="1.05" stroke-linejoin="round" points="204.0,160.0 208.0,170.0 214.0,184.0"/>
<polyline fill="none" stroke="#2a2a2a" stroke-width="1.05" stroke-linejoin="round" points="240.0,150.0 246.0,160.0 252.0,162.0"/>
<polyline fill="none" stroke="#2a2a2a" stroke-width="1.05" stroke-linejoin="round" points="216.0,136.0 222.0,146.0 224.0,150.0"/>
<polygon fill="none" stroke="#111" stroke-width="1.1" points="257.0,181.0 262.0,183.0 262.0,190.0 258.0,193.0 255.0,188.0"/>
<polygon fill="none" stroke="#111" stroke-width="1" points="219.0,196.0 226.0,195.0 228.0,201.0 222.0,204.0"/>
<polygon fill="#2452a0" stroke="#2452a0" stroke-width="3.5" stroke-linejoin="round" points="193.8,138.8 197.5,135.0 203.8,133.8 211.2,135.0 216.2,134.4 222.5,130.0 227.5,128.8 235.0,125.0 237.5,118.8 242.5,117.5 247.5,118.8 251.2,121.2 256.2,124.4 255.0,128.8 248.8,133.8 242.5,137.5 237.5,142.5 231.2,146.2 227.5,151.2 228.8,155.0 231.2,157.5 237.5,158.8 245.0,157.5 252.5,158.8 257.5,161.2 255.0,165.0 246.2,165.0 238.8,163.8 232.5,163.8 230.0,165.6 225.0,165.0 221.2,161.2 216.2,157.5 207.5,153.8 200.0,153.8 195.0,150.0 196.0,148.0 195.0,145.0 196.0,141.0"/>
<circle cx="193.8" cy="138.5" r="3.3" fill="#2452a0"/>
<circle cx="202.8" cy="134.4" r="3.0" fill="#2452a0"/>
<circle cx="212.2" cy="134.9" r="3.5" fill="#2452a0"/>
<circle cx="216.5" cy="133.7" r="3.3" fill="#2452a0"/>
<circle cx="228.0" cy="129.1" r="2.9" fill="#2452a0"/>
<circle cx="237.1" cy="117.8" r="3.5" fill="#2452a0"/>
<circle cx="242.9" cy="118.3" r="3.4" fill="#2452a0"/>
<circle cx="251.9" cy="121.1" r="3.5" fill="#2452a0"/>
<circle cx="254.3" cy="128.2" r="3.6" fill="#2452a0"/>
<circle cx="249.0" cy="133.4" r="3.2" fill="#2452a0"/>
<circle cx="242.2" cy="137.7" r="3.3" fill="#2452a0"/>
<circle cx="245.7" cy="158.4" r="3.5" fill="#2452a0"/>
<circle cx="252.9" cy="158.2" r="3.5" fill="#2452a0"/>
<circle cx="257.1" cy="160.4" r="3.5" fill="#2452a0"/>
<circle cx="246.9" cy="164.8" r="2.9" fill="#2452a0"/>
<circle cx="239.3" cy="164.5" r="2.8" fill="#2452a0"/>
<circle cx="230.4" cy="165.3" r="3.5" fill="#2452a0"/>
<circle cx="222.2" cy="160.9" r="2.9" fill="#2452a0"/>
<circle cx="215.3" cy="156.9" r="3.1" fill="#2452a0"/>
<circle cx="199.1" cy="154.5" r="3.1" fill="#2452a0"/>
<circle cx="194.9" cy="145.0" r="3.3" fill="#2452a0"/>
<circle cx="196.1" cy="141.2" r="3.6" fill="#2452a0"/>
<circle cx="224" cy="171" r="3.6" fill="#2452a0"/>
<circle cx="230" cy="171" r="3.6" fill="#2452a0"/>
<circle cx="180" cy="145" r="3.3" fill="#2452a0"/>
<circle cx="191" cy="145" r="3.3" fill="#2452a0"/>
<circle cx="268.75" cy="123.75" r="3.3" fill="#2452a0"/>
<circle cx="287.2" cy="95.5" r="3.2" fill="#2452a0"/>
<circle cx="289" cy="98" r="3.2" fill="#2452a0"/>
<circle cx="329.8" cy="105" r="3.2" fill="#2452a0"/>
<circle cx="283.7" cy="138.4" r="3.4" fill="#2452a0"/>
<circle cx="280.3" cy="144.1" r="3.4" fill="#2452a0"/>
<circle cx="286" cy="137" r="3" fill="#2452a0"/>
<circle cx="383.9" cy="82" r="3.2" fill="#2452a0"/>
<circle cx="132.5" cy="68.5" r="3.2" fill="#2452a0"/>
<circle cx="82.5" cy="77.5" r="3.2" fill="#2452a0"/>
<circle cx="88.5" cy="106.5" r="3.3" fill="#2452a0"/>
<circle cx="127.5" cy="96" r="3.2" fill="#2452a0"/>
<circle cx="162.8" cy="88" r="3.2" fill="#2452a0"/>
<circle cx="207.5" cy="88.5" r="3.2" fill="#2452a0"/>
<circle cx="236" cy="91.5" r="3.2" fill="#2452a0"/>
<circle cx="247.5" cy="142.5" r="5.5" fill="#f0f0f0"/><circle cx="247.5" cy="142.5" r="3.4" fill="#2452a0"/>
<polygon fill="#3a8a3c" stroke="#3a8a3c" stroke-width="2" stroke-linejoin="round" points="186.2,170.0 193.8,165.0 200.0,163.8 205.0,165.0 211.2,166.2 216.2,168.8 217.5,175.0 215.0,180.0 210.0,185.0 202.5,187.5 195.0,190.0 188.8,187.5 185.0,182.5 183.8,176.2"/>
<polygon fill="#3a8a3c" stroke="#3a8a3c" stroke-width="2" stroke-linejoin="round" points="203.8,155.0 212.5,153.1 221.2,155.0 223.8,158.8 218.8,161.2 211.2,160.0 205.0,158.8"/>
<circle cx="221.25" cy="184.4" r="5.5" fill="#f2f2f2"/><circle cx="221.25" cy="184.4" r="3.2" fill="#3a8a3c"/>
<circle cx="120.4" cy="156.9" r="3.4" fill="#8c1f24"/>
<circle cx="123" cy="158" r="3" fill="#8c1f24"/>
<circle cx="143.1" cy="166.5" r="3.5" fill="#8c1f24"/>
<circle cx="146" cy="164.5" r="3.5" fill="#8c1f24"/>
<circle cx="149" cy="166" r="3.4" fill="#8c1f24"/>
<circle cx="152" cy="168.5" r="3.3" fill="#8c1f24"/>
<circle cx="155.5" cy="170" r="3.3" fill="#8c1f24"/>
<circle cx="162.4" cy="163.1" r="3.2" fill="#8c1f24"/>
<circle cx="167.9" cy="170" r="3.3" fill="#8c1f24"/>
<circle cx="176.2" cy="163.8" r="3.5" fill="#8c1f24"/>
<circle cx="178" cy="167" r="3.3" fill="#8c1f24"/>
<circle cx="185.8" cy="165.2" r="3.5" fill="#8c1f24"/>
<circle cx="182" cy="168.5" r="3.3" fill="#8c1f24"/>
<circle cx="188" cy="163" r="3.2" fill="#8c1f24"/>
<circle cx="140" cy="168.5" r="3" fill="#8c1f24"/>
<circle cx="158" cy="171" r="3" fill="#8c1f24"/>
<circle cx="327.5" cy="120" r="3.4" fill="#8c1f24"/>
<circle cx="329" cy="125" r="3.6" fill="#8c1f24"/>
<circle cx="326" cy="129.5" r="3.4" fill="#8c1f24"/>
<circle cx="331" cy="123" r="3" fill="#8c1f24"/>
<circle cx="324" cy="127" r="3" fill="#8c1f24"/>
<path d="M267.6,117.7 C290,105 330,90 399.5,83.5" fill="none" stroke="#3558a5" stroke-width="2.2"/>
<path d="M258.4,149.9 C290,162 340,173 399.5,179.5" fill="none" stroke="#3558a5" stroke-width="2.2"/>
<circle cx="339.5" cy="188.6" r="1.8" fill="#6a3040"/>
<text x="345.8" y="191.6" font-size="10.5" fill="#7a3038" stroke="#7a3038" stroke-width="0.3">HW</text>
<circle cx="339.5" cy="200.6" r="1.8" fill="#4a6a50"/>
<text x="345.8" y="203.6" font-size="10.5" fill="#5a8a62" stroke="#5a8a62" stroke-width="0.3">SL</text>
<circle cx="339.5" cy="212.6" r="1.8" fill="#40486a"/>
<text x="345.8" y="215.6" font-size="10.5" fill="#3c4a78" stroke="#3c4a78" stroke-width="0.3">NL</text>
</g>
<rect x="48.8" y="44.8" width="350.8" height="183.6" fill="none" stroke="#222" stroke-width="1.3"/>
<g clip-path="url(#in1)">
<rect x="420" y="44" width="76" height="88" fill="#fbfbfb"/>
<polygon fill="#e3e3e3" points="440.0,62.0 446.0,55.0 452.0,50.0 462.0,47.0 476.0,45.0 496.0,44.0 496.0,100.0 486.0,99.0 476.0,96.0 466.0,95.0 456.0,94.0 448.0,93.0 440.0,91.0 434.0,89.0 428.0,86.0 425.0,81.0 428.0,77.0 433.0,74.0 438.0,70.0"/>
<polygon fill="#e3e3e3" points="427.0,65.0 433.0,63.0 435.0,70.0 431.0,75.0 427.0,72.0"/>
<polygon fill="#fbfbfb" points="446.0,60.0 452.0,54.0 458.0,56.0 455.0,64.0 450.0,68.0"/>
<polygon fill="#fbfbfb" points="470.0,88.0 480.0,84.0 488.0,88.0 484.0,93.0 474.0,93.0"/>
<polygon fill="#e3e3e3" points="421.0,101.0 432.0,99.0 444.0,98.0 456.0,100.0 466.0,99.0 478.0,101.0 488.0,102.0 496.0,101.0 496.0,132.0 421.0,132.0"/>
<line x1="476" y1="104" x2="486" y2="122" stroke="#fbfbfb" stroke-width="1.5"/>
<circle cx="441" cy="77.6" r="1.4" fill="#2b4a8e"/>
<circle cx="445.6" cy="75.3" r="1.4" fill="#2b4a8e"/>
<circle cx="443" cy="79.4" r="1.4" fill="#2b4a8e"/>
<circle cx="451.5" cy="79.4" r="1.4" fill="#2b4a8e"/>
<circle cx="454" cy="79" r="1.4" fill="#2b4a8e"/>
<circle cx="456" cy="79.4" r="1.4" fill="#2b4a8e"/>
<circle cx="459.7" cy="82.4" r="1.4" fill="#2b4a8e"/>
<circle cx="462.6" cy="71.2" r="1.4" fill="#2b4a8e"/>
<circle cx="465" cy="70.6" r="1.4" fill="#2b4a8e"/>
<circle cx="465" cy="74" r="1.4" fill="#2b4a8e"/>
<circle cx="469" cy="77" r="1.4" fill="#2b4a8e"/>
<circle cx="473" cy="71.2" r="1.4" fill="#2b4a8e"/>
<circle cx="476.8" cy="77" r="1.4" fill="#2b4a8e"/>
</g>
<rect x="420.5" y="44" width="75.5" height="88.3" fill="none" stroke="#222" stroke-width="1.3"/>
<g clip-path="url(#in2)">
<rect x="420" y="140" width="76" height="88" fill="#fbfbfb"/>
<polygon fill="#e3e3e3" points="421.0,141.0 496.0,141.0 496.0,152.0 490.0,156.0 484.0,163.0 478.0,170.0 472.0,176.0 466.0,182.0 460.0,187.0 454.0,192.0 448.0,196.0 442.0,199.0 436.0,197.0 430.0,199.0 431.0,206.0 438.0,212.0 444.0,219.0 450.0,226.0 452.0,228.0 440.0,228.0 430.0,220.0 421.0,214.0"/>
<polygon fill="#fbfbfb" points="441.0,158.0 450.0,154.0 459.0,158.0 458.0,167.0 448.0,169.0 443.0,165.0"/>
<polygon fill="#fbfbfb" points="436.0,147.0 452.0,146.0 462.0,150.0 474.0,148.0 478.0,152.0 466.0,154.0 448.0,152.0"/>
<polygon fill="#fbfbfb" points="478.0,150.0 486.0,146.0 494.0,150.0 490.0,158.0 482.0,158.0"/>
<polygon fill="#e3e3e3" points="456.0,214.0 468.0,210.0 482.0,214.0 492.0,220.0 494.0,228.0 458.0,228.0"/>
<polygon fill="#e3e3e3" points="448.0,204.0 458.0,203.0 466.0,206.0 458.0,207.0"/>
<polygon fill="#2b4a8e" points="465.0,180.0 470.0,175.0 473.0,176.0 469.0,182.0"/>
</g>
<line x1="420.5" y1="140.5" x2="420.5" y2="228.3" stroke="#222" stroke-width="1.3"/>
<line x1="495.7" y1="140.5" x2="495.7" y2="228.3" stroke="#222" stroke-width="1.3"/>
<line x1="420" y1="228" x2="496.3" y2="228" stroke="#222" stroke-width="1.3"/>
<path d="M399,83.5 C410,83 418,83 424,83" fill="none" stroke="#3558a5" stroke-width="2.4"/>
<polygon points="436,83 419.5,77.5 423.5,83 419.5,88.5" fill="#2f52a0"/>
<path d="M399,179.5 C415,181 428,181.7 442,181.8" fill="none" stroke="#3558a5" stroke-width="2.4"/>
<polygon points="454,181.8 437,176.5 441,181.8 437,187.2" fill="#2f52a0"/>
<path d="M52.5,330.0C53.3,323.3 55.8,318.3 60.0,312.5C64.2,306.7 71.7,299.2 77.5,295.0C83.3,290.8 88.3,289.0 95.0,287.5C101.7,286.0 109.2,285.9 117.5,286.0C125.8,286.1 136.2,286.5 145.0,288.0C153.8,289.5 162.5,292.7 170.0,295.0C177.5,297.3 183.8,299.1 190.0,302.0C196.2,304.9 202.2,309.0 207.5,312.5C212.8,316.0 218.2,319.2 222.0,323.0C225.8,326.8 227.8,330.5 230.0,335.0C232.2,339.5 234.2,345.4 235.0,350.0C235.8,354.6 235.8,356.7 235.0,362.5C234.2,368.3 233.3,377.9 230.0,385.0C226.7,392.1 222.5,399.2 215.0,405.0C207.5,410.8 194.6,416.7 185.0,420.0C175.4,423.3 163.3,426.7 157.5,425.0C151.7,423.3 152.1,416.2 150.0,410.0C147.9,403.8 147.5,393.3 145.0,387.5C142.5,381.7 141.2,378.8 135.0,375.0C128.8,371.2 117.1,367.5 107.5,365.0C97.9,362.5 86.2,362.1 77.5,360.0C68.8,357.9 59.2,357.5 55.0,352.5C50.8,347.5 51.7,336.7 52.5,330.0Z" fill="#d9ecd3"/>
<path d="M68.0,417.0C75.8,415.5 96.5,413.0 110.0,414.0C123.5,415.0 140.5,419.0 149.0,423.0C157.5,427.0 155.0,434.0 161.0,438.0C167.0,442.0 175.5,445.0 185.0,447.0C194.5,449.0 207.5,448.5 218.0,450.0C228.5,451.5 239.5,453.0 248.0,456.0C256.5,459.0 264.5,463.5 269.0,468.0C273.5,472.5 275.5,477.5 275.0,483.0C274.5,488.5 271.5,496.0 266.0,501.0C260.5,506.0 252.0,509.5 242.0,513.0C232.0,516.5 218.0,520.0 206.0,522.0C194.0,524.0 181.0,525.0 170.0,525.0C159.0,525.0 150.0,524.5 140.0,522.0C130.0,519.5 119.0,515.0 110.0,510.0C101.0,505.0 93.0,499.0 86.0,492.0C79.0,485.0 72.0,476.5 68.0,468.0C64.0,459.5 62.8,448.5 62.0,441.0C61.2,433.5 62.5,427.0 63.5,423.0C64.5,419.0 60.2,418.5 68.0,417.0Z" fill="#cfe8ee"/>
<path d="M155.5,422 C190,405 220,388 241,382.6 C252,378 258,375.3 264,375.3 C272,375.3 280,380 280.5,387 C281,396 276,402 269.4,404 C262,407 255,409 248,410 C230,413 190,419 155.5,424 Z" fill="#f2bfd8"/>
<path d="M155.5,423.3 L290,410.3 C300,409.5 305,411 305,416 C305,421 300,422.2 290,422 L155.5,425 Z" fill="#ad62b8"/>
<line x1="155" y1="424.2" x2="298" y2="416.5" stroke="#8a3a9a" stroke-width="1.3"/>
<path d="M152.5,424 C151,405 149,392 145,385 C138,372 110,362 58,354" stroke="#2f7d3b" stroke-width="1.3" fill="none"/>
<line x1="152.3" y1="421" x2="218" y2="392" stroke="#2f7d3b" stroke-width="1.05"/>
<line x1="152.0" y1="418" x2="220" y2="386" stroke="#2f7d3b" stroke-width="1.05"/>
<line x1="151.8" y1="415" x2="222" y2="378" stroke="#2f7d3b" stroke-width="1.05"/>
<line x1="151.5" y1="412" x2="214" y2="372" stroke="#2f7d3b" stroke-width="1.05"/>
<line x1="151.3" y1="409" x2="220" y2="364" stroke="#2f7d3b" stroke-width="1.05"/>
<line x1="151.0" y1="405" x2="205" y2="366" stroke="#2f7d3b" stroke-width="1.05"/>
<line x1="150.7" y1="402" x2="216" y2="356" stroke="#2f7d3b" stroke-width="1.05"/>
<line x1="150.4" y1="398" x2="205" y2="350" stroke="#2f7d3b" stroke-width="1.05"/>
<line x1="150.2" y1="395" x2="222" y2="348" stroke="#2f7d3b" stroke-width="1.05"/>
<path d="M148.0,392.0L160.8,379.2M160.8,379.2L179.3,362.9M179.3,362.9L203.2,342.0M160.8,379.2L185.7,363.7M185.7,363.7L210.0,348.7M160.8,379.2L178.5,351.2M178.5,351.2L194.9,325.2M160.8,379.2L163.3,377.1M163.3,377.1L201.3,345.0M160.8,379.2L174.8,364.8M174.8,364.8L207.6,331.1M160.8,379.2L167.1,373.3M167.1,373.3L213.4,329.8M160.8,379.2L174.5,361.6M174.5,361.6L193.3,337.4M160.8,379.2L163.2,375.7M163.2,375.7L192.6,333.1M160.8,379.2L160.9,379.2M160.9,379.2L212.5,332.4M160.8,379.2L167.4,374.4M167.4,374.4L216.6,339.0M160.8,379.2L168.4,374.8M168.4,374.8L208.8,351.6M160.8,379.2L180.4,366.8M180.4,366.8L213.4,346.0M160.8,379.2L172.4,362.9M172.4,362.9L191.3,336.2M160.8,379.2L168.6,374.7M168.6,374.7L208.1,351.6M160.8,379.2L164.5,375.1M164.5,375.1L206.5,327.6M160.8,379.2L173.2,360.7M173.2,360.7L198.2,323.5M160.8,379.2L166.4,369.7M166.4,369.7L191.1,327.9M160.8,379.2L170.0,367.9M170.0,367.9L195.4,336.6M160.8,379.2L176.3,360.7M176.3,360.7L200.7,331.5M160.8,379.2L161.1,378.6M161.1,378.6L187.7,333.6M160.8,379.2L161.2,378.9M161.2,378.9L204.3,346.2M160.8,379.2L177.2,366.6M177.2,366.6L212.4,339.7M160.8,379.2L164.8,373.1M164.8,373.1L200.9,318.4M160.8,379.2L184.8,363.2M184.8,363.2L218.6,340.6M160.8,379.2L169.5,374.0M169.5,374.0L206.6,351.5M160.8,379.2L177.9,359.5M177.9,359.5L200.9,333.0M160.8,379.2L174.6,358.2M174.6,358.2L192.2,331.2M160.8,379.2L191.1,356.8M191.1,356.8L219.0,336.1M160.8,379.2L173.3,360.9M173.3,360.9L198.2,324.6M160.8,379.2L188.6,360.3M188.6,360.3L215.6,342.0M160.8,379.2L169.1,371.3M169.1,371.3L208.2,333.8M160.8,379.2L164.3,374.5M164.3,374.5L204.0,322.4M160.8,379.2L164.3,376.4M164.3,376.4L200.7,347.3M160.8,379.2L168.6,365.8M168.6,365.8L187.3,333.6M160.8,379.2L175.7,363.0M175.7,363.0L206.4,329.7M160.8,379.2L172.6,370.5M172.6,370.5L211.9,341.9M160.8,379.2L161.3,378.4M161.3,378.4L188.6,332.7M160.8,379.2L163.5,376.4M163.5,376.4L199.0,340.7M160.8,379.2L175.2,368.2M175.2,368.2L202.3,347.5M160.8,379.2L174.1,368.8M174.1,368.8L216.4,335.7M160.8,379.2L165.8,371.8M165.8,371.8L191.6,333.6M160.8,379.2L177.1,361.9M177.1,361.9L195.7,342.4M160.8,379.2L175.4,370.0M175.4,370.0L215.1,345.0M160.8,379.2L168.6,373.0M168.6,373.0L209.5,340.2M160.8,379.2L170.5,368.6M170.5,368.6L207.7,328.2M160.8,379.2L176.9,370.2M176.9,370.2L207.5,353.0M160.8,379.2L163.1,376.9M163.1,376.9L206.8,333.2M160.8,379.2L177.2,358.2M177.2,358.2L195.2,335.2M160.8,379.2L176.2,361.3M176.2,361.3L197.0,337.2M160.8,379.2L179.6,363.8M179.6,363.8L205.9,342.3M160.8,379.2L166.6,372.5M166.6,372.5L198.3,335.9M160.8,379.2L175.6,364.1M175.6,364.1L199.9,339.5M160.8,379.2L172.4,364.5M172.4,364.5L193.1,338.2M160.8,379.2L176.7,364.4M176.7,364.4L213.5,329.9M160.8,379.2L169.9,367.5M169.9,367.5L196.4,333.1M160.8,379.2L181.8,364.0M181.8,364.0L208.7,344.6M160.8,379.2L176.3,361.1M176.3,361.1L198.9,334.7M160.8,379.2L185.2,361.2M185.2,361.2L213.5,340.3M160.8,379.2L186.8,361.6M186.8,361.6L209.2,346.4M160.8,379.2L176.2,369.4M176.2,369.4L213.7,345.6M160.8,379.2L176.9,355.8M176.9,355.8L192.1,333.8M160.8,379.2L176.7,362.9M176.7,362.9L200.9,338.1M160.8,379.2L183.7,360.4M183.7,360.4L214.2,335.5M160.8,379.2L170.7,370.1M170.7,370.1L203.5,339.9M160.8,379.2L175.5,366.3M175.5,366.3L202.7,342.5M160.8,379.2L165.7,375.1M165.7,375.1L216.2,333.1M160.8,379.2L165.6,374.1M165.6,374.1L200.8,336.7" stroke="#2f7d3b" stroke-width="1.05" fill="none" stroke-linecap="round"/>
<path d="M147.0,388.0L165.8,376.0M165.8,376.0L166.9,375.4M166.9,375.4L214.7,348.2M165.8,376.0L167.3,375.0M167.3,375.0L218.6,341.7M165.8,376.0L170.6,372.2M170.6,372.2L214.4,337.9M165.8,376.0L179.3,365.8M179.3,365.8L218.9,336.2M165.8,376.0L180.9,365.6M180.9,365.6L212.4,343.9M165.8,376.0L165.8,376.0M165.8,376.0L207.0,344.6M165.8,376.0L177.4,368.2M177.4,368.2L217.3,341.2M165.8,376.0L174.2,369.1M174.2,369.1L207.0,342.3M165.8,376.0L168.0,374.1M168.0,374.1L209.4,339.3M165.8,376.0L182.3,365.7M182.3,365.7L217.6,343.7M165.8,376.0L177.0,370.8M177.0,370.8L214.4,353.5M165.8,376.0L175.9,370.7M175.9,370.7L215.7,350.0M165.8,376.0L179.6,365.0M179.6,365.0L210.5,340.5M165.8,376.0L181.3,368.9M181.3,368.9L212.3,354.9M165.8,376.0L165.8,376.0M165.8,376.0L208.2,346.0M165.8,376.0L180.9,363.8M180.9,363.8L210.7,339.8M165.8,376.0L187.5,358.8M187.5,358.8L210.0,340.8M165.8,376.0L171.9,371.8M171.9,371.8L214.9,342.2M165.8,376.0L174.3,369.7M174.3,369.7L206.5,345.9M165.8,376.0L181.3,368.9M181.3,368.9L213.1,354.4M165.8,376.0L176.8,367.7M176.8,367.7L206.1,345.6M165.8,376.0L193.4,357.4M193.4,357.4L216.8,341.7M165.8,376.0L179.4,367.2M179.4,367.2L217.9,342.5M165.8,376.0L176.5,367.3M176.5,367.3L210.0,340.5M165.8,376.0L185.5,361.6M185.5,361.6L209.2,344.2M165.8,376.0L172.5,370.3M172.5,370.3L210.3,338.2M165.8,376.0L172.4,372.9M172.4,372.9L214.8,352.9" stroke="#2f7d3b" stroke-width="1.05" fill="none" stroke-linecap="round"/>
<path d="M146.0,384.0L150.4,369.6M150.4,369.6L157.3,339.0M157.3,339.0L163.1,313.4M150.4,369.6L153.2,357.0M153.2,357.0L161.2,321.4M150.4,369.6L157.3,350.6M157.3,350.6L167.4,323.2M150.4,369.6L151.5,361.9M151.5,361.9L157.3,323.1M150.4,369.6L153.1,361.2M153.1,361.2L166.8,318.0M150.4,369.6L153.5,359.8M153.5,359.8L166.1,320.2M150.4,369.6L150.8,368.7M150.8,368.7L169.2,323.5M150.4,369.6L155.9,343.9M155.9,343.9L161.2,318.5M150.4,369.6L150.6,369.2M150.6,369.2L171.9,323.5M150.4,369.6L156.8,354.2M156.8,354.2L170.6,320.9M150.4,369.6L155.2,357.5M155.2,357.5L168.3,324.0M150.4,369.6L155.3,359.1M155.3,359.1L173.2,320.9M150.4,369.6L154.1,361.1M154.1,361.1L173.2,317.3M150.4,369.6L161.0,344.4M161.0,344.4L173.5,314.9M150.4,369.6L153.4,361.9M153.4,361.9L169.1,320.5M150.4,369.6L151.8,366.4M151.8,366.4L168.1,329.2M150.4,369.6L154.3,356.4M154.3,356.4L164.7,321.4M150.4,369.6L154.9,351.6M154.9,351.6L164.2,313.7M150.4,369.6L153.3,362.7M153.3,362.7L173.1,314.9M150.4,369.6L157.4,354.2M157.4,354.2L169.4,327.4M150.4,369.6L153.3,343.9M153.3,343.9L155.8,321.9M150.4,369.6L151.0,368.4M151.0,368.4L173.1,326.8M150.4,369.6L158.4,351.1M158.4,351.1L172.9,317.6M150.4,369.6L152.0,366.4M152.0,366.4L172.2,326.7M150.4,369.6L151.1,366.1M151.1,366.1L159.5,326.7M150.4,369.6L151.9,365.2M151.9,365.2L167.8,319.7M150.4,369.6L151.6,366.3M151.6,366.3L169.9,313.4M150.4,369.6L150.9,367.8M150.9,367.8L165.5,312.6M150.4,369.6L157.6,348.2M157.6,348.2L165.4,325.2M150.4,369.6L151.9,360.6M151.9,360.6L159.3,317.5M150.4,369.6L159.1,344.5M159.1,344.5L167.2,321.0M150.4,369.6L156.2,347.6M156.2,347.6L165.5,312.3M150.4,369.6L152.7,356.1M152.7,356.1L158.5,321.0M150.4,369.6L157.9,354.0M157.9,354.0L172.3,323.8M150.4,369.6L151.9,362.7M151.9,362.7L160.9,320.3M150.4,369.6L151.8,366.1M151.8,366.1L169.7,322.3M150.4,369.6L154.8,348.3M154.8,348.3L161.4,317.0M150.4,369.6L153.4,352.7M153.4,352.7L158.6,322.6M150.4,369.6L150.7,367.2M150.7,367.2L157.2,321.3M150.4,369.6L151.4,363.1M151.4,363.1L158.3,320.2" stroke="#2f7d3b" stroke-width="1.05" fill="none" stroke-linecap="round"/>
<path d="M143.0,380.0L144.4,363.6M144.4,363.6L147.1,353.8M147.1,353.8L159.6,308.3M144.4,363.6L149.9,338.0M149.9,338.0L158.1,299.3M144.4,363.6L140.8,330.3M140.8,330.3L137.5,299.9M144.4,363.6L145.1,359.7M145.1,359.7L154.6,302.8M144.4,363.6L152.3,340.4M152.3,340.4L161.9,312.2M144.4,363.6L143.4,353.0M143.4,353.0L139.0,309.5M144.4,363.6L143.6,343.5M143.6,343.5L142.2,303.9M144.4,363.6L144.5,359.2M144.5,359.2L145.2,305.2M144.4,363.6L150.4,340.6M150.4,340.6L158.0,311.5M144.4,363.6L145.1,349.7M145.1,349.7L146.7,314.6M144.4,363.6L147.3,341.6M147.3,341.6L151.6,309.5M144.4,363.6L144.4,362.4M144.4,362.4L147.0,299.7M144.4,363.6L143.1,331.6M143.1,331.6L141.7,298.1M144.4,363.6L144.4,363.6M144.4,363.6L148.2,312.9M144.4,363.6L145.5,347.2M145.5,347.2L147.7,315.4M144.4,363.6L144.6,360.5M144.6,360.5L147.3,307.0M144.4,363.6L143.5,350.6M143.5,350.6L140.2,300.3M144.4,363.6L144.5,359.5M144.5,359.5L145.4,315.1M144.4,363.6L144.3,358.2M144.3,358.2L142.8,302.9M144.4,363.6L144.2,347.3M144.2,347.3L143.7,302.1M144.4,363.6L142.6,353.8M142.6,353.8L135.6,315.1M144.4,363.6L150.5,344.7M150.5,344.7L160.9,312.6M144.4,363.6L144.6,360.5M144.6,360.5L147.6,316.5M144.4,363.6L148.0,341.5M148.0,341.5L154.1,304.1M144.4,363.6L145.7,356.8M145.7,356.8L156.0,301.8M144.4,363.6L144.1,360.9M144.1,360.9L136.5,301.4M144.4,363.6L144.6,354.2M144.6,354.2L145.6,316.9M144.4,363.6L144.3,354.7M144.3,354.7L144.0,306.8M144.4,363.6L145.4,359.0M145.4,359.0L155.2,312.7M144.4,363.6L143.0,336.2M143.0,336.2L141.7,310.6M144.4,363.6L149.2,333.1M149.2,333.1L153.3,306.8M144.4,363.6L140.9,335.5M140.9,335.5L136.3,298.0M144.4,363.6L145.3,344.0M145.3,344.0L147.5,298.7M144.4,363.6L147.9,353.2M147.9,353.2L162.6,309.4M144.4,363.6L141.6,331.4M141.6,331.4L138.7,298.4M144.4,363.6L144.5,362.2M144.5,362.2L148.2,316.4M144.4,363.6L144.1,349.4M144.1,349.4L142.9,298.4M144.4,363.6L142.8,349.8M142.8,349.8L137.5,302.0M144.4,363.6L144.4,362.3M144.4,362.3L144.6,298.6M144.4,363.6L149.5,346.5M149.5,346.5L162.7,302.6M144.4,363.6L144.5,361.0M144.5,361.0L146.4,308.2M144.4,363.6L144.5,344.6M144.5,344.6L144.7,299.7M144.4,363.6L152.0,338.7M152.0,338.7L160.6,310.8M144.4,363.6L143.7,344.0M143.7,344.0L142.1,297.7M144.4,363.6L145.3,352.3M145.3,352.3L148.7,309.2M144.4,363.6L148.3,338.0M148.3,338.0L152.2,312.6M144.4,363.6L144.2,337.6M144.2,337.6L144.0,306.4M144.4,363.6L144.0,352.6M144.0,352.6L142.2,299.6M144.4,363.6L141.2,340.4M141.2,340.4L137.4,312.2M144.4,363.6L144.4,360.7M144.4,360.7L144.6,300.1M144.4,363.6L144.0,348.4M144.0,348.4L142.8,299.1M144.4,363.6L144.6,361.6M144.6,361.6L151.7,303.0M144.4,363.6L145.6,356.5M145.6,356.5L155.4,299.4M144.4,363.6L144.4,360.4M144.4,360.4L143.5,304.9M144.4,363.6L145.6,338.9M145.6,338.9L147.3,304.0M144.4,363.6L146.4,346.4M146.4,346.4L150.0,315.8M144.4,363.6L147.3,350.5M147.3,350.5L156.2,309.9M144.4,363.6L151.3,336.3M151.3,336.3L157.6,311.6M144.4,363.6L146.0,356.1M146.0,356.1L155.1,312.3M144.4,363.6L145.4,359.5M145.4,359.5L157.9,306.3M144.4,363.6L143.4,354.5M143.4,354.5L137.8,300.3M144.4,363.6L144.7,361.5M144.7,361.5L154.4,304.0M144.4,363.6L144.6,362.8M144.6,362.8L156.3,309.6M144.4,363.6L143.0,351.0M143.0,351.0L137.4,299.5M144.4,363.6L149.1,348.1M149.1,348.1L158.3,317.5M144.4,363.6L143.9,352.1M143.9,352.1L141.9,305.8M144.4,363.6L144.7,342.5M144.7,342.5L145.3,297.8" stroke="#2f7d3b" stroke-width="1.05" fill="none" stroke-linecap="round"/>
<path d="M141.0,378.0L137.8,360.8M137.8,360.8L137.7,357.9M137.7,357.9L135.9,305.5M137.8,360.8L133.4,335.3M133.4,335.3L126.4,295.4M137.8,360.8L133.2,339.3M133.2,339.3L127.3,311.6M137.8,360.8L127.2,330.4M127.2,330.4L116.8,300.3M137.8,360.8L134.9,346.3M134.9,346.3L125.7,301.1M137.8,360.8L137.0,345.9M137.0,345.9L135.2,310.1M137.8,360.8L137.9,357.5M137.9,357.5L138.9,302.1M137.8,360.8L137.7,359.0M137.7,359.0L134.4,299.2M137.8,360.8L137.5,338.5M137.5,338.5L137.0,290.5M137.8,360.8L135.7,349.9M135.7,349.9L127.9,310.3M137.8,360.8L135.7,354.0M135.7,354.0L119.0,299.0M137.8,360.8L133.7,335.3M133.7,335.3L127.9,299.1M137.8,360.8L135.4,352.6M135.4,352.6L119.9,300.5M137.8,360.8L138.9,335.7M138.9,335.7L140.2,307.1M137.8,360.8L137.1,356.0M137.1,356.0L129.5,299.7M137.8,360.8L137.7,359.6M137.7,359.6L135.1,300.6M137.8,360.8L129.7,335.0M129.7,335.0L117.2,295.6M137.8,360.8L136.9,331.6M136.9,331.6L135.7,294.3M137.8,360.8L130.9,335.2M130.9,335.2L123.3,306.9M137.8,360.8L136.4,349.9M136.4,349.9L131.1,308.0M137.8,360.8L130.4,342.7M130.4,342.7L114.8,304.8M137.8,360.8L134.5,350.5M134.5,350.5L118.7,301.5M137.8,360.8L132.9,348.1M132.9,348.1L114.5,300.6M137.8,360.8L135.5,348.9M135.5,348.9L127.1,306.6M137.8,360.8L139.0,333.3M139.0,333.3L140.1,306.6M137.8,360.8L136.2,344.3M136.2,344.3L132.4,304.9M137.8,360.8L136.5,340.3M136.5,340.3L133.8,298.1M137.8,360.8L136.8,351.6M136.8,351.6L131.5,302.0M137.8,360.8L133.3,348.1M133.3,348.1L114.9,295.7M137.8,360.8L134.7,339.8M134.7,339.8L129.9,307.3M137.8,360.8L135.7,353.4M135.7,353.4L123.8,312.1M137.8,360.8L134.8,332.5M134.8,332.5L130.6,292.5M137.8,360.8L135.4,336.2M135.4,336.2L132.9,311.0M137.8,360.8L135.8,339.5M135.8,339.5L132.9,308.4M137.8,360.8L135.2,342.3M135.2,342.3L128.6,295.8M137.8,360.8L136.7,325.6M136.7,325.6L135.7,295.1M137.8,360.8L137.8,360.7M137.8,360.7L127.6,299.9M137.8,360.8L132.5,337.6M132.5,337.6L123.0,296.2M137.8,360.8L138.0,343.3M138.0,343.3L138.4,308.9M137.8,360.8L132.0,335.8M132.0,335.8L122.6,294.8M137.8,360.8L136.0,349.6M136.0,349.6L129.1,306.5M137.8,360.8L137.4,349.7M137.4,349.7L135.4,294.6M137.8,360.8L129.8,333.7M129.8,333.7L121.6,305.9M137.8,360.8L130.0,337.9M130.0,337.9L119.2,306.6M137.8,360.8L131.8,340.2M131.8,340.2L118.4,294.6M137.8,360.8L137.3,339.9M137.3,339.9L136.6,308.6M137.8,360.8L134.0,343.5M134.0,343.5L124.6,301.2M137.8,360.8L137.6,350.9M137.6,350.9L136.2,296.4M137.8,360.8L137.1,355.7M137.1,355.7L131.3,311.5M137.8,360.8L130.4,340.9M130.4,340.9L113.8,296.6M137.8,360.8L136.8,353.9M136.8,353.9L128.3,295.3M137.8,360.8L134.8,339.6M134.8,339.6L129.8,304.9M137.8,360.8L136.0,342.5M136.0,342.5L130.9,292.2M137.8,360.8L137.7,351.9M137.7,351.9L137.0,310.2M137.8,360.8L137.0,331.7M137.0,331.7L136.2,303.7M137.8,360.8L130.0,336.2M130.0,336.2L121.0,307.6M137.8,360.8L136.4,353.7M136.4,353.7L124.8,294.2M137.8,360.8L136.0,355.3M136.0,355.3L116.8,295.5M137.8,360.8L133.8,332.8M133.8,332.8L128.3,293.6M137.8,360.8L136.1,337.4M136.1,337.4L134.0,307.8" stroke="#2f7d3b" stroke-width="1.05" fill="none" stroke-linecap="round"/>
<path d="M136.0,374.0L129.8,361.2M129.8,361.2L122.7,340.6M122.7,340.6L116.3,322.1M129.8,361.2L128.9,359.1M128.9,359.1L114.8,323.6M129.8,361.2L126.1,356.0M126.1,356.0L97.3,315.0M129.8,361.2L120.8,345.1M120.8,345.1L105.8,318.3M129.8,361.2L125.6,349.6M125.6,349.6L110.7,308.9M129.8,361.2L128.4,358.2M128.4,358.2L108.7,315.3M129.8,361.2L122.3,343.7M122.3,343.7L109.8,314.8M129.8,361.2L120.6,342.3M120.6,342.3L112.1,324.8M129.8,361.2L118.7,347.2M118.7,347.2L101.8,326.0M129.8,361.2L122.4,348.7M122.4,348.7L101.6,313.8M129.8,361.2L118.5,341.8M118.5,341.8L107.5,322.8M129.8,361.2L122.9,348.7M122.9,348.7L104.7,315.6M129.8,361.2L125.1,348.2M125.1,348.2L114.9,320.1M129.8,361.2L117.4,340.7M117.4,340.7L103.3,317.2M129.8,361.2L124.2,349.5M124.2,349.5L105.8,310.6M129.8,361.2L128.8,359.7M128.8,359.7L104.5,322.9M129.8,361.2L122.2,348.7M122.2,348.7L101.0,313.8M129.8,361.2L127.5,351.1M127.5,351.1L119.1,313.5M129.8,361.2L126.8,350.6M126.8,350.6L114.7,307.1M129.8,361.2L122.1,338.4M122.1,338.4L111.5,307.0M129.8,361.2L126.0,354.4M126.0,354.4L102.2,311.6M129.8,361.2L123.3,348.4M123.3,348.4L107.0,316.3M129.8,361.2L112.4,338.0M112.4,338.0L97.4,317.8M129.8,361.2L128.7,359.2M128.7,359.2L107.3,317.8M129.8,361.2L121.4,348.2M121.4,348.2L107.5,326.9M129.8,361.2L124.6,350.3M124.6,350.3L105.6,310.7M129.8,361.2L124.6,345.8M124.6,345.8L114.0,313.9M129.8,361.2L125.7,345.3M125.7,345.3L118.1,315.9M129.8,361.2L115.3,341.7M115.3,341.7L95.6,315.0M129.8,361.2L120.7,344.4M120.7,344.4L109.7,324.3M129.8,361.2L122.4,334.0M122.4,334.0L116.4,311.6M129.8,361.2L128.8,357.9M128.8,357.9L116.9,321.1M129.8,361.2L121.3,335.8M121.3,335.8L114.0,313.7M129.8,361.2L126.8,349.0M126.8,349.0L116.8,308.4M129.8,361.2L125.7,354.6M125.7,354.6L103.8,319.5M129.8,361.2L127.9,356.5M127.9,356.5L109.4,310.2M129.8,361.2L124.5,350.8M124.5,350.8L104.7,311.6M129.8,361.2L128.7,356.7M128.7,356.7L119.8,319.6M129.8,361.2L114.7,343.4M114.7,343.4L101.2,327.6M129.8,361.2L127.0,354.7M127.0,354.7L108.1,311.1M129.8,361.2L129.6,360.5M129.6,360.5L120.7,320.2M129.8,361.2L125.7,355.1M125.7,355.1L101.7,319.8M129.8,361.2L122.7,340.7M122.7,340.7L113.0,313.2M129.8,361.2L114.7,339.9M114.7,339.9L101.7,321.5M129.8,361.2L128.6,358.0M128.6,358.0L109.9,309.4M129.8,361.2L125.9,351.7M125.9,351.7L110.8,314.3M129.8,361.2L118.7,338.9M118.7,338.9L108.9,319.2M129.8,361.2L126.0,355.4M126.0,355.4L103.9,321.3M129.8,361.2L128.4,358.2M128.4,358.2L111.4,320.8M129.8,361.2L129.7,361.0M129.7,361.0L109.9,321.0M129.8,361.2L125.3,348.0M125.3,348.0L113.7,313.7M129.8,361.2L129.3,360.0M129.3,360.0L113.2,321.1M129.8,361.2L124.6,350.5M124.6,350.5L105.3,310.6M129.8,361.2L125.2,353.1M125.2,353.1L102.0,311.9" stroke="#2f7d3b" stroke-width="1.05" fill="none" stroke-linecap="round"/>
<path d="M128.0,370.0L120.0,359.6M120.0,359.6L106.5,343.0M106.5,343.0L93.4,326.9M120.0,359.6L108.5,346.6M108.5,346.6L90.7,326.4M120.0,359.6L111.9,340.1M111.9,340.1L105.1,323.7M120.0,359.6L102.6,340.8M102.6,340.8L86.0,322.9M120.0,359.6L105.7,347.4M105.7,347.4L84.6,329.5M120.0,359.6L105.9,340.7M105.9,340.7L92.3,322.4M120.0,359.6L106.1,345.0M106.1,345.0L89.6,327.7M120.0,359.6L110.4,350.9M110.4,350.9L84.8,327.5M120.0,359.6L112.8,349.6M112.8,349.6L91.2,319.7M120.0,359.6L112.6,353.1M112.6,353.1L80.8,325.3M120.0,359.6L115.8,356.0M115.8,356.0L90.8,335.1M120.0,359.6L108.4,347.9M108.4,347.9L91.4,330.9M120.0,359.6L110.2,350.0M110.2,350.0L91.6,331.7M120.0,359.6L116.2,355.2M116.2,355.2L92.0,327.4M120.0,359.6L113.3,353.0M113.3,353.0L92.1,332.3M120.0,359.6L118.3,356.2M118.3,356.2L96.9,314.6M120.0,359.6L109.8,351.5M109.8,351.5L86.9,333.5M120.0,359.6L101.6,344.1M101.6,344.1L79.5,325.4M120.0,359.6L119.5,358.9M119.5,358.9L96.3,329.0M120.0,359.6L108.4,343.2M108.4,343.2L90.7,318.2M120.0,359.6L117.1,355.3M117.1,355.3L95.9,324.1M120.0,359.6L119.2,358.0M119.2,358.0L97.3,313.1M120.0,359.6L119.0,358.0M119.0,358.0L92.2,316.6M120.0,359.6L107.0,343.4M107.0,343.4L93.5,326.7M120.0,359.6L110.3,344.1M110.3,344.1L92.7,315.8M120.0,359.6L109.8,341.0M109.8,341.0L95.4,314.7M120.0,359.6L120.0,359.6M120.0,359.6L86.5,325.1M120.0,359.6L108.9,340.4M108.9,340.4L97.7,320.8M120.0,359.6L116.3,354.9M116.3,354.9L88.9,320.4M120.0,359.6L116.9,356.6M116.9,356.6L92.8,333.1M120.0,359.6L118.4,358.2M118.4,358.2L83.9,328.2M120.0,359.6L110.2,347.9M110.2,347.9L92.6,326.8M120.0,359.6L110.1,350.1M110.1,350.1L83.4,324.3M120.0,359.6L112.3,347.4M112.3,347.4L95.7,321.0M120.0,359.6L116.6,352.9M116.6,352.9L96.9,314.0M120.0,359.6L106.6,342.4M106.6,342.4L93.0,324.8M120.0,359.6L114.3,351.7M114.3,351.7L95.4,325.5M120.0,359.6L117.0,353.9M117.0,353.9L101.2,324.4M120.0,359.6L112.8,353.1M112.8,353.1L83.3,326.7M120.0,359.6L112.3,344.5M112.3,344.5L97.6,315.8M120.0,359.6L118.7,357.6M118.7,357.6L99.7,328.0M120.0,359.6L118.6,357.3M118.6,357.3L96.1,318.4M120.0,359.6L113.1,349.1M113.1,349.1L98.5,326.7M120.0,359.6L113.5,354.7M113.5,354.7L89.1,336.4M120.0,359.6L116.8,354.7M116.8,354.7L97.4,325.1M120.0,359.6L118.4,357.7M118.4,357.7L89.5,323.4M120.0,359.6L112.5,353.6M112.5,353.6L86.9,333.1M120.0,359.6L115.9,352.0M115.9,352.0L95.3,313.6M120.0,359.6L107.5,348.6M107.5,348.6L91.2,334.3M120.0,359.6L118.9,357.3M118.9,357.3L100.1,318.8M120.0,359.6L119.5,359.0M119.5,359.0L88.6,322.0M120.0,359.6L118.3,357.3M118.3,357.3L92.0,320.7M120.0,359.6L108.1,343.9M108.1,343.9L97.2,329.5M120.0,359.6L106.6,342.8M106.6,342.8L88.4,319.8" stroke="#2f7d3b" stroke-width="1.05" fill="none" stroke-linecap="round"/>
<path d="M118.0,366.0L111.1,360.6M111.1,360.6L109.3,359.8M109.3,359.8L72.3,342.6M111.1,360.6L105.0,352.1M105.0,352.1L85.9,325.3M111.1,360.6L91.7,349.4M91.7,349.4L74.9,339.6M111.1,360.6L100.4,352.9M100.4,352.9L73.3,333.4M111.1,360.6L101.3,348.3M101.3,348.3L83.0,325.2M111.1,360.6L98.3,344.6M98.3,344.6L82.3,324.7M111.1,360.6L110.0,359.7M110.0,359.7L74.1,330.7M111.1,360.6L104.6,352.1M104.6,352.1L84.3,325.6M111.1,360.6L104.0,351.4M104.0,351.4L85.2,327.0M111.1,360.6L106.3,357.9M106.3,357.9L77.4,341.1M111.1,360.6L100.9,352.9M100.9,352.9L80.4,337.5M111.1,360.6L94.9,352.4M94.9,352.4L68.7,339.1M111.1,360.6L92.3,341.8M92.3,341.8L76.8,326.4M111.1,360.6L109.0,359.5M109.0,359.5L68.3,338.8M111.1,360.6L95.7,349.4M95.7,349.4L78.4,336.8M111.1,360.6L109.0,359.6M109.0,359.6L75.0,343.1M111.1,360.6L104.3,354.7M104.3,354.7L76.2,330.7M111.1,360.6L108.6,359.6M108.6,359.6L73.5,345.5M111.1,360.6L101.0,349.9M101.0,349.9L80.0,327.8M111.1,360.6L96.1,346.7M96.1,346.7L79.9,331.7M111.1,360.6L105.7,353.9M105.7,353.9L81.8,324.3M111.1,360.6L103.8,352.1M103.8,352.1L79.4,323.7M111.1,360.6L109.1,359.2M109.1,359.2L82.1,340.7M111.1,360.6L100.0,349.9M100.0,349.9L83.3,333.9M111.1,360.6L105.0,358.5M105.0,358.5L75.3,348.6M111.1,360.6L105.1,353.3M105.1,353.3L85.2,329.1M111.1,360.6L106.3,354.8M106.3,354.8L85.2,329.5M111.1,360.6L99.5,348.6M99.5,348.6L81.5,330.0M111.1,360.6L108.6,358.4M108.6,358.4L83.1,335.0M111.1,360.6L94.1,347.3M94.1,347.3L71.9,330.1M111.1,360.6L110.5,359.9M110.5,359.9L86.0,332.3M111.1,360.6L108.9,358.8M108.9,358.8L78.2,333.7M111.1,360.6L96.0,353.2M96.0,353.2L78.8,344.8M111.1,360.6L99.1,354.2M99.1,354.2L77.7,342.8M111.1,360.6L106.9,357.8M106.9,357.8L77.8,338.2M111.1,360.6L95.8,351.2M95.8,351.2L68.6,334.6M111.1,360.6L103.0,353.6M103.0,353.6L82.0,335.2M111.1,360.6L96.3,349.9M96.3,349.9L74.6,334.1M111.1,360.6L96.9,351.2M96.9,351.2L77.0,338.0M111.1,360.6L110.0,359.8M110.0,359.8L79.2,337.4M111.1,360.6L108.4,359.1M108.4,359.1L78.1,342.5M111.1,360.6L91.8,351.5M91.8,351.5L65.3,338.9M111.1,360.6L101.5,356.1M101.5,356.1L71.3,342.0M111.1,360.6L102.8,351.3M102.8,351.3L82.3,328.4M111.1,360.6L95.4,354.7M95.4,354.7L73.9,346.7M111.1,360.6L101.8,352.0M101.8,352.0L83.7,335.2M111.1,360.6L102.4,351.4M102.4,351.4L85.3,333.5M111.1,360.6L91.4,353.5M91.4,353.5L74.9,347.6M111.1,360.6L103.1,356.1M103.1,356.1L68.1,336.5M111.1,360.6L109.1,359.7M109.1,359.7L70.1,341.3M111.1,360.6L100.9,354.7M100.9,354.7L67.7,335.6M111.1,360.6L103.9,356.3M103.9,356.3L77.4,340.7M111.1,360.6L94.8,353.1M94.8,353.1L78.0,345.4M111.1,360.6L103.7,353.4M103.7,353.4L77.5,328.2M111.1,360.6L110.6,360.2M110.6,360.2L76.0,334.7M111.1,360.6L99.4,352.0M99.4,352.0L80.3,337.9M111.1,360.6L100.4,347.4M100.4,347.4L85.6,329.1M111.1,360.6L101.2,347.7M101.2,347.7L88.5,331.1M111.1,360.6L99.3,352.3M99.3,352.3L78.4,337.7M111.1,360.6L105.1,352.9M105.1,352.9L86.3,329.0" stroke="#2f7d3b" stroke-width="1.05" fill="none" stroke-linecap="round"/>
<path d="M105.0,362.0L98.2,359.9M98.2,359.9L93.3,359.1M93.3,359.1L62.3,353.9M98.2,359.9L95.2,358.6M95.2,358.6L69.7,348.0M98.2,359.9L92.5,358.0M92.5,358.0L69.8,350.5M98.2,359.9L91.6,359.2M91.6,359.2L65.0,356.4M98.2,359.9L98.1,359.9M98.1,359.9L61.6,354.5M98.2,359.9L96.2,359.6M96.2,359.6L63.2,354.9M98.2,359.9L80.2,358.6M80.2,358.6L64.0,357.5M98.2,359.9L81.5,351.8M81.5,351.8L65.3,344.1M98.2,359.9L98.1,359.9M98.1,359.9L59.7,355.0M98.2,359.9L84.3,358.6M84.3,358.6L64.8,356.9M98.2,359.9L91.0,357.7M91.0,357.7L69.1,351.2M98.2,359.9L89.6,355.1M89.6,355.1L69.0,343.8M98.2,359.9L89.8,358.6M89.8,358.6L63.3,354.6M98.2,359.9L92.7,357.3M92.7,357.3L64.2,343.9M98.2,359.9L87.6,355.0M87.6,355.0L62.3,343.4M98.2,359.9L87.8,358.2M87.8,358.2L66.3,354.7M98.2,359.9L91.1,359.2M91.1,359.2L66.5,356.8M98.2,359.9L85.7,357.3M85.7,357.3L69.0,353.8M98.2,359.9L96.1,359.5M96.1,359.5L66.9,353.3M98.2,359.9L85.1,355.7M85.1,355.7L61.0,348.0M98.2,359.9L97.6,359.5M97.6,359.5L69.3,343.9M98.2,359.9L90.3,357.4M90.3,357.4L65.5,349.5M98.2,359.9L89.2,358.5M89.2,358.5L61.5,354.3M98.2,359.9L93.9,359.5M93.9,359.5L65.7,357.0M98.2,359.9L91.9,358.5M91.9,358.5L60.0,351.5M98.2,359.9L96.5,359.0M96.5,359.0L65.4,342.5M98.2,359.9L96.9,359.6M96.9,359.6L70.1,353.7M98.2,359.9L84.5,356.6M84.5,356.6L61.6,351.2M98.2,359.9L80.6,354.7M80.6,354.7L60.9,348.9M98.2,359.9L90.5,358.2M90.5,358.2L67.1,353.1M98.2,359.9L93.8,357.7M93.8,357.7L62.4,342.5M98.2,359.9L81.9,356.4M81.9,356.4L62.0,352.2M98.2,359.9L88.7,356.9M88.7,356.9L64.0,349.2M98.2,359.9L90.8,356.1M90.8,356.1L68.2,344.8M98.2,359.9L91.5,357.2M91.5,357.2L67.8,347.8M98.2,359.9L89.3,357.4M89.3,357.4L61.2,349.6M98.2,359.9L91.6,356.6M91.6,356.6L65.3,343.3M98.2,359.9L95.3,358.8M95.3,358.8L67.3,348.5M98.2,359.9L97.6,359.7M97.6,359.7L68.2,351.4M98.2,359.9L82.6,358.3M82.6,358.3L66.8,356.7" stroke="#2f7d3b" stroke-width="1.05" fill="none" stroke-linecap="round"/>
<path d="M140.0,378.0L149.2,366.0M149.2,366.0L159.4,348.2M159.4,348.2L178.8,314.3M149.2,366.0L149.7,365.2M149.7,365.2L175.6,325.0M149.2,366.0L155.5,357.6M155.5,357.6L183.6,319.8M149.2,366.0L165.2,347.9M165.2,347.9L183.2,327.5M149.2,366.0L165.5,349.6M165.5,349.6L184.2,330.7M149.2,366.0L153.9,358.1M153.9,358.1L176.1,321.2M149.2,366.0L167.4,344.1M167.4,344.1L186.6,321.0M149.2,366.0L162.8,346.2M162.8,346.2L175.5,327.8M149.2,366.0L167.5,348.3M167.5,348.3L188.1,328.5M149.2,366.0L166.7,349.3M166.7,349.3L191.8,325.4M149.2,366.0L154.6,360.1M154.6,360.1L184.3,327.1M149.2,366.0L163.3,342.6M163.3,342.6L176.7,320.3M149.2,366.0L160.3,350.5M160.3,350.5L181.7,320.6M149.2,366.0L156.5,356.0M156.5,356.0L178.3,326.1M149.2,366.0L164.2,343.5M164.2,343.5L182.5,316.1M149.2,366.0L159.2,354.3M159.2,354.3L185.6,323.3M149.2,366.0L165.3,346.3M165.3,346.3L181.6,326.2M149.2,366.0L156.2,358.5M156.2,358.5L186.7,325.5M149.2,366.0L168.0,343.2M168.0,343.2L185.8,321.6M149.2,366.0L152.9,359.1M152.9,359.1L173.8,320.1M149.2,366.0L153.7,360.2M153.7,360.2L185.9,318.9M149.2,366.0L153.5,362.2M153.5,362.2L184.4,334.8M149.2,366.0L151.6,362.8M151.6,362.8L185.0,318.0M149.2,366.0L152.9,359.6M152.9,359.6L170.6,328.7M149.2,366.0L151.2,363.0M151.2,363.0L181.6,316.1M149.2,366.0L167.4,349.9M167.4,349.9L185.1,334.2M149.2,366.0L153.8,361.4M153.8,361.4L182.3,333.0M149.2,366.0L150.2,364.3M150.2,364.3L178.2,318.2M149.2,366.0L155.7,354.9M155.7,354.9L173.3,324.7M149.2,366.0L161.5,343.1M161.5,343.1L175.5,316.9M149.2,366.0L162.8,352.5M162.8,352.5L183.1,332.4M149.2,366.0L156.9,358.5M156.9,358.5L185.9,330.6M149.2,366.0L149.9,365.1M149.9,365.1L184.0,322.9" stroke="#2f7d3b" stroke-width="1.05" fill="none" stroke-linecap="round"/>
<path d="M153.5,429 C153,440 158,447 175,451 C195,455 210,455 222,456" stroke="#27509a" stroke-width="1.3" fill="none"/>
<path d="M153.5,429.0L115.2,423.8M115.2,423.8L113.2,423.5M113.2,423.5L84.8,420.1M115.2,423.8L108.3,423.0M108.3,423.0L81.1,420.0" stroke="#27509a" stroke-width="1.05" fill="none" stroke-linecap="round"/>
<path d="M153.5,429.0L127.0,432.6M127.0,432.6L102.3,433.5M102.3,433.5L73.3,434.5M127.0,432.6L117.9,433.3M117.9,433.3L75.6,436.7M127.0,432.6L107.5,435.7M107.5,435.7L71.1,441.4M127.0,432.6L119.2,433.0M119.2,433.0L79.1,434.9M127.0,432.6L107.3,436.6M107.3,436.6L65.7,445.0M127.0,432.6L116.7,434.5M116.7,434.5L65.5,444.1M127.0,432.6L105.9,436.6M105.9,436.6L69.2,443.6M127.0,432.6L104.1,435.3M104.1,435.3L70.1,439.3M127.0,432.6L124.0,433.2M124.0,433.2L82.6,442.1M127.0,432.6L107.2,434.8M107.2,434.8L78.0,438.2M127.0,432.6L111.1,434.8M111.1,434.8L81.2,439.0M127.0,432.6L120.7,433.2M120.7,433.2L66.2,438.6M127.0,432.6L124.2,433.0M124.2,433.0L75.2,440.0M127.0,432.6L112.3,433.8M112.3,433.8L71.1,437.3M127.0,432.6L119.2,433.6M119.2,433.6L80.6,438.6M127.0,432.6L108.6,434.8M108.6,434.8L76.2,438.8M127.0,432.6L112.3,435.1M112.3,435.1L70.5,442.5M127.0,432.6L123.3,433.0M123.3,433.0L76.8,438.2M127.0,432.6L121.4,433.4M121.4,433.4L75.5,440.2M127.0,432.6L126.4,432.7M126.4,432.7L82.9,443.2M127.0,432.6L126.0,432.7M126.0,432.7L70.5,440.3M127.0,432.6L114.1,434.9M114.1,434.9L68.4,443.2M127.0,432.6L115.1,433.3M115.1,433.3L65.8,436.1M127.0,432.6L126.4,432.7M126.4,432.7L76.3,437.2M127.0,432.6L99.2,437.9M99.2,437.9L70.6,443.4M127.0,432.6L111.9,434.8M111.9,434.8L69.9,441.0M127.0,432.6L105.2,435.6M105.2,435.6L67.8,440.8M127.0,432.6L111.2,434.0M111.2,434.0L73.5,437.3M127.0,432.6L111.9,433.6M111.9,433.6L82.4,435.5M127.0,432.6L108.1,437.1M108.1,437.1L75.1,445.0M127.0,432.6L117.0,434.3M117.0,434.3L78.0,441.2M127.0,432.6L108.3,434.6M108.3,434.6L76.2,438.1M127.0,432.6L107.7,433.3M107.7,433.3L77.5,434.3M127.0,432.6L107.4,434.4M107.4,434.4L69.0,438.1M127.0,432.6L101.6,435.4M101.6,435.4L65.9,439.5M127.0,432.6L111.9,435.6M111.9,435.6L74.6,442.9M127.0,432.6L114.6,433.6M114.6,433.6L78.9,436.5M127.0,432.6L110.0,433.3M110.0,433.3L72.5,434.8M127.0,432.6L104.7,433.4M104.7,433.4L70.3,434.5M127.0,432.6L100.8,433.9M100.8,433.9L65.9,435.5" stroke="#27509a" stroke-width="1.05" fill="none" stroke-linecap="round"/>
<path d="M153.5,429.0L129.1,435.9M129.1,435.9L108.0,440.9M108.0,440.9L80.7,447.4M129.1,435.9L114.1,438.7M114.1,438.7L73.2,446.5M129.1,435.9L105.1,441.8M105.1,441.8L83.5,447.1M129.1,435.9L127.5,436.2M127.5,436.2L85.0,444.0M129.1,435.9L107.6,442.5M107.6,442.5L87.9,448.6M129.1,435.9L106.9,440.6M106.9,440.6L76.8,447.0M129.1,435.9L113.0,440.3M113.0,440.3L83.3,448.4M129.1,435.9L104.4,440.1M104.4,440.1L82.9,443.7M129.1,435.9L111.5,440.9M111.5,440.9L80.5,449.7M129.1,435.9L99.3,443.8M99.3,443.8L72.6,450.9M129.1,435.9L127.9,436.3M127.9,436.3L81.2,452.0M129.1,435.9L122.9,438.3M122.9,438.3L89.1,451.6M129.1,435.9L123.4,437.9M123.4,437.9L86.7,450.8M129.1,435.9L105.4,441.4M105.4,441.4L81.1,447.0M129.1,435.9L121.7,438.0M121.7,438.0L77.7,450.7M129.1,435.9L125.3,437.1M125.3,437.1L72.5,453.8M129.1,435.9L107.8,444.0M107.8,444.0L78.7,455.1M129.1,435.9L121.8,437.1M121.8,437.1L76.4,444.4M129.1,435.9L117.1,440.1M117.1,440.1L83.5,451.7M129.1,435.9L122.1,438.7M122.1,438.7L82.4,454.6M129.1,435.9L126.6,436.9M126.6,436.9L86.8,452.9M129.1,435.9L116.0,439.8M116.0,439.8L85.3,449.1M129.1,435.9L101.5,440.9M101.5,440.9L76.0,445.5M129.1,435.9L119.7,440.1M119.7,440.1L89.0,453.7M129.1,435.9L101.5,447.6M101.5,447.6L78.3,457.3M129.1,435.9L108.9,440.2M108.9,440.2L83.8,445.6M129.1,435.9L116.3,441.3M116.3,441.3L79.1,457.1M129.1,435.9L125.5,436.4M125.5,436.4L86.0,442.2M129.1,435.9L120.8,437.1M120.8,437.1L79.7,442.9M129.1,435.9L115.3,441.5M115.3,441.5L80.9,455.5M129.1,435.9L102.2,443.8M102.2,443.8L77.5,451.1M129.1,435.9L106.9,442.3M106.9,442.3L77.4,450.8M129.1,435.9L126.3,436.9M126.3,436.9L80.2,453.4M129.1,435.9L115.7,440.9M115.7,440.9L90.0,450.7M129.1,435.9L112.2,440.5M112.2,440.5L83.4,448.4M129.1,435.9L124.9,437.0M124.9,437.0L78.2,449.9M129.1,435.9L117.2,440.8M117.2,440.8L75.8,457.7" stroke="#27509a" stroke-width="1.05" fill="none" stroke-linecap="round"/>
<path d="M153.0,432.0L141.0,444.5M141.0,444.5L137.5,451.8M137.5,451.8L122.0,483.8M141.0,444.5L133.6,455.1M133.6,455.1L113.7,483.6M141.0,444.5L135.4,453.4M135.4,453.4L120.0,478.0M141.0,444.5L128.0,466.4M128.0,466.4L114.5,489.3M141.0,444.5L127.5,457.3M127.5,457.3L106.6,477.2M141.0,444.5L132.1,463.1M132.1,463.1L123.6,480.7M141.0,444.5L131.9,452.4M131.9,452.4L102.3,478.3M141.0,444.5L136.8,447.3M136.8,447.3L104.7,468.9M141.0,444.5L132.4,456.5M132.4,456.5L111.0,486.4M141.0,444.5L128.8,463.5M128.8,463.5L116.2,483.1M141.0,444.5L124.3,455.0M124.3,455.0L102.3,468.8M141.0,444.5L132.2,460.6M132.2,460.6L122.5,478.3M141.0,444.5L136.7,449.1M136.7,449.1L114.9,472.4M141.0,444.5L119.6,457.0M119.6,457.0L98.9,469.2M141.0,444.5L128.0,452.7M128.0,452.7L108.4,465.0M141.0,444.5L132.2,459.8M132.2,459.8L116.5,487.0M141.0,444.5L140.2,445.0M140.2,445.0L104.2,466.5M141.0,444.5L138.2,447.9M138.2,447.9L111.8,481.0M141.0,444.5L135.9,452.1M135.9,452.1L116.0,481.4M141.0,444.5L127.0,463.9M127.0,463.9L114.1,481.8M141.0,444.5L125.7,458.4M125.7,458.4L111.2,471.7M141.0,444.5L140.1,446.4M140.1,446.4L123.8,481.1M141.0,444.5L131.9,459.0M131.9,459.0L119.0,479.5M141.0,444.5L127.8,456.4M127.8,456.4L107.9,474.4M141.0,444.5L137.1,448.9M137.1,448.9L108.5,481.2M141.0,444.5L126.4,467.8M126.4,467.8L113.1,489.0M141.0,444.5L131.7,450.2M131.7,450.2L99.8,469.5M141.0,444.5L134.7,453.4M134.7,453.4L117.8,477.4M141.0,444.5L130.8,461.8M130.8,461.8L121.1,478.4M141.0,444.5L138.3,449.5M138.3,449.5L119.0,485.5M141.0,444.5L135.3,449.5M135.3,449.5L106.1,475.3M141.0,444.5L133.9,454.0M133.9,454.0L115.5,478.9M141.0,444.5L133.6,452.3M133.6,452.3L112.6,474.6M141.0,444.5L123.5,455.0M123.5,455.0L100.8,468.5M141.0,444.5L128.7,451.7M128.7,451.7L103.1,466.8M141.0,444.5L137.4,447.0M137.4,447.0L106.9,468.5M141.0,444.5L140.6,444.9M140.6,444.9L108.4,481.8M141.0,444.5L135.9,448.7M135.9,448.7L104.8,474.7M141.0,444.5L131.3,461.6M131.3,461.6L114.7,490.8M141.0,444.5L130.4,457.6M130.4,457.6L112.5,479.8M141.0,444.5L136.6,447.1M136.6,447.1L104.5,466.3M141.0,444.5L127.0,452.8M127.0,452.8L97.2,470.6M141.0,444.5L123.5,459.9M123.5,459.9L105.2,476.0M141.0,444.5L138.7,446.6M138.7,446.6L110.5,471.9M141.0,444.5L127.6,454.0M127.6,454.0L101.5,472.4M141.0,444.5L135.6,448.8M135.6,448.8L103.8,473.8M141.0,444.5L133.0,455.3M133.0,455.3L118.9,474.2M141.0,444.5L130.4,455.9M130.4,455.9L111.6,476.2M141.0,444.5L139.2,447.0M139.2,447.0L110.6,485.7M141.0,444.5L124.2,460.2M124.2,460.2L109.8,473.7M141.0,444.5L125.2,458.4M125.2,458.4L111.8,470.1M141.0,444.5L132.9,453.0M132.9,453.0L109.6,477.3M141.0,444.5L133.0,454.4M133.0,454.4L115.8,475.9M141.0,444.5L135.7,454.3M135.7,454.3L122.8,478.5M141.0,444.5L129.7,453.1M129.7,453.1L106.0,471.1M141.0,444.5L138.4,447.0M138.4,447.0L104.7,479.3M141.0,444.5L138.4,446.6M138.4,446.6L104.2,473.7M141.0,444.5L126.6,454.2M126.6,454.2L106.8,467.6M141.0,444.5L127.5,460.4M127.5,460.4L108.7,482.7M141.0,444.5L132.1,458.1M132.1,458.1L117.9,479.9M141.0,444.5L130.8,458.1M130.8,458.1L109.5,486.3M141.0,444.5L121.8,458.2M121.8,458.2L105.6,469.8M141.0,444.5L135.6,452.8M135.6,452.8L118.3,479.0M141.0,444.5L136.6,448.6M136.6,448.6L106.7,477.1M141.0,444.5L125.8,459.4M125.8,459.4L110.6,474.2M141.0,444.5L129.3,455.2M129.3,455.2L108.3,474.4M141.0,444.5L136.0,449.0M136.0,449.0L106.9,475.0" stroke="#27509a" stroke-width="1.05" fill="none" stroke-linecap="round"/>
<path d="M153.5,436.0L148.1,450.0M148.1,450.0L147.8,450.7M147.8,450.7L130.0,485.6M148.1,450.0L145.4,465.2M145.4,465.2L140.8,490.2M148.1,450.0L140.4,465.5M140.4,465.5L131.0,484.5M148.1,450.0L143.7,466.1M143.7,466.1L137.4,489.0M148.1,450.0L139.4,467.2M139.4,467.2L130.2,485.2M148.1,450.0L146.5,468.5M146.5,468.5L144.8,489.1M148.1,450.0L137.8,466.2M137.8,466.2L124.8,486.4M148.1,450.0L145.9,455.4M145.9,455.4L135.8,479.9M148.1,450.0L139.1,467.7M139.1,467.7L131.6,482.6M148.1,450.0L147.4,452.6M147.4,452.6L137.3,488.4M148.1,450.0L138.9,468.5M138.9,468.5L128.4,489.6M148.1,450.0L144.2,472.2M144.2,472.2L140.5,492.5M148.1,450.0L145.8,456.2M145.8,456.2L135.7,482.5M148.1,450.0L143.4,471.3M143.4,471.3L139.3,489.5M148.1,450.0L145.6,466.1M145.6,466.1L143.0,483.1M148.1,450.0L140.6,464.9M140.6,464.9L129.4,487.2M148.1,450.0L145.5,453.8M145.5,453.8L126.2,481.2M148.1,450.0L143.6,459.4M143.6,459.4L134.3,479.0M148.1,450.0L145.5,464.7M145.5,464.7L140.5,492.3M148.1,450.0L146.8,459.4M146.8,459.4L141.7,495.7M148.1,450.0L147.8,451.5M147.8,451.5L139.6,487.8M148.1,450.0L145.7,455.8M145.7,455.8L134.0,483.0M148.1,450.0L141.5,465.1M141.5,465.1L132.8,484.7M148.1,450.0L143.6,460.3M143.6,460.3L133.4,483.3M148.1,450.0L146.7,452.4M146.7,452.4L125.5,488.1M148.1,450.0L148.0,450.1M148.0,450.1L128.2,478.5M148.1,450.0L137.9,464.6M137.9,464.6L126.5,481.1M148.1,450.0L147.0,452.2M147.0,452.2L129.5,485.6M148.1,450.0L143.4,458.0M143.4,458.0L129.8,480.9M148.1,450.0L143.3,470.2M143.3,470.2L138.7,489.3M148.1,450.0L140.4,471.5M140.4,471.5L133.8,489.7M148.1,450.0L145.4,453.9M145.4,453.9L122.6,485.8M148.1,450.0L143.1,459.2M143.1,459.2L128.9,485.2M148.1,450.0L142.0,462.1M142.0,462.1L129.4,487.0M148.1,450.0L145.5,462.5M145.5,462.5L139.4,491.7M148.1,450.0L147.3,452.5M147.3,452.5L137.9,481.3M148.1,450.0L143.6,456.7M143.6,456.7L124.3,485.3M148.1,450.0L144.8,472.3M144.8,472.3L142.0,491.3M148.1,450.0L143.2,467.5M143.2,467.5L139.0,482.6M148.1,450.0L143.5,459.0M143.5,459.0L128.7,488.1M148.1,450.0L146.7,457.7M146.7,457.7L140.4,491.6M148.1,450.0L146.5,460.4M146.5,460.4L142.5,486.2M148.1,450.0L147.3,453.2M147.3,453.2L137.7,490.5M148.1,450.0L147.9,451.6M147.9,451.6L142.4,489.7M148.1,450.0L141.6,466.4M141.6,466.4L132.8,488.6M148.1,450.0L144.5,467.2M144.5,467.2L141.1,483.1M148.1,450.0L135.7,468.2M135.7,468.2L123.9,485.6M148.1,450.0L145.3,457.9M145.3,457.9L136.9,481.1M148.1,450.0L141.6,466.0M141.6,466.0L132.4,488.4M148.1,450.0L144.6,462.4M144.6,462.4L139.1,482.0M148.1,450.0L146.0,456.2M146.0,456.2L133.7,492.2M148.1,450.0L144.1,462.2M144.1,462.2L135.6,488.0M148.1,450.0L146.5,469.7M146.5,469.7L144.9,490.2M148.1,450.0L139.6,461.2M139.6,461.2L125.6,479.6" stroke="#27509a" stroke-width="1.05" fill="none" stroke-linecap="round"/>
<path d="M154.0,440.0L155.0,459.0M155.0,459.0L155.3,476.4M155.3,476.4L155.7,499.0M155.0,459.0L156.6,484.1M156.6,484.1L158.1,507.5M155.0,459.0L155.3,466.9M155.3,466.9L156.7,505.8M155.0,459.0L155.2,484.3M155.2,484.3L155.3,507.8M155.0,459.0L152.5,480.1M152.5,480.1L150.2,499.3M155.0,459.0L156.7,469.3M156.7,469.3L164.2,514.4M155.0,459.0L154.7,465.7M154.7,465.7L153.0,506.7M155.0,459.0L155.6,462.7M155.6,462.7L163.3,511.4M155.0,459.0L155.8,463.7M155.8,463.7L162.2,503.0M155.0,459.0L155.5,462.3M155.5,462.3L162.0,505.2M155.0,459.0L153.9,481.3M153.9,481.3L152.8,505.1M155.0,459.0L154.9,465.6M154.9,465.6L154.2,503.7M155.0,459.0L155.8,469.9M155.8,469.9L158.7,509.4M155.0,459.0L153.6,480.9M153.6,480.9L151.9,508.8M155.0,459.0L155.1,465.4M155.1,465.4L156.1,514.7M155.0,459.0L155.2,464.6M155.2,464.6L156.2,502.6M155.0,459.0L156.5,471.7M156.5,471.7L161.1,509.4M155.0,459.0L156.1,472.8M156.1,472.8L158.3,500.1M155.0,459.0L156.6,473.2M156.6,473.2L160.7,510.0M155.0,459.0L155.3,460.8M155.3,460.8L162.3,509.1M155.0,459.0L155.0,479.9M155.0,479.9L155.1,501.3M155.0,459.0L155.4,474.6M155.4,474.6L156.3,509.5M155.0,459.0L155.6,475.1M155.6,475.1L157.1,513.0M155.0,459.0L155.7,472.1M155.7,472.1L157.9,512.6M155.0,459.0L154.6,467.4M154.6,467.4L152.8,505.3M155.0,459.0L156.8,473.0M156.8,473.0L161.0,505.0M155.0,459.0L156.2,469.9M156.2,469.9L160.4,507.8M155.0,459.0L155.1,467.6M155.1,467.6L155.5,501.1M155.0,459.0L155.7,476.4M155.7,476.4L157.0,506.4M155.0,459.0L158.2,485.7M158.2,485.7L161.3,511.6M155.0,459.0L156.0,465.5M156.0,465.5L162.3,504.1M155.0,459.0L155.4,465.5M155.4,465.5L157.7,508.3" stroke="#27509a" stroke-width="1.05" fill="none" stroke-linecap="round"/>
<path d="M158.0,445.0L163.0,463.2M163.0,463.2L163.3,464.0M163.3,464.0L178.7,500.9M163.0,463.2L166.5,471.6M166.5,471.6L180.2,504.4M163.0,463.2L171.8,485.2M171.8,485.2L179.2,504.0M163.0,463.2L166.6,472.4M166.6,472.4L179.3,505.2M163.0,463.2L165.3,486.4M165.3,486.4L167.6,510.3M163.0,463.2L165.9,476.2M165.9,476.2L174.9,516.5M163.0,463.2L163.5,465.8M163.5,465.8L174.1,516.4M163.0,463.2L164.2,478.2M164.2,478.2L166.3,504.9M163.0,463.2L173.1,485.8M173.1,485.8L181.6,504.6M163.0,463.2L164.8,473.9M164.8,473.9L170.4,507.4M163.0,463.2L165.4,474.3M165.4,474.3L171.8,503.3M163.0,463.2L174.0,489.7M174.0,489.7L183.9,513.8M163.0,463.2L163.6,466.5M163.6,466.5L170.6,503.5M163.0,463.2L167.2,473.1M167.2,473.1L181.0,505.1M163.0,463.2L169.1,484.6M169.1,484.6L177.5,514.0M163.0,463.2L164.7,473.7M164.7,473.7L170.4,507.3M163.0,463.2L166.4,475.6M166.4,475.6L176.4,511.5M163.0,463.2L171.2,487.8M171.2,487.8L178.6,509.6M163.0,463.2L166.6,483.1M166.6,483.1L172.7,517.1M163.0,463.2L167.2,487.9M167.2,487.9L171.5,513.7M163.0,463.2L165.7,482.3M165.7,482.3L170.9,518.7M163.0,463.2L167.4,477.3M167.4,477.3L177.7,509.8M163.0,463.2L166.2,485.7M166.2,485.7L169.6,509.2M163.0,463.2L166.3,472.0M166.3,472.0L178.3,503.8M163.0,463.2L168.2,476.0M168.2,476.0L179.3,503.5M163.0,463.2L167.1,473.8M167.1,473.8L178.2,502.2M163.0,463.2L164.4,470.3M164.4,470.3L170.9,502.6M163.0,463.2L164.9,470.5M164.9,470.5L174.9,509.2M163.0,463.2L166.9,478.2M166.9,478.2L173.1,502.3M163.0,463.2L168.3,477.6M168.3,477.6L178.5,505.8M163.0,463.2L165.9,472.2M165.9,472.2L177.0,506.4M163.0,463.2L167.0,485.7M167.0,485.7L171.9,512.8M163.0,463.2L166.1,472.5M166.1,472.5L180.4,514.3M163.0,463.2L172.2,484.5M172.2,484.5L179.8,502.0M163.0,463.2L170.4,487.7M170.4,487.7L178.2,513.7" stroke="#27509a" stroke-width="1.05" fill="none" stroke-linecap="round"/>
<path d="M168.0,449.0L177.5,465.5M177.5,465.5L180.9,473.8M180.9,473.8L197.6,515.0M177.5,465.5L180.7,471.0M180.7,471.0L204.9,513.0M177.5,465.5L179.8,469.2M179.8,469.2L206.8,512.2M177.5,465.5L189.6,488.7M189.6,488.7L201.6,511.6M177.5,465.5L179.7,472.2M179.7,472.2L192.0,509.8M177.5,465.5L187.5,488.1M187.5,488.1L198.5,512.6M177.5,465.5L187.4,481.4M187.4,481.4L201.4,503.9M177.5,465.5L181.0,473.1M181.0,473.1L195.9,505.9M177.5,465.5L194.1,486.8M194.1,486.8L209.1,505.9M177.5,465.5L183.3,472.4M183.3,472.4L211.9,506.0M177.5,465.5L179.6,468.9M179.6,468.9L199.6,501.5M177.5,465.5L184.1,473.9M184.1,473.9L212.9,510.7M177.5,465.5L184.8,481.5M184.8,481.5L198.1,510.6M177.5,465.5L183.1,475.4M183.1,475.4L202.7,509.8M177.5,465.5L189.0,477.8M189.0,477.8L206.1,496.1M177.5,465.5L192.1,483.7M192.1,483.7L211.4,507.9M177.5,465.5L186.6,481.4M186.6,481.4L199.5,504.0M177.5,465.5L180.6,469.2M180.6,469.2L205.3,499.1M177.5,465.5L190.3,481.1M190.3,481.1L206.1,500.2M177.5,465.5L189.1,482.4M189.1,482.4L206.2,507.2M177.5,465.5L193.0,487.8M193.0,487.8L205.9,506.3M177.5,465.5L190.7,481.0M190.7,481.0L204.5,497.2M177.5,465.5L179.4,471.1M179.4,471.1L195.0,516.5M177.5,465.5L191.8,489.1M191.8,489.1L205.7,511.8M177.5,465.5L182.9,475.7M182.9,475.7L197.5,503.2M177.5,465.5L178.9,467.9M178.9,467.9L197.9,500.8M177.5,465.5L185.9,476.5M185.9,476.5L203.6,499.5M177.5,465.5L183.9,481.5M183.9,481.5L192.5,503.1M177.5,465.5L183.4,477.1M183.4,477.1L197.6,505.0M177.5,465.5L193.1,486.8M193.1,486.8L208.2,507.3M177.5,465.5L187.3,482.9M187.3,482.9L205.3,514.8M177.5,465.5L181.4,477.8M181.4,477.8L191.8,510.8M177.5,465.5L185.6,478.9M185.6,478.9L201.4,505.2M177.5,465.5L187.7,483.0M187.7,483.0L198.5,501.5M177.5,465.5L184.3,482.0M184.3,482.0L194.8,507.1M177.5,465.5L181.9,471.2M181.9,471.2L207.2,504.6M177.5,465.5L180.8,469.6M180.8,469.6L203.1,497.9M177.5,465.5L181.0,474.5M181.0,474.5L193.2,505.9M177.5,465.5L190.1,480.4M190.1,480.4L213.0,507.5M177.5,465.5L184.7,480.8M184.7,480.8L199.2,511.9M177.5,465.5L189.9,481.1M189.9,481.1L206.4,501.8M177.5,465.5L183.4,479.4M183.4,479.4L196.1,509.5M177.5,465.5L185.3,474.5M185.3,474.5L212.6,505.9M177.5,465.5L196.2,488.7M196.2,488.7L213.0,509.5M177.5,465.5L185.2,481.8M185.2,481.8L197.9,508.5" stroke="#27509a" stroke-width="1.05" fill="none" stroke-linecap="round"/>
<path d="M180.0,452.0L194.0,463.0M194.0,463.0L200.6,471.0M200.6,471.0L222.3,497.0M194.0,463.0L210.5,474.2M210.5,474.2L225.4,484.3M194.0,463.0L207.1,469.4M207.1,469.4L231.1,481.0M194.0,463.0L199.4,466.5M199.4,466.5L229.7,486.0M194.0,463.0L204.0,473.4M204.0,473.4L225.1,495.3M194.0,463.0L213.7,471.0M213.7,471.0L231.5,478.3M194.0,463.0L207.6,477.0M207.6,477.0L228.2,498.3M194.0,463.0L201.8,466.8M201.8,466.8L235.1,483.0M194.0,463.0L195.5,464.2M195.5,464.2L232.8,492.6M194.0,463.0L197.9,465.8M197.9,465.8L234.0,492.4M194.0,463.0L194.5,463.3M194.5,463.3L237.1,491.4M194.0,463.0L210.7,483.6M210.7,483.6L227.9,504.8M194.0,463.0L203.8,470.1M203.8,470.1L235.7,493.2M194.0,463.0L206.3,472.7M206.3,472.7L235.2,495.6M194.0,463.0L212.0,470.9M212.0,470.9L239.9,483.3M194.0,463.0L201.7,471.5M201.7,471.5L228.4,501.1M194.0,463.0L196.0,465.5M196.0,465.5L225.1,501.7M194.0,463.0L200.6,466.7M200.6,466.7L229.0,482.4M194.0,463.0L203.4,472.2M203.4,472.2L221.6,490.0M194.0,463.0L201.3,467.0M201.3,467.0L234.7,485.2M194.0,463.0L212.6,477.2M212.6,477.2L228.6,489.5M194.0,463.0L208.6,477.1M208.6,477.1L226.7,494.7M194.0,463.0L208.5,474.5M208.5,474.5L233.5,494.2M194.0,463.0L203.2,468.6M203.2,468.6L236.9,489.4M194.0,463.0L202.3,469.4M202.3,469.4L235.8,495.4M194.0,463.0L199.7,470.5M199.7,470.5L222.4,500.1M194.0,463.0L203.4,470.0M203.4,470.0L227.9,488.2M194.0,463.0L199.5,466.8M199.5,466.8L230.2,488.4M194.0,463.0L207.1,475.6M207.1,475.6L227.8,495.4M194.0,463.0L197.9,465.6M197.9,465.6L230.3,486.7M194.0,463.0L194.3,463.2M194.3,463.2L230.0,490.8M194.0,463.0L211.7,471.9M211.7,471.9L236.0,484.0M194.0,463.0L205.8,476.7M205.8,476.7L220.5,493.8M194.0,463.0L196.7,466.3M196.7,466.3L226.3,503.3M194.0,463.0L197.9,464.9M197.9,464.9L231.6,481.0M194.0,463.0L215.5,477.0M215.5,477.0L237.1,491.0M194.0,463.0L208.2,471.1M208.2,471.1L237.6,487.9M194.0,463.0L206.2,474.7M206.2,474.7L232.4,499.6M194.0,463.0L203.8,471.0M203.8,471.0L228.6,491.1M194.0,463.0L206.8,477.6M206.8,477.6L221.0,493.8M194.0,463.0L205.4,470.6M205.4,470.6L238.1,492.2M194.0,463.0L204.9,467.6M204.9,467.6L235.4,480.3M194.0,463.0L205.1,474.9M205.1,474.9L221.7,492.6M194.0,463.0L207.9,476.4M207.9,476.4L228.8,496.5M194.0,463.0L211.7,479.1M211.7,479.1L231.1,496.6M194.0,463.0L197.9,466.0M197.9,466.0L229.7,490.2M194.0,463.0L206.6,477.2M206.6,477.2L224.9,497.9M194.0,463.0L203.7,474.1M203.7,474.1L224.1,497.6M194.0,463.0L211.4,476.2M211.4,476.2L233.6,492.9M194.0,463.0L194.6,463.7M194.6,463.7L229.0,504.0M194.0,463.0L204.0,470.6M204.0,470.6L235.5,494.6M194.0,463.0L211.7,474.7M211.7,474.7L235.4,490.5M194.0,463.0L197.1,465.7M197.1,465.7L223.1,488.5M194.0,463.0L209.3,473.4M209.3,473.4L230.1,487.5" stroke="#27509a" stroke-width="1.05" fill="none" stroke-linecap="round"/>
<path d="M195.0,454.0L211.8,461.0M211.8,461.0L222.0,464.8M222.0,464.8L259.9,479.2M211.8,461.0L224.3,466.9M224.3,466.9L246.8,477.5M211.8,461.0L219.8,466.6M219.8,466.6L246.1,484.8M211.8,461.0L226.7,467.3M226.7,467.3L249.4,476.9M211.8,461.0L231.2,468.0M231.2,468.0L260.1,478.5M211.8,461.0L218.4,463.0M218.4,463.0L260.0,475.5M211.8,461.0L231.7,472.0M231.7,472.0L250.4,482.3M211.8,461.0L232.2,470.7M232.2,470.7L253.8,481.0M211.8,461.0L236.1,465.8M236.1,465.8L256.6,469.9M211.8,461.0L214.9,462.0M214.9,462.0L261.3,477.2M211.8,461.0L221.7,462.2M221.7,462.2L255.6,466.4M211.8,461.0L212.2,461.3M212.2,461.3L246.3,484.2M211.8,461.0L218.7,463.2M218.7,463.2L259.9,475.8M211.8,461.0L221.3,462.6M221.3,462.6L262.7,469.4M211.8,461.0L234.9,470.0M234.9,470.0L254.5,477.6M211.8,461.0L237.6,466.5M237.6,466.5L263.8,472.0M211.8,461.0L219.2,463.1M219.2,463.1L255.9,473.7M211.8,461.0L221.9,468.6M221.9,468.6L244.1,485.3M211.8,461.0L230.6,464.6M230.6,464.6L260.3,470.2M211.8,461.0L221.7,465.5M221.7,465.5L257.1,481.8M211.8,461.0L233.7,464.7M233.7,464.7L260.2,469.3M211.8,461.0L215.8,462.4M215.8,462.4L256.1,476.4M211.8,461.0L220.6,465.9M220.6,465.9L253.6,484.3M211.8,461.0L213.6,462.1M213.6,462.1L254.9,486.5M211.8,461.0L212.8,461.6M212.8,461.6L249.5,480.7M211.8,461.0L222.5,464.3M222.5,464.3L250.1,472.8M211.8,461.0L219.5,463.9M219.5,463.9L260.9,479.0M211.8,461.0L224.7,467.3M224.7,467.3L247.4,478.3M211.8,461.0L213.3,462.1M213.3,462.1L251.3,490.3M211.8,461.0L213.2,461.5M213.2,461.5L258.0,476.0M211.8,461.0L231.7,463.7M231.7,463.7L252.3,466.5M211.8,461.0L240.1,467.4M240.1,467.4L264.3,472.9M211.8,461.0L217.8,462.4M217.8,462.4L260.7,472.4M211.8,461.0L225.1,464.6M225.1,464.6L264.4,475.0M211.8,461.0L224.3,468.3M224.3,468.3L258.2,488.0M211.8,461.0L232.6,464.7M232.6,464.7L253.7,468.5M211.8,461.0L214.8,463.1M214.8,463.1L250.3,487.4M211.8,461.0L231.8,471.9M231.8,471.9L258.8,486.6M211.8,461.0L217.8,462.7M217.8,462.7L250.5,471.7M211.8,461.0L217.1,464.1M217.1,464.1L252.2,484.5M211.8,461.0L215.5,462.5M215.5,462.5L255.6,479.1M211.8,461.0L227.8,468.2M227.8,468.2L253.5,479.7M211.8,461.0L216.4,462.5M216.4,462.5L254.3,474.4M211.8,461.0L231.8,469.6M231.8,469.6L258.2,481.0M211.8,461.0L213.6,461.5M213.6,461.5L260.6,473.0M211.8,461.0L217.3,462.6M217.3,462.6L255.8,473.9M211.8,461.0L218.7,462.1M218.7,462.1L252.2,467.6M211.8,461.0L233.5,466.5M233.5,466.5L258.7,472.9" stroke="#27509a" stroke-width="1.05" fill="none" stroke-linecap="round"/>
<path d="M210.0,455.0L224.4,459.5M224.4,459.5L231.4,462.8M231.4,462.8L247.9,470.4M224.4,459.5L225.3,459.7M225.3,459.7L253.6,466.2M224.4,459.5L236.7,464.7M236.7,464.7L248.8,469.8M224.4,459.5L235.8,465.2M235.8,465.2L250.1,472.3M224.4,459.5L227.0,460.0M227.0,460.0L253.2,465.5M224.4,459.5L227.0,460.9M227.0,460.9L251.0,474.1M224.4,459.5L227.4,461.2M227.4,461.2L249.8,474.4M224.4,459.5L233.3,464.0M233.3,464.0L250.3,472.6M224.4,459.5L228.8,461.7M228.8,461.7L253.3,474.0M224.4,459.5L236.4,463.6M236.4,463.6L255.7,470.3M224.4,459.5L226.6,460.2M226.6,460.2L256.1,469.1M224.4,459.5L239.1,461.6M239.1,461.6L253.6,463.7M224.4,459.5L231.8,463.2M231.8,463.2L248.2,471.2M224.4,459.5L230.3,462.2M230.3,462.2L253.4,472.9M224.4,459.5L234.5,464.6M234.5,464.6L253.7,474.5M224.4,459.5L234.6,463.0M234.6,463.0L257.2,470.7M224.4,459.5L229.8,462.2M229.8,462.2L247.8,471.1M224.4,459.5L240.1,467.3M240.1,467.3L256.0,475.1" stroke="#27509a" stroke-width="1.05" fill="none" stroke-linecap="round"/>
<path d="M155.0,423.5L238.6,385.4M155.0,423.5L243.7,383.7M155.0,423.5L229.9,390.4M155.0,423.5L235.4,388.6M155.0,423.5L244.8,385.1M155.0,423.5L221.7,395.5M155.0,423.5L220.2,396.6M155.0,423.5L242.5,388.0M155.0,423.5L247.6,386.6M155.0,423.5L222.6,397.0M155.0,423.5L235.3,392.5M155.0,423.5L234.1,393.6M155.0,423.5L226.6,396.9M155.0,423.5L248.0,389.6M155.0,423.5L226.0,398.1M155.0,423.5L246.1,391.5M155.0,423.5L231.7,397.0M155.0,423.5L221.3,401.1M155.0,423.5L254.4,390.5M155.0,423.5L221.7,401.8M155.0,423.5L220.0,402.8M155.0,423.5L217.2,404.1M155.0,423.5L230.4,400.5M155.0,423.5L217.3,404.9M155.0,423.5L222.7,403.7M155.0,423.5L255.0,394.9M155.0,423.5L227.0,403.4M155.0,423.5L246.1,398.6M155.0,423.5L225.6,404.7M155.0,423.5L217.2,407.2M155.0,423.5L216.9,407.7M155.0,423.5L221.5,406.9M155.0,423.5L255.4,399.0M155.0,423.5L235.0,404.4M155.0,423.5L226.4,406.9M155.0,423.5L218.0,409.2M155.0,423.5L242.1,404.2M155.0,423.5L228.8,407.6M155.0,423.5L223.1,409.2M155.0,423.5L233.4,407.5M155.0,423.5L244.4,405.8M155.0,423.5L229.3,409.2M155.0,423.5L237.6,407.6M155.0,423.5L222.3,410.6M155.0,423.5L236.6,408.0M155.0,423.5L215.7,412.0M155.0,423.5L249.8,405.7M155.0,423.5L249.4,405.9M155.0,423.5L235.2,408.6M155.0,423.5L230.8,409.5M155.0,423.5L227.4,410.2M155.0,423.5L240.3,408.0M155.0,423.5L233.3,409.3M155.0,423.5L237.7,408.6M155.0,423.5L227.3,410.6M155.0,423.5L225.2,411.0M155.0,423.5L236.6,409.1M155.0,423.5L216.3,412.8M155.0,423.5L221.8,411.9M155.0,423.5L217.7,412.7M155.0,423.5L278.4,387.7" stroke="#8a1a2a" stroke-width="0.9" fill="none"/>
<polygon points="175.0,418.0 215.0,400.0 245.0,388.0 248.0,398.0 230.0,406.0 190.0,416.0" fill="#8a1a2a" fill-opacity="0.45"/>
<text x="168.5" y="281.7" font-size="14.5" fill="#4f7a55" stroke="#4f7a55" stroke-width="0.35" text-anchor="middle">SL</text>
<text x="262" y="368.6" font-size="14.3" fill="#7a3040" stroke="#7a3040" stroke-width="0.35" text-anchor="middle">HW</text>
<text x="284.5" y="407.4" font-size="13.8" fill="#2a2a2a" stroke="#2a2a2a" stroke-width="0.4">Outgroup</text>
<text x="264" y="457.2" font-size="14.5" fill="#38456a" stroke="#38456a" stroke-width="0.35" text-anchor="middle">NL</text>
<g opacity="0.85">
<path d="M676,786 L670,781 M676,786 L684,791 L684,798 L700,798 L700,791 L708,786 L714,783" stroke="#e4e8c8" stroke-width="2.2" fill="none" stroke-linecap="round"/>
<path d="M682,787 L702,787 L702,797 L682,797Z" fill="#eef0d6"/>
<circle cx="690.6" cy="774.5" r="11" fill="#c9de8e" fill-opacity="0.75"/>
<circle cx="690.6" cy="774.5" r="8" fill="#d8e8a8" fill-opacity="0.6"/>
<path d="M684,777 Q690.6,782 697,777" stroke="#7a9a50" stroke-width="1" fill="none"/>
<circle cx="686.5" cy="772" r="1" fill="#8aa060"/><circle cx="694.5" cy="772" r="1" fill="#8aa060"/>
</g>
<g stroke="#9a9a9a" stroke-width="1.6" fill="none" stroke-linecap="round" stroke-linejoin="round" opacity="0.85">
<path d="M725,768.5 L726,771.5 M716,774 L735,772.5 L733,776 M726,772 Q720,780 714,784 M720,779.5 L720,790 L725,787 M724,781 Q729,778 732,776 M726,780 Q730,786 737,790"/>
<path d="M748.5,768.5 L748.5,777 M742,771 L744.5,775 M755,770.5 L752.5,775 M739,778 L759,777 M746,778 Q745,786 739,791 M752,778 L752,789 Q753,790.5 760,789.5"/>
<path d="M769,768.5 Q767,773 764.5,776 M768,772 L773,772 M766,776 L773,776 M765,780 L773,780 M769,776 L769,790 L773,787 M778,768.5 Q776,772 774,775 M777,771 L784,771 Q781,776 775,778 M778,774 Q781,777 786,778.5 M775,781 L785,781 M775,784.5 L785,784.5 M774,788 L786,788 M780,778 L780,792"/>
</g>
</svg></body></html>
